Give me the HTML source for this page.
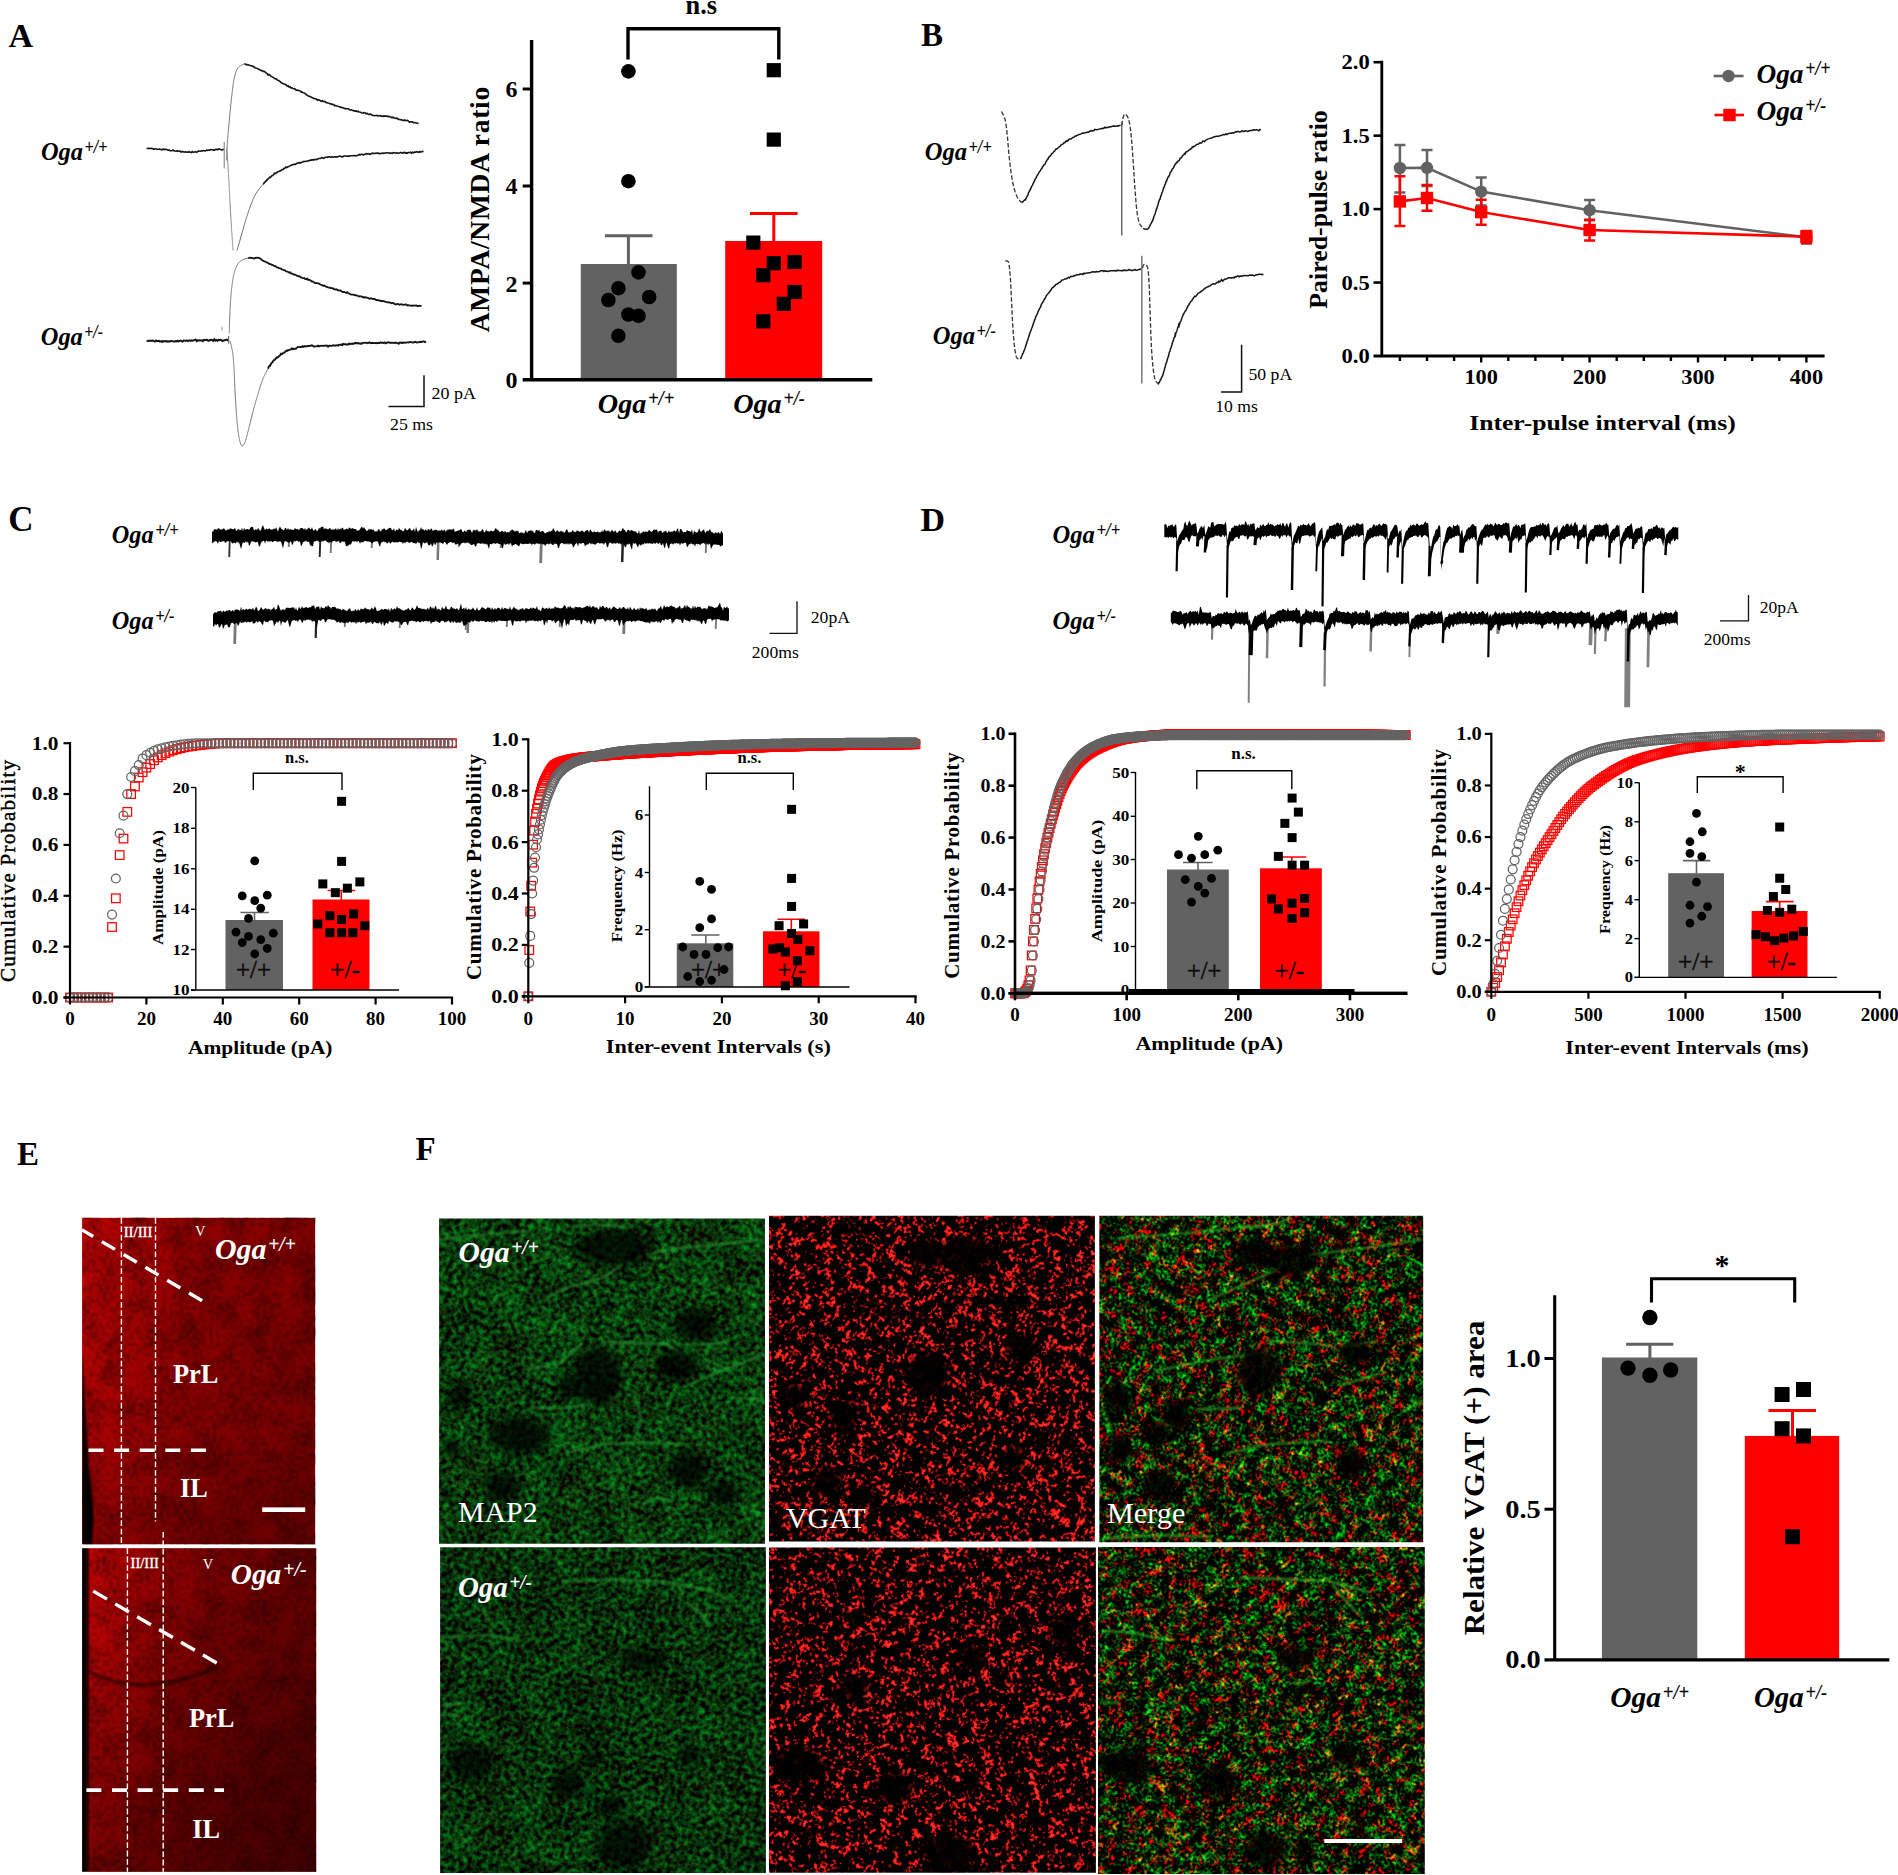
<!DOCTYPE html>
<html lang="en"><head><meta charset="utf-8"><title>Figure</title>
<style>
html,body{margin:0;padding:0;background:#fff;overflow:hidden}
svg{display:block;font-family:"Liberation Serif",serif}
</style></head><body>
<svg xmlns="http://www.w3.org/2000/svg" width="1898" height="1875" viewBox="0 0 1898 1875">
<defs>
<marker id="mc" markerWidth="12" markerHeight="12" refX="6" refY="6" markerUnits="userSpaceOnUse"><circle cx="6" cy="6" r="4.45" fill="none" stroke="#646464" stroke-width="1.25"/></marker>
<marker id="ms" markerWidth="12" markerHeight="12" refX="6" refY="6" markerUnits="userSpaceOnUse"><rect x="1.7" y="1.7" width="8.6" height="8.6" fill="none" stroke="#fe0000" stroke-width="1.25"/></marker>
<filter id="eD" x="0" y="0" width="1" height="1" color-interpolation-filters="sRGB"><feTurbulence type="fractalNoise" baseFrequency="0.3" numOctaves="2" seed="3"/><feColorMatrix type="matrix" values="1 0 0 0 0 0 1 0 0 0 0 0 1 0 0 0 0 0 0 1" result="f"/><feTurbulence type="fractalNoise" baseFrequency="0.04" numOctaves="2" seed="103"/><feColorMatrix type="matrix" values="1 0 0 0 0 0 1 0 0 0 0 0 1 0 0 0 0 0 0 1" result="c"/><feComposite in="f" in2="c" operator="arithmetic" k1="0" k2="1" k3="0.5" k4="-0.25"/><feColorMatrix type="matrix" values="0 0 0 0 0 0 0 0 0 0 0 0 0 0 0 1.15 0 0 0 -0.4"/><feGaussianBlur stdDeviation="0.9"/></filter>
<filter id="eD2" x="0" y="0" width="1" height="1" color-interpolation-filters="sRGB"><feTurbulence type="fractalNoise" baseFrequency="0.3" numOctaves="2" seed="13"/><feColorMatrix type="matrix" values="1 0 0 0 0 0 1 0 0 0 0 0 1 0 0 0 0 0 0 1" result="f"/><feTurbulence type="fractalNoise" baseFrequency="0.04" numOctaves="2" seed="113"/><feColorMatrix type="matrix" values="1 0 0 0 0 0 1 0 0 0 0 0 1 0 0 0 0 0 0 1" result="c"/><feComposite in="f" in2="c" operator="arithmetic" k1="0" k2="1" k3="0.5" k4="-0.25"/><feColorMatrix type="matrix" values="0 0 0 0 0 0 0 0 0 0 0 0 0 0 0 1.15 0 0 0 -0.4"/><feGaussianBlur stdDeviation="0.9"/></filter>
<filter id="gA" x="0" y="0" width="1" height="1" color-interpolation-filters="sRGB"><feTurbulence type="fractalNoise" baseFrequency="0.2" numOctaves="3" seed="21"/><feColorMatrix type="matrix" values="1 0 0 0 0 0 1 0 0 0 0 0 1 0 0 0 0 0 0 1" result="f"/><feTurbulence type="fractalNoise" baseFrequency="0.03" numOctaves="2" seed="121"/><feColorMatrix type="matrix" values="1 0 0 0 0 0 1 0 0 0 0 0 1 0 0 0 0 0 0 1" result="c"/><feComposite in="f" in2="c" operator="arithmetic" k1="0" k2="1" k3="0.35" k4="-0.175"/><feColorMatrix type="matrix" values="0.152 0 0 0 -0.0408 0 0.95 0 0 -0.255 0 0.19 0 0 -0.051000000000000004 0 0 0 0 1"/><feGaussianBlur stdDeviation="0.7"/></filter>
<filter id="gA2" x="0" y="0" width="1" height="1" color-interpolation-filters="sRGB"><feTurbulence type="fractalNoise" baseFrequency="0.2" numOctaves="3" seed="31"/><feColorMatrix type="matrix" values="1 0 0 0 0 0 1 0 0 0 0 0 1 0 0 0 0 0 0 1" result="f"/><feTurbulence type="fractalNoise" baseFrequency="0.03" numOctaves="2" seed="131"/><feColorMatrix type="matrix" values="1 0 0 0 0 0 1 0 0 0 0 0 1 0 0 0 0 0 0 1" result="c"/><feComposite in="f" in2="c" operator="arithmetic" k1="0" k2="1" k3="0.28" k4="-0.14"/><feColorMatrix type="matrix" values="0.152 0 0 0 -0.046400000000000004 0 0.95 0 0 -0.29000000000000004 0 0.19 0 0 -0.05800000000000001 0 0 0 0 1"/><feGaussianBlur stdDeviation="0.7"/></filter>
<filter id="rA" x="0" y="0" width="1" height="1" color-interpolation-filters="sRGB"><feTurbulence type="fractalNoise" baseFrequency="0.3" numOctaves="2" seed="41"/><feColorMatrix type="matrix" values="1 0 0 0 0 0 1 0 0 0 0 0 1 0 0 0 0 0 0 1" result="f"/><feTurbulence type="fractalNoise" baseFrequency="0.11" numOctaves="2" seed="241"/><feColorMatrix type="matrix" values="1 0 0 0 0 0 1 0 0 0 0 0 1 0 0 0 0 0 0 1" result="m2"/><feComposite in="f" in2="m2" operator="arithmetic" k1="1.6" k2="0.19999999999999996" k3="0" k4="0" result="f"/><feTurbulence type="fractalNoise" baseFrequency="0.05" numOctaves="2" seed="141"/><feColorMatrix type="matrix" values="1 0 0 0 0 0 1 0 0 0 0 0 1 0 0 0 0 0 0 1" result="c"/><feComposite in="f" in2="c" operator="arithmetic" k1="0" k2="1" k3="0.3" k4="-0.15"/><feColorMatrix type="matrix" values="8.0 0 0 0 -4.6 0.56 0 0 0 -0.322 0.48 0 0 0 -0.27599999999999997 0 0 0 0 1"/><feGaussianBlur stdDeviation="0.5"/></filter>
<filter id="rA2" x="0" y="0" width="1" height="1" color-interpolation-filters="sRGB"><feTurbulence type="fractalNoise" baseFrequency="0.3" numOctaves="2" seed="51"/><feColorMatrix type="matrix" values="1 0 0 0 0 0 1 0 0 0 0 0 1 0 0 0 0 0 0 1" result="f"/><feTurbulence type="fractalNoise" baseFrequency="0.11" numOctaves="2" seed="251"/><feColorMatrix type="matrix" values="1 0 0 0 0 0 1 0 0 0 0 0 1 0 0 0 0 0 0 1" result="m2"/><feComposite in="f" in2="m2" operator="arithmetic" k1="1.6" k2="0.19999999999999996" k3="0" k4="0" result="f"/><feTurbulence type="fractalNoise" baseFrequency="0.05" numOctaves="2" seed="151"/><feColorMatrix type="matrix" values="1 0 0 0 0 0 1 0 0 0 0 0 1 0 0 0 0 0 0 1" result="c"/><feComposite in="f" in2="c" operator="arithmetic" k1="0" k2="1" k3="0.3" k4="-0.15"/><feColorMatrix type="matrix" values="8.0 0 0 0 -4.6499999999999995 0.56 0 0 0 -0.3255 0.48 0 0 0 -0.27899999999999997 0 0 0 0 1"/><feGaussianBlur stdDeviation="0.5"/></filter>
<filter id="mA" x="0" y="0" width="1" height="1" color-interpolation-filters="sRGB"><feTurbulence type="fractalNoise" baseFrequency="0.33" numOctaves="2" seed="61"/><feColorMatrix type="matrix" values="1 0 0 0 0 0 1 0 0 0 0 0 1 0 0 0 0 0 0 1" result="f"/><feTurbulence type="fractalNoise" baseFrequency="0.1" numOctaves="2" seed="261"/><feColorMatrix type="matrix" values="1 0 0 0 0 0 1 0 0 0 0 0 1 0 0 0 0 0 0 1" result="m2"/><feComposite in="f" in2="m2" operator="arithmetic" k1="1.6" k2="0.19999999999999996" k3="0" k4="0" result="f"/><feTurbulence type="fractalNoise" baseFrequency="0.03" numOctaves="2" seed="161"/><feColorMatrix type="matrix" values="1 0 0 0 0 0 1 0 0 0 0 0 1 0 0 0 0 0 0 1" result="c"/><feComposite in="f" in2="c" operator="arithmetic" k1="0" k2="1" k3="0.3" k4="-0.15"/><feColorMatrix type="matrix" values="3.6 0 0 0 -2.05 0 1.7 0 0 -0.78 0 0.17 0 0 -0.07800000000000001 0 0 0 0 1"/><feGaussianBlur stdDeviation="0.6"/></filter>
<filter id="mA2" x="0" y="0" width="1" height="1" color-interpolation-filters="sRGB"><feTurbulence type="fractalNoise" baseFrequency="0.33" numOctaves="2" seed="71"/><feColorMatrix type="matrix" values="1 0 0 0 0 0 1 0 0 0 0 0 1 0 0 0 0 0 0 1" result="f"/><feTurbulence type="fractalNoise" baseFrequency="0.1" numOctaves="2" seed="271"/><feColorMatrix type="matrix" values="1 0 0 0 0 0 1 0 0 0 0 0 1 0 0 0 0 0 0 1" result="m2"/><feComposite in="f" in2="m2" operator="arithmetic" k1="1.6" k2="0.19999999999999996" k3="0" k4="0" result="f"/><feTurbulence type="fractalNoise" baseFrequency="0.03" numOctaves="2" seed="171"/><feColorMatrix type="matrix" values="1 0 0 0 0 0 1 0 0 0 0 0 1 0 0 0 0 0 0 1" result="c"/><feComposite in="f" in2="c" operator="arithmetic" k1="0" k2="1" k3="0.3" k4="-0.15"/><feColorMatrix type="matrix" values="3.6 0 0 0 -2.05 0 1.7 0 0 -0.78 0 0.17 0 0 -0.07800000000000001 0 0 0 0 1"/><feGaussianBlur stdDeviation="0.6"/></filter>
<filter id="bl6" x="-0.5" y="-0.5" width="2" height="2"><feGaussianBlur stdDeviation="5"/></filter>
<filter id="bl3" x="-0.5" y="-0.5" width="2" height="2"><feGaussianBlur stdDeviation="3"/></filter>
<filter id="bl05" x="-0.5" y="-0.1" width="2" height="1.2"><feGaussianBlur stdDeviation="0.8"/></filter>
<filter id="bl1" x="-0.2" y="-2" width="1.4" height="5"><feGaussianBlur stdDeviation="1.1"/></filter>
<linearGradient id="gE1" x1="0" x2="1" y1="0" y2="0"><stop offset="0" stop-color="#c20404"/><stop offset="0.12" stop-color="#b80303"/><stop offset="0.3" stop-color="#a80202"/><stop offset="0.45" stop-color="#960101"/><stop offset="1" stop-color="#860000"/></linearGradient>
<linearGradient id="gE2" x1="0" x2="1" y1="0" y2="0"><stop offset="0" stop-color="#000"/><stop offset="0.022" stop-color="#200"/><stop offset="0.035" stop-color="#cc0404"/><stop offset="0.15" stop-color="#bc0303"/><stop offset="0.3" stop-color="#a00202"/><stop offset="0.5" stop-color="#8a0101"/><stop offset="0.75" stop-color="#780000"/><stop offset="1" stop-color="#6a0000"/></linearGradient>
<linearGradient id="gEv2" x1="0" x2="0" y1="0" y2="1"><stop offset="0" stop-color="#000" stop-opacity="0"/><stop offset="0.35" stop-color="#000" stop-opacity="0.1"/><stop offset="0.7" stop-color="#000" stop-opacity="0.27"/><stop offset="1" stop-color="#000" stop-opacity="0.36"/></linearGradient>
<linearGradient id="gEv" x1="0" x2="0" y1="0" y2="1"><stop offset="0" stop-color="#000" stop-opacity="0"/><stop offset="0.6" stop-color="#000" stop-opacity="0.05"/><stop offset="1" stop-color="#000" stop-opacity="0.22"/></linearGradient>
<clipPath id="cE1"><rect x="82.1" y="1217.9" width="233" height="326.3"/></clipPath>
<clipPath id="cE2"><rect x="82.1" y="1548.2" width="234" height="323.6"/></clipPath>
<clipPath id="cG1"><rect x="439.1" y="1218.4" width="325.9" height="325.3"/></clipPath>
<clipPath id="cG2"><rect x="440.1" y="1547.2" width="325.8" height="325.8"/></clipPath>
<clipPath id="cR1"><rect x="769" y="1215.8" width="325.9" height="325.8"/></clipPath>
<clipPath id="cR2"><rect x="769" y="1547.4" width="326.9" height="325.3"/></clipPath>
<clipPath id="cM1"><rect x="1099.3" y="1215.8" width="323.9" height="326.4"/></clipPath>
<clipPath id="cM2"><rect x="1098" y="1547.1" width="326.8" height="326.9"/></clipPath>
</defs>
<rect width="1898" height="1875" fill="#fff"/>
<text x="8.5" y="47.2" font-size="34" font-weight="bold">A</text>
<text x="41" y="160" font-size="25.5" font-weight="bold" font-style="italic" textLength="42" lengthAdjust="spacingAndGlyphs">Oga</text>
<text x="84.53" y="153.12" font-size="18.87" font-weight="bold" font-style="italic" textLength="22.8" lengthAdjust="spacingAndGlyphs">+/+</text>
<text x="40.8" y="344.5" font-size="25.5" font-weight="bold" font-style="italic" textLength="42" lengthAdjust="spacingAndGlyphs">Oga</text>
<text x="84.33" y="337.62" font-size="18.87" font-weight="bold" font-style="italic" textLength="18.6" lengthAdjust="spacingAndGlyphs">+/-</text>
<path d="M146.62,148.37 147.64,148.53 148.65,148.39 149.67,148.23 150.69,148.45 151.71,148.33 152.73,148.77 153.74,149.29 154.76,148.73 155.78,148.76 156.79,149.24 157.81,149.27 158.82,149.27 159.84,149 160.85,149.4 161.87,149.76 162.88,149.16 163.89,149.58 164.91,149.2 165.92,149.55 166.93,149.48 167.94,150.18 168.95,149.95 169.97,150.62 170.98,150.71 171.99,150.71 173,150.01 174.02,150.81 175.03,151.08 176.05,151.22 177.06,150.73 178.08,151.19 179.1,151.11 180.11,151.26 181.13,152.01 182.15,151.44 183.17,151.79 184.19,152.19 185.21,151.74 186.22,151.97 187.24,152.1 188.26,152.12 189.28,151.69 190.29,152.16 191.31,152.59 192.32,151.53 193.33,152.3 194.35,151.94 195.36,151.55 196.37,152.34 197.38,151.76 198.39,150.91 199.4,151.2 200.42,151.21 201.43,150.79 202.44,150.95 203.45,150.56 204.47,150.7 205.48,150.88 206.5,150.07 207.51,150.3 208.53,149.99 209.55,150.13 210.56,149.59 211.58,149.74 212.6,149.81 213.62,150.13 214.63,150.15 215.65,149.23 216.67,149.36 217.69,149.82 218.71,148.85 219.73,149.34 220.75,149.43 221.77,149.87 222.79,149.64 223.81,149.26" fill="none" stroke="#151515" stroke-width="1.6"/>
<line x1="224.2" y1="142" x2="224.2" y2="168.5" stroke="#777" stroke-width="1"/>
<path d="M226.32,160.4 226.37,159.39 226.42,158.38 226.47,157.37 226.53,156.36 226.59,155.35 226.64,154.34 226.7,153.33 226.76,152.32 226.83,151.31 226.89,150.3 226.95,149.29 227.02,148.28 227.09,147.27 227.15,146.27 227.22,145.26 227.29,144.25 227.36,143.24 227.43,142.23 227.51,141.22 227.58,140.21 227.65,139.2 227.73,138.2 227.81,137.19 227.89,136.18 227.97,135.17 228.06,134.16 228.15,133.16 228.23,132.15 228.32,131.14 228.41,130.13 228.5,129.13 228.6,128.12 228.69,127.11 228.78,126.1 228.88,125.1 228.97,124.09 229.06,123.08 229.16,122.08 229.25,121.07 229.35,120.06 229.44,119.05 229.53,118.05 229.63,117.04 229.72,116.03 229.81,115.03 229.9,114.02 230,113.01 230.09,112 230.19,111 230.28,109.99 230.38,108.98 230.48,107.98 230.57,106.97 230.67,105.96 230.77,104.96 230.87,103.95 230.98,102.94 231.08,101.94 231.19,100.93 231.3,99.93 231.41,98.92 231.52,97.92 231.63,96.91 231.75,95.91 231.87,94.9 231.99,93.9 232.1,92.89 232.22,91.88 232.34,90.87 232.45,89.86 232.57,88.85 232.7,87.84 232.83,86.83 232.96,85.82 233.1,84.81 233.24,83.81 233.39,82.81 233.55,81.81 233.72,80.82 233.9,79.84 234.09,78.85 234.3,77.88 234.52,76.89 234.76,75.88 235.03,74.84 235.32,73.8 235.64,72.76 236,71.75 236.38,70.77 236.79,69.85 237.23,68.99 237.7,68.21 238.21,67.52 238.83,66.88 239.55,66.28 240.38,65.72 241.29,65.19 242.27,64.71 243.3,64.29 244.36,63.91" fill="none" stroke="#777" stroke-width="1"/>
<path d="M244.36,63.8 245.35,64.07 246.33,64.84 247.31,64.52 248.28,64.83 249.25,65.32 250.2,65.49 251.15,65.79 252.09,65.86 253.03,66.55 253.96,66.81 254.89,67.69 255.82,67.95 256.74,68.18 257.65,68.82 258.56,68.97 259.47,69.84 260.37,69.98 261.27,70.62 262.17,70.53 263.06,71.48 263.95,71.34 264.83,71.72 265.71,72.74 266.58,73.07 267.45,73.9 268.31,75.05 269.17,74.66 270.03,75.25 270.89,76.04 271.75,76.66 272.61,77 273.46,77.52 274.32,78.33 275.19,78.8 276.05,78.86 276.91,79.67 277.77,80.24 278.63,80.46 279.48,81.4 280.34,81.61 281.19,82.71 282.05,83.02 282.91,83.52 283.77,83.84 284.64,84.5 285.51,84.44 286.39,85.19 287.28,86.1 288.17,85.8 289.08,87.12 290,86.75 290.93,87.88 291.87,87.77 292.81,88.62 293.76,88.78 294.72,88.63 295.67,89.81 296.62,90.22 297.57,90.13 298.51,90.44 299.44,90.85 300.37,91.01 301.28,92.06 302.18,92.02 303.07,92.64 303.95,92.91 304.83,93.47 305.71,93.79 306.58,95.07 307.46,95.17 308.33,96.02 309.21,96.24 310.09,96.52 310.99,97.09 311.89,97.46 312.8,98.05 313.72,98.31 314.66,98.68 315.6,98.7 316.55,99.19 317.51,100.24 318.48,99.84 319.45,100.02 320.42,100.72 321.4,101.33 322.37,100.75 323.34,101.42 324.31,101.59 325.28,101.55 326.24,102.62 327.19,102.71 328.15,103.07 329.1,103.16 330.05,103.86 331.01,103.9 331.96,104.36 332.91,104.4 333.87,104.7 334.82,105.79 335.78,105.56 336.74,106.11 337.7,106.31 338.67,106.48 339.63,106.74 340.61,107.35 341.58,107.33 342.56,107.64 343.53,107.95 344.51,108.54 345.49,108.64 346.47,108.8 347.45,108.76 348.43,108.75 349.41,109.7 350.39,109.94 351.37,109.86 352.35,110.3 353.33,110.61 354.32,110.87 355.3,111.13 356.28,110.95 357.26,111.78 358.24,111.18 359.23,112.05 360.21,112.17 361.19,112.52 362.17,113.05 363.16,113.17 364.14,112.62 365.12,112.71 366.1,113.74 367.07,113.47 368.05,114.05 369.03,114.59 370.01,114.11 370.99,114.23 371.97,115.18 372.95,115.34 373.94,115.44 374.93,115.68 375.92,115.53 376.92,115.42 377.92,115.9 378.93,115.72 379.94,115.57 380.95,116.26 381.97,116.13 382.98,116.32 384,115.94 385.01,116.09 386.02,116.05 387.02,116.15 388.02,116.56 389.01,116.37 390,116.86 390.98,117.05 391.96,117.78 392.93,117.01 393.91,117.98 394.88,117.98 395.85,118.31 396.82,118.19 397.8,118.78 398.77,119.44 399.75,119.46 400.73,119.76 401.71,119.87 402.7,120.53 403.68,120.39 404.67,119.96 405.65,120.62 406.64,120.45 407.63,120.27 408.61,121.29 409.6,122.06 410.59,121.87 411.59,121.7 412.58,121.96 413.57,122.77 414.56,122.66 415.56,122.81 416.55,122.95 417.55,123.15 418.55,123.55" fill="none" stroke="#151515" stroke-width="1.6"/>
<path d="M226.82,147.87 226.89,148.89 226.95,149.9 227.02,150.92 227.09,151.94 227.16,152.95 227.23,153.97 227.29,154.99 227.36,156.01 227.43,157.02 227.49,158.04 227.56,159.06 227.63,160.07 227.69,161.09 227.76,162.11 227.82,163.13 227.89,164.14 227.95,165.16 228.01,166.18 228.08,167.2 228.14,168.21 228.2,169.23 228.26,170.25 228.32,171.27 228.39,172.28 228.45,173.3 228.51,174.32 228.57,175.34 228.62,176.35 228.68,177.37 228.74,178.39 228.8,179.41 228.85,180.42 228.91,181.44 228.96,182.46 229.02,183.48 229.07,184.49 229.12,185.51 229.18,186.53 229.23,187.55 229.28,188.57 229.33,189.58 229.39,190.6 229.44,191.62 229.49,192.64 229.54,193.66 229.59,194.67 229.64,195.69 229.69,196.71 229.75,197.73 229.8,198.75 229.85,199.77 229.9,200.78 229.96,201.8 230.01,202.82 230.06,203.84 230.12,204.85 230.17,205.87 230.23,206.89 230.28,207.91 230.34,208.93 230.4,209.94 230.46,210.96 230.51,211.98 230.57,213 230.63,214.01 230.7,215.03 230.76,216.05 230.82,217.07 230.88,218.08 230.94,219.1 231.01,220.12 231.07,221.13 231.13,222.15 231.2,223.17 231.26,224.19 231.33,225.2 231.39,226.22 231.46,227.24 231.53,228.26 231.59,229.27 231.66,230.29 231.73,231.31 231.8,232.32 231.86,233.34 231.93,234.36 232,235.37 232.07,236.39 232.14,237.41 232.21,238.43 232.28,239.44 232.35,240.46 232.43,241.48 232.5,242.49 232.57,243.51 232.64,244.53 232.71,245.54 232.79,246.56 232.86,247.58 232.93,248.59 233.01,249.61 233.08,250.63" fill="none" stroke="#888" stroke-width="1"/>
<path d="M236.84,250.63 237.14,249.66 237.43,248.69 237.73,247.71 238.02,246.74 238.32,245.77 238.61,244.8 238.9,243.83 239.19,242.86 239.48,241.88 239.77,240.91 240.06,239.94 240.35,238.96 240.63,237.99 240.92,237.02 241.2,236.04 241.47,235.06 241.75,234.09 242.02,233.11 242.29,232.13 242.57,231.15 242.84,230.17 243.11,229.2 243.38,228.22 243.66,227.24 243.93,226.26 244.21,225.29 244.49,224.31 244.78,223.34 245.06,222.37 245.36,221.4 245.65,220.43 245.95,219.46 246.25,218.49 246.55,217.52 246.86,216.55 247.16,215.58 247.47,214.61 247.78,213.64 248.1,212.68 248.42,211.71 248.74,210.75 249.07,209.79 249.41,208.83 249.75,207.88 250.09,206.92 250.45,205.98 250.81,205.03 251.18,204.08 251.55,203.13 251.93,202.19 252.31,201.24 252.71,200.29 253.11,199.35 253.53,198.42 253.95,197.5 254.4,196.59 254.85,195.69 255.32,194.8 255.81,193.93 256.32,193.08 256.85,192.22 257.4,191.38 257.97,190.55 258.56,189.72 259.17,188.91 259.8,188.1 260.44,187.3 261.1,186.52 261.77,185.74 262.46,184.97 263.16,184.21" fill="none" stroke="#666" stroke-width="1"/>
<path d="M263.16,184.38 263.81,183.48 264.48,182.33 265.16,182.03 265.85,180.92 266.56,180.73 267.27,179.3 268,178.95 268.75,178.31 269.5,177.26 270.27,177.54 271.05,176.84 271.84,175.67 272.66,175.46 273.5,174.78 274.35,173.33 275.21,173.65 276.08,173.04 276.96,172.56 277.84,171.71 278.73,171.45 279.61,170.98 280.49,170.9 281.38,170.15 282.26,169.56 283.15,169.53 284.04,168.41 284.93,167.98 285.83,167.08 286.74,167.64 287.65,167.02 288.56,166.58 289.49,166.11 290.42,165.57 291.35,165.25 292.3,164.77 293.25,164.46 294.21,164.23 295.18,164.36 296.15,163.79 297.13,163.33 298.11,162.9 299.09,162.63 300.07,163.05 301.05,162.49 302.03,162.13 303.01,161.79 304,161.35 304.99,161.46 305.98,161.55 306.97,160.98 307.97,160.84 308.96,160.66 309.96,160.57 310.95,159.87 311.94,160.09 312.93,159.71 313.92,160.03 314.91,159.32 315.9,159.5 316.89,159.56 317.88,158.78 318.87,158.46 319.85,158.48 320.84,158.2 321.83,157.7 322.82,157.95 323.82,158.25 324.81,157.43 325.81,157.33 326.81,156.99 327.81,157.31 328.81,156.76 329.81,156.72 330.82,157.37 331.82,156.65 332.83,157.18 333.84,157.25 334.85,156.82 335.86,156.86 336.87,157.23 337.88,156.53 338.89,156.37 339.9,156.09 340.91,156.46 341.92,156.85 342.93,156.64 343.95,156.02 344.96,156 345.97,156.05 346.98,156.23 347.99,156.02 349,156.09 350,156.04 351.01,155.79 352.02,155.79 353.02,155.77 354.03,155.59 355.03,155.66 356.04,155.96 357.04,155.46 358.05,155.18 359.05,154.54 360.06,155.04 361.06,154.21 362.06,154.25 363.07,154.8 364.07,154.64 365.07,154.26 366.08,153.67 367.08,153.96 368.09,153.76 369.09,154.05 370.1,154.44 371.1,153.74 372.11,153.36 373.11,153.17 374.12,153.45 375.13,153.36 376.13,153.03 377.14,153.38 378.15,152.97 379.16,153.62 380.17,153.58 381.17,153.57 382.18,153.08 383.19,153.36 384.2,153.15 385.21,153.05 386.22,153.05 387.23,152.75 388.24,152.69 389.25,153.35 390.27,153.04 391.28,153.15 392.29,153.37 393.3,152.53 394.31,152.8 395.32,153.07 396.33,153.11 397.34,152.86 398.35,153.26 399.36,152.99 400.37,152.54 401.38,152.59 402.38,153.08 403.39,152.94 404.4,152.19 405.41,153.13 406.42,152.86 407.43,153.04 408.44,152.47 409.45,152.44 410.45,152.14 411.46,153.18 412.47,152.31 413.48,152.78 414.49,152.05 415.5,152.23 416.5,151.62 417.51,151.94 418.52,152.28 419.53,151.54 420.54,152.17 421.54,151.87 422.55,151.39 423.56,151.48" fill="none" stroke="#151515" stroke-width="1.6"/>
<path d="M146.62,340.67 147.64,340.88 148.67,340.73 149.69,340.66 150.72,340.9 151.74,340.65 152.77,340.58 153.79,341.11 154.82,341.51 155.84,340.57 156.86,341.2 157.89,340.96 158.91,340.85 159.94,341.6 160.96,341.07 161.99,341.89 163.01,340.99 164.04,341.47 165.06,341.23 166.09,341.03 167.11,341.57 168.13,341.28 169.16,341.59 170.18,341.33 171.21,340.92 172.23,341.31 173.26,341.37 174.28,341.74 175.3,340.99 176.33,341.33 177.35,340.65 178.38,341.58 179.4,340.85 180.43,340.53 181.45,341.18 182.47,341.6 183.5,340.5 184.52,340.62 185.54,340.7 186.57,340.48 187.59,341.03 188.62,340.49 189.64,340.46 190.66,340.93 191.69,340.33 192.71,340.75 193.73,340.14 194.76,340 195.78,339.71 196.81,341.15 197.83,340.25 198.85,340.46 199.88,340.34 200.9,340.41 201.93,340.37 202.95,341.11 203.98,339.94 205,339.73 206.03,339.95 207.05,339.82 208.07,340.65 209.1,340.68 210.12,339.97 211.15,339.79 212.17,340.21 213.2,340.91 214.22,339.22 215.25,340.56 216.27,339.92 217.3,340.77 218.32,339.92 219.35,340.24 220.37,339.75 221.4,339.96 222.42,340.91 223.45,340.68 224.47,340.19 225.5,340 226.52,339.59 227.55,340.19 228.57,340.34" fill="none" stroke="#151515" stroke-width="2"/>
<line x1="228.7" y1="335.84" x2="228.7" y2="343.86" stroke="#555" stroke-width="1"/>
<line x1="222" y1="326.57" x2="222" y2="330.83" stroke="#999" stroke-width="1"/>
<path d="M229.32,333.33 229.33,332.31 229.33,331.29 229.34,330.27 229.35,329.26 229.37,328.24 229.38,327.22 229.41,326.2 229.43,325.18 229.46,324.16 229.48,323.14 229.52,322.13 229.55,321.11 229.59,320.09 229.63,319.08 229.67,318.06 229.71,317.04 229.75,316.02 229.8,315.01 229.85,313.99 229.9,312.98 229.95,311.96 230,310.95 230.05,309.93 230.11,308.91 230.17,307.9 230.22,306.88 230.28,305.87 230.34,304.86 230.4,303.84 230.45,302.83 230.51,301.81 230.57,300.8 230.64,299.78 230.7,298.77 230.77,297.75 230.85,296.73 230.93,295.72 231.01,294.7 231.1,293.68 231.19,292.66 231.29,291.65 231.39,290.63 231.5,289.61 231.62,288.6 231.73,287.58 231.86,286.57 231.98,285.56 232.12,284.55 232.25,283.54 232.4,282.54 232.55,281.53 232.7,280.53 232.86,279.54 233.02,278.54 233.2,277.55 233.39,276.54 233.59,275.53 233.82,274.51 234.07,273.49 234.33,272.47 234.61,271.47 234.92,270.47 235.24,269.5 235.59,268.54 235.96,267.61 236.34,266.71 236.75,265.84 237.21,264.99 237.76,264.12 238.39,263.26 239.09,262.43 239.84,261.66 240.62,260.98 241.42,260.4 242.24,259.95 243.1,259.53 244.01,259.15 244.98,258.8 245.98,258.51 247.03,258.29 248.12,258.15" fill="none" stroke="#777" stroke-width="1"/>
<path d="M248.12,258.12 249.2,258.05 250.25,257.68 251.3,257.96 252.32,257.93 253.34,258.31 254.33,258.47 255.32,257.86 256.28,257.67 257.24,257.88 258.18,257.73 259.09,257.91 259.98,258.56 260.85,258.85 261.72,259.98 262.59,260.39 263.48,261.01 264.38,261.33 265.28,261.62 266.18,262 267.09,262.65 268,262.99 268.91,263.66 269.82,264.02 270.73,264.04 271.65,264.89 272.57,264.89 273.49,265.53 274.41,266.04 275.33,265.92 276.25,266.98 277.17,267.41 278.1,267.72 279.02,268.04 279.95,268.46 280.87,268.68 281.8,269.29 282.73,269.6 283.66,270.19 284.58,270.19 285.51,271.02 286.44,271.38 287.37,271.68 288.3,271.98 289.24,272.66 290.17,272.37 291.1,273.39 292.04,273.7 292.98,274.09 293.91,274.49 294.85,274.55 295.79,275.04 296.73,275.67 297.67,275.97 298.61,276.27 299.55,276.12 300.5,277.1 301.44,277.65 302.38,277.96 303.32,278.08 304.27,277.91 305.21,279.01 306.15,279.04 307.1,278.68 308.04,279.91 308.98,279.71 309.93,280.13 310.87,280.68 311.81,281.61 312.76,281.48 313.7,282.03 314.64,282.83 315.59,283.13 316.53,282.98 317.48,283.29 318.42,283.34 319.37,283.86 320.32,284.54 321.27,284.88 322.21,285.13 323.16,285.74 324.11,285.54 325.07,286.09 326.02,286.66 326.97,286.94 327.93,287.41 328.88,287.53 329.84,287.63 330.8,288.14 331.76,288.04 332.71,288.16 333.68,289.13 334.64,289.25 335.6,289.66 336.56,289.36 337.53,290.05 338.49,290.28 339.46,290.49 340.43,290.36 341.39,291.23 342.36,291.88 343.33,292.01 344.3,291.99 345.27,292.45 346.24,292.95 347.21,292.16 348.19,293.22 349.16,293.68 350.13,293.99 351.11,294.55 352.08,294.63 353.06,294.63 354.04,294.87 355.02,295.26 356,295.1 356.98,295.48 357.96,296 358.94,296.54 359.92,296.14 360.9,296.39 361.89,296.69 362.87,297.26 363.86,297.06 364.84,297.73 365.83,297.21 366.82,297.66 367.8,297.87 368.79,298.38 369.77,298.67 370.76,298.12 371.75,298.51 372.73,299.09 373.72,299 374.71,298.96 375.69,299.94 376.68,299.99 377.66,300.21 378.65,300.14 379.63,300.81 380.62,300.65 381.61,301.26 382.59,300.88 383.58,301.11 384.57,301.64 385.55,301.58 386.54,302.2 387.53,302.28 388.52,302.12 389.51,302.62 390.5,302.68 391.49,303.25 392.48,302.96 393.47,303.19 394.47,303.85 395.46,304.31 396.46,304.39 397.45,303.96 398.45,304.15 399.45,304.68 400.45,304.33 401.45,304.21 402.45,304.67 403.45,304.9 404.45,304.64 405.45,304.51 406.46,304.68 407.46,305.42 408.47,305.08 409.47,305.36 410.47,305.54 411.48,305.73 412.48,305.51 413.49,305.82 414.5,305.46 415.5,305.68 416.51,305.53 417.52,306.23 418.53,305.92 419.54,305.74 420.54,305.89 421.55,305.95" fill="none" stroke="#151515" stroke-width="1.8"/>
<path d="M230.08,340.85 230.31,341.84 230.55,342.82 230.79,343.81 231.02,344.8 231.26,345.78 231.49,346.77 231.71,347.76 231.93,348.75 232.13,349.74 232.33,350.73 232.51,351.72 232.67,352.72 232.82,353.71 232.95,354.7 233.06,355.7 233.16,356.7 233.25,357.7 233.34,358.7 233.42,359.7 233.5,360.7 233.58,361.7 233.65,362.7 233.72,363.71 233.79,364.71 233.85,365.72 233.91,366.72 233.97,367.73 234.03,368.74 234.09,369.75 234.14,370.75 234.19,371.76 234.24,372.77 234.29,373.78 234.33,374.79 234.38,375.8 234.42,376.81 234.47,377.82 234.51,378.83 234.55,379.84 234.6,380.86 234.64,381.87 234.68,382.88 234.72,383.89 234.76,384.9 234.81,385.91 234.85,386.92 234.89,387.94 234.94,388.95 234.98,389.96 235.03,390.97 235.08,391.98 235.13,392.99 235.18,394 235.23,395.01 235.28,396.02 235.34,397.03 235.4,398.04 235.46,399.05 235.53,400.06 235.59,401.06 235.66,402.07 235.73,403.08 235.8,404.09 235.86,405.09 235.93,406.1 236,407.11 236.06,408.12 236.13,409.13 236.2,410.14 236.27,411.15 236.34,412.16 236.41,413.17 236.49,414.18 236.56,415.18 236.64,416.19 236.72,417.2 236.8,418.21 236.88,419.22 236.97,420.22 237.06,421.23 237.15,422.23 237.24,423.24 237.34,424.24 237.44,425.25 237.54,426.25 237.65,427.25 237.76,428.25 237.87,429.25 237.99,430.25 238.12,431.25 238.24,432.25 238.38,433.27 238.51,434.29 238.66,435.31 238.82,436.34 239,437.36 239.19,438.37 239.39,439.37 239.62,440.35 239.87,441.32 240.14,442.26 240.44,443.17 240.81,444.11 241.37,445.19 242.03,445.98 242.66,446.01 243.35,445.3 244,444.28 244.49,443.35 244.89,442.47 245.25,441.57 245.59,440.63 245.9,439.68 246.19,438.7 246.46,437.72 246.71,436.72 246.96,435.72 247.21,434.71 247.45,433.71 247.69,432.71 247.95,431.72 248.21,430.74 248.47,429.77 248.73,428.79 248.98,427.82 249.23,426.84 249.48,425.86 249.72,424.88 249.96,423.9 250.2,422.92 250.43,421.93 250.67,420.95 250.9,419.97 251.14,418.99 251.38,418.01 251.61,417.02 251.85,416.04 252.1,415.06 252.34,414.08 252.59,413.1 252.84,412.13 253.1,411.15 253.36,410.18 253.62,409.2 253.89,408.23 254.15,407.25 254.42,406.28 254.69,405.31 254.96,404.33 255.24,403.36 255.51,402.39 255.79,401.42 256.07,400.45 256.35,399.48 256.63,398.51 256.92,397.54 257.21,396.57 257.5,395.61 257.79,394.64 258.09,393.68 258.38,392.71 258.68,391.74 258.97,390.78 259.27,389.81 259.57,388.84 259.87,387.87 260.17,386.91 260.48,385.94 260.79,384.98 261.11,384.02 261.44,383.06 261.77,382.11 262.11,381.16 262.46,380.22 262.82,379.28 263.2,378.35 263.58,377.43 263.99,376.51 264.41,375.59 264.84,374.68 265.28,373.77 265.74,372.87 266.21,371.97 266.68,371.08 267.17,370.19 267.67,369.3 268.17,368.42" fill="none" stroke="#777" stroke-width="1"/>
<path d="M268.17,368.67 268.64,366.94 269.14,366.22 269.66,365.57 270.2,365.72 270.77,364.32 271.35,363.13 271.96,362.62 272.58,362.32 273.23,360.77 273.9,360 274.61,359.85 275.35,358.91 276.12,358.3 276.91,357.24 277.72,357.45 278.54,356.76 279.37,355.76 280.2,355.22 281.03,353.71 281.87,354.07 282.72,353.22 283.59,352.89 284.47,352.45 285.36,351.59 286.26,350.64 287.17,350.94 288.08,350.17 289.01,349.97 289.96,349.55 290.91,349.32 291.88,348.33 292.85,349.27 293.84,348.66 294.82,348.7 295.82,348.76 296.82,347.85 297.81,347 298.81,347.12 299.81,346.84 300.81,346.93 301.8,346.99 302.8,346.12 303.8,346.8 304.81,346.01 305.81,346.51 306.82,346.25 307.83,346.07 308.84,346.05 309.85,345.81 310.86,345.72 311.88,345.3 312.89,345.86 313.9,346.51 314.91,346.56 315.92,346.33 316.93,346.11 317.94,345.63 318.95,346.37 319.97,345.85 320.98,345.84 321.99,345.76 323,345.9 324.01,345.71 325.03,345.84 326.04,345.48 327.05,345.72 328.06,346.63 329.07,345.77 330.07,345.66 331.08,345.87 332.09,345.86 333.1,345.15 334.11,345.38 335.12,345.68 336.12,345.35 337.13,345.2 338.14,345.6 339.15,344.71 340.16,344.86 341.16,344.54 342.17,345.14 343.18,343.82 344.19,344.17 345.2,344.12 346.2,344.44 347.21,344.33 348.22,344.52 349.23,343.41 350.24,344.16 351.25,343.74 352.26,343.55 353.27,343.92 354.28,343.35 355.29,342.89 356.3,343.43 357.31,342.98 358.32,343.22 359.33,343.53 360.34,343.45 361.35,343.85 362.36,343.17 363.38,342.66 364.39,342.88 365.4,342.78 366.41,342.64 367.42,343.18 368.43,342.76 369.44,342.27 370.45,343.17 371.47,342.87 372.48,343.01 373.49,342.91 374.5,343.08 375.51,342.87 376.52,343.29 377.53,343.01 378.55,342.99 379.56,343 380.57,342.35 381.58,342.8 382.59,342.77 383.6,342.93 384.62,342.38 385.63,343.43 386.64,342.89 387.65,342.43 388.66,342.26 389.68,342.76 390.69,342.83 391.7,342.61 392.71,342.89 393.72,342.63 394.74,343.05 395.75,342.6 396.76,342.84 397.77,343.2 398.78,343.76 399.79,342.5 400.8,342.69 401.81,342.56 402.83,343.12 403.84,342.43 404.85,342.65 405.86,342.78 406.87,342.42 407.88,342.39 408.89,342.52 409.9,341.91 410.91,342.1 411.92,342.41 412.93,342.55 413.94,342.38 414.95,341.76 415.96,342.16 416.97,342.54 417.98,342.38 419,342.09 420.01,341.74 421.02,342.2 422.03,341.7 423.04,341.42 424.05,341.47 425.06,342.19 426.07,341.68" fill="none" stroke="#151515" stroke-width="1.9"/>
<path d="M388.5,406.5H424V375.3" fill="none" stroke="#111" stroke-width="1.5"/>
<text x="431.5" y="399.3" font-size="17.5" textLength="44.5" lengthAdjust="spacingAndGlyphs">20 pA</text>
<text x="390" y="430.2" font-size="17.5" textLength="43" lengthAdjust="spacingAndGlyphs">25 ms</text>
<rect x="580.8" y="264" width="96" height="116" fill="#626262"/>
<rect x="725.2" y="241" width="97" height="139" fill="#fe0000"/>
<path d="M628.4,265V235.8M605,235.8H652.5" fill="none" stroke="#626262" stroke-width="3"/>
<path d="M773.8,242V213.5M750,213.5H797.6" fill="none" stroke="#fe0000" stroke-width="3"/>
<path d="M531.6,40V381.4M522.7,379.7H872.3" fill="none" stroke="#000" stroke-width="3.4"/>
<line x1="522.7" y1="89" x2="531" y2="89" stroke="#000" stroke-width="3"/>
<text x="517.6" y="97.4" font-size="24" font-weight="bold" text-anchor="end">6</text>
<line x1="522.7" y1="186" x2="531" y2="186" stroke="#000" stroke-width="3"/>
<text x="517.6" y="194.4" font-size="24" font-weight="bold" text-anchor="end">4</text>
<line x1="522.7" y1="283.1" x2="531" y2="283.1" stroke="#000" stroke-width="3"/>
<text x="517.6" y="291.5" font-size="24" font-weight="bold" text-anchor="end">2</text>
<text x="517.6" y="388.1" font-size="24" font-weight="bold" text-anchor="end">0</text>
<circle cx="628.4" cy="71.4" r="7.3" fill="#000"/>
<circle cx="628.4" cy="181.2" r="7.3" fill="#000"/>
<circle cx="638.5" cy="272.4" r="7.3" fill="#000"/>
<circle cx="618.4" cy="288.2" r="7.3" fill="#000"/>
<circle cx="608.4" cy="300" r="7.3" fill="#000"/>
<circle cx="649.2" cy="297" r="7.3" fill="#000"/>
<circle cx="628.4" cy="314.5" r="7.3" fill="#000"/>
<circle cx="638.5" cy="315.8" r="7.3" fill="#000"/>
<circle cx="618.4" cy="335.8" r="7.3" fill="#000"/>
<rect x="766.7" y="63.1" width="14.2" height="14.2" fill="#000"/>
<rect x="766.7" y="132.5" width="14.2" height="14.2" fill="#000"/>
<rect x="746.2" y="235.5" width="14.2" height="14.2" fill="#000"/>
<rect x="766.7" y="256.1" width="14.2" height="14.2" fill="#000"/>
<rect x="787.5" y="254.9" width="14.2" height="14.2" fill="#000"/>
<rect x="756.2" y="268.1" width="14.2" height="14.2" fill="#000"/>
<rect x="787.5" y="284.9" width="14.2" height="14.2" fill="#000"/>
<rect x="776.7" y="296.7" width="14.2" height="14.2" fill="#000"/>
<rect x="756.2" y="314.2" width="14.2" height="14.2" fill="#000"/>
<path d="M628,59.6V28.8H778.8V59.6" fill="none" stroke="#000" stroke-width="3.4"/>
<text x="685.6" y="13.5" font-size="27" font-weight="bold" textLength="31.5" lengthAdjust="spacingAndGlyphs">n.s</text>
<text x="489.3" y="209.6" font-size="27.5" font-weight="bold" text-anchor="middle" textLength="245.5" lengthAdjust="spacing" transform="rotate(-90 489.3 209.6)" font-kerning="none">AMPA/NMDA ratio</text>
<text x="597.8" y="413" font-size="28" font-weight="bold" font-style="italic" textLength="48.5" lengthAdjust="spacingAndGlyphs">Oga</text>
<text x="647.98" y="405.44" font-size="20.72" font-weight="bold" font-style="italic" textLength="26.5" lengthAdjust="spacingAndGlyphs">+/+</text>
<text x="733.2" y="413" font-size="28" font-weight="bold" font-style="italic" textLength="48.5" lengthAdjust="spacingAndGlyphs">Oga</text>
<text x="783.38" y="405.44" font-size="20.72" font-weight="bold" font-style="italic" textLength="21.5" lengthAdjust="spacingAndGlyphs">+/-</text>
<text x="921" y="46" font-size="33" font-weight="bold">B</text>
<text x="924.8" y="160" font-size="26" font-weight="bold" font-style="italic" textLength="42.2" lengthAdjust="spacingAndGlyphs">Oga</text>
<text x="968.56" y="152.98" font-size="19.24" font-weight="bold" font-style="italic" textLength="23.2" lengthAdjust="spacingAndGlyphs">+/+</text>
<text x="932.8" y="343.9" font-size="26" font-weight="bold" font-style="italic" textLength="42.2" lengthAdjust="spacingAndGlyphs">Oga</text>
<text x="976.56" y="336.88" font-size="19.24" font-weight="bold" font-style="italic" textLength="19.3" lengthAdjust="spacingAndGlyphs">+/-</text>
<path d="M1001.5,111.53 1002,112.44 1002.49,113.35 1002.97,114.27 1003.43,115.19 1003.85,116.12 1004.25,117.06 1004.6,118 1004.91,118.96 1005.17,119.91 1005.39,120.88 1005.58,121.86 1005.75,122.84 1005.92,123.84 1006.07,124.84 1006.21,125.84 1006.35,126.85 1006.47,127.87 1006.59,128.88 1006.7,129.9 1006.81,130.92 1006.92,131.94 1007.02,132.96 1007.13,133.98 1007.23,134.99 1007.34,136 1007.44,137.01 1007.54,138.02 1007.63,139.03 1007.72,140.04 1007.81,141.05 1007.89,142.06 1007.97,143.07 1008.05,144.09 1008.13,145.1 1008.21,146.11 1008.29,147.12 1008.37,148.14 1008.46,149.15 1008.54,150.16 1008.63,151.17 1008.72,152.18 1008.81,153.19 1008.9,154.2 1009,155.21 1009.11,156.22 1009.21,157.23 1009.32,158.24 1009.43,159.25 1009.54,160.26 1009.65,161.27 1009.77,162.28 1009.89,163.29 1010.01,164.3 1010.13,165.31 1010.25,166.32 1010.38,167.32 1010.51,168.33 1010.64,169.34 1010.78,170.34 1010.92,171.35 1011.06,172.35 1011.21,173.36 1011.36,174.36 1011.52,175.36 1011.68,176.36 1011.84,177.36 1012.01,178.37 1012.18,179.37 1012.36,180.38 1012.55,181.38 1012.75,182.38 1012.95,183.37 1013.17,184.37 1013.39,185.36 1013.62,186.34 1013.87,187.32 1014.12,188.29 1014.39,189.27 1014.68,190.26 1014.98,191.24 1015.31,192.23 1015.65,193.2 1016.01,194.16 1016.4,195.11 1016.81,196.04 1017.24,196.94 1017.69,197.81 1018.19,198.65 1018.76,199.47 1019.4,200.26 1020.09,201.03 1020.81,201.78 1021.55,202.51" fill="none" stroke="#333" stroke-width="1.3" stroke-dasharray="4.5 2"/>
<path d="M1021.55,202.85 1022.41,201.76 1023.24,201.55 1024.02,200.43 1024.74,199.87 1025.37,199.92 1025.93,198.62 1026.45,197.41 1026.93,196.67 1027.39,195.88 1027.82,195.22 1028.24,193.77 1028.65,192.43 1029.06,191.91 1029.48,191.05 1029.9,190.14 1030.34,189.58 1030.79,188.37 1031.24,187.61 1031.68,186.12 1032.12,185.8 1032.57,185.25 1033.01,183.94 1033.45,182.87 1033.89,181.93 1034.34,181.51 1034.8,179.79 1035.26,179.13 1035.73,178.41 1036.21,177.6 1036.7,176.36 1037.2,175.71 1037.72,174.66 1038.24,173.91 1038.77,172.98 1039.31,171.81 1039.86,171.29 1040.41,170.71 1040.96,169.3 1041.51,168.67 1042.07,168.09 1042.62,166.72 1043.17,166.24 1043.71,165.01 1044.25,164.8 1044.79,164.29 1045.33,163.33 1045.87,161.8 1046.41,161.22 1046.96,160.18 1047.52,159.32 1048.09,158.92 1048.67,157.23 1049.26,157.13 1049.87,156 1050.5,155.66 1051.15,154.53 1051.82,153.52 1052.51,153.06 1053.21,152.46 1053.94,151.53 1054.67,150.95 1055.41,149.94 1056.16,148.77 1056.91,149 1057.67,148.27 1058.44,147.45 1059.21,146.77 1059.99,146.41 1060.78,145.31 1061.57,144.6 1062.38,144.13 1063.19,143.93 1064.01,142.55 1064.84,142.73 1065.68,141.61 1066.52,140.91 1067.37,141.07 1068.22,140.14 1069.08,139.26 1069.96,139.03 1070.84,138.91 1071.73,138.5 1072.63,137.52 1073.53,137.3 1074.44,136.92 1075.36,136.07 1076.28,135.93 1077.21,135.39 1078.14,134.84 1079.08,134.47 1080.01,134.27 1080.95,133.91 1081.9,133.4 1082.86,133.12 1083.82,133.27 1084.78,132.7 1085.75,132.61 1086.73,132.42 1087.71,131.96 1088.69,132.19 1089.68,131 1090.67,131.24 1091.66,130.65 1092.64,131.06 1093.63,130.77 1094.62,129.44 1095.61,129.51 1096.59,129.77 1097.58,129.59 1098.57,129.36 1099.56,128.91 1100.56,128.86 1101.55,128.72 1102.55,128.31 1103.55,128.45 1104.54,127.27 1105.54,127.96 1106.54,127.27 1107.54,127.69 1108.53,127.16 1109.53,126.79 1110.53,126.99 1111.53,126.44 1112.53,126.27 1113.53,125.91 1114.53,126.21 1115.53,126.21 1116.54,126.21 1117.54,125.71 1118.54,125.92 1119.55,125.46 1120.55,125.29" fill="none" stroke="#161616" stroke-width="1.5"/>
<line x1="1121.8" y1="122.81" x2="1121.8" y2="235.59" stroke="#444" stroke-width="1.2"/>
<path d="M1122.06,125.31 1122.08,124.25 1122.15,123.2 1122.25,122.17 1122.39,121.16 1122.56,120.17 1122.75,119.2 1122.95,118.24 1123.2,117.25 1123.61,116.08 1124.12,114.97 1124.69,114.21 1125.25,114.07 1125.93,114.52 1126.66,115.36 1127.36,116.39 1127.91,117.42 1128.26,118.31 1128.56,119.22 1128.83,120.16 1129.08,121.13 1129.3,122.12 1129.51,123.13 1129.7,124.15 1129.87,125.18 1130.03,126.22 1130.18,127.26 1130.32,128.29 1130.45,129.32 1130.58,130.33 1130.7,131.33 1130.82,132.33 1130.93,133.34 1131.04,134.35 1131.15,135.35 1131.25,136.36 1131.35,137.37 1131.44,138.38 1131.53,139.39 1131.62,140.4 1131.71,141.41 1131.79,142.43 1131.87,143.44 1131.95,144.45 1132.03,145.47 1132.1,146.48 1132.18,147.5 1132.25,148.51 1132.32,149.52 1132.39,150.54 1132.46,151.55 1132.53,152.57 1132.6,153.58 1132.67,154.6 1132.74,155.61 1132.81,156.63 1132.88,157.64 1132.96,158.65 1133.03,159.67 1133.1,160.68 1133.18,161.69 1133.25,162.7 1133.32,163.72 1133.39,164.73 1133.46,165.74 1133.53,166.76 1133.59,167.77 1133.66,168.78 1133.72,169.79 1133.79,170.81 1133.85,171.82 1133.91,172.83 1133.98,173.85 1134.04,174.86 1134.1,175.87 1134.17,176.89 1134.23,177.9 1134.29,178.91 1134.36,179.93 1134.42,180.94 1134.49,181.95 1134.56,182.97 1134.62,183.98 1134.69,184.99 1134.76,186.01 1134.83,187.02 1134.91,188.03 1134.98,189.04 1135.06,190.06 1135.13,191.07 1135.21,192.08 1135.28,193.09 1135.36,194.11 1135.43,195.12 1135.51,196.14 1135.58,197.15 1135.66,198.16 1135.74,199.18 1135.82,200.19 1135.9,201.21 1135.98,202.22 1136.07,203.23 1136.16,204.24 1136.26,205.25 1136.36,206.26 1136.47,207.27 1136.57,208.28 1136.69,209.28 1136.81,210.29 1136.94,211.29 1137.07,212.31 1137.21,213.34 1137.36,214.37 1137.52,215.4 1137.69,216.43 1137.88,217.45 1138.08,218.46 1138.31,219.46 1138.55,220.43 1138.81,221.39 1139.09,222.31 1139.41,223.21 1139.81,224.08 1140.34,224.92 1140.96,225.74 1141.64,226.53 1142.36,227.31 1143.11,228.07" fill="none" stroke="#333" stroke-width="1.3" stroke-dasharray="4.5 2"/>
<path d="M1143.11,228.27 1144.18,229.06 1145.19,228.96 1146.12,229.19 1146.93,229.27 1147.65,229.08 1148.32,228.09 1148.94,227.86 1149.52,226.32 1150.06,225.55 1150.57,224.13 1151.04,223.67 1151.49,222.79 1151.92,221.59 1152.33,221.52 1152.72,220 1153.1,219.55 1153.47,218.31 1153.83,216.79 1154.18,215.94 1154.54,215.28 1154.89,214.2 1155.23,213.25 1155.56,212.18 1155.88,210.69 1156.2,210.28 1156.51,208.62 1156.82,208.57 1157.13,207.22 1157.44,206.26 1157.74,205.47 1158.05,204.68 1158.36,203.12 1158.67,202.04 1158.99,201.32 1159.32,200.02 1159.65,199.44 1159.97,199.38 1160.3,197.5 1160.62,197.14 1160.94,195.47 1161.26,195.09 1161.59,193.91 1161.91,193.05 1162.24,192.31 1162.57,191.77 1162.9,190.26 1163.24,189.29 1163.59,187.95 1163.94,187.55 1164.29,186.31 1164.65,185.75 1165.02,184.51 1165.4,184.2 1165.79,181.97 1166.18,181.63 1166.58,181.11 1166.99,179.75 1167.4,178.67 1167.83,177.93 1168.25,176.62 1168.69,176.22 1169.14,176.12 1169.59,174.75 1170.05,173.06 1170.52,172.24 1171,171.52 1171.49,171.13 1171.99,169.62 1172.5,168.8 1173.02,168.5 1173.55,167.65 1174.09,166.38 1174.66,165.28 1175.24,164.3 1175.83,163.77 1176.44,162.42 1177.05,162.65 1177.69,161.36 1178.33,160.95 1178.98,160.65 1179.64,159.63 1180.31,158.06 1180.99,158.01 1181.68,157.37 1182.37,155.98 1183.07,155.19 1183.78,154.79 1184.5,153.57 1185.23,153.96 1185.98,151.92 1186.74,151.7 1187.51,151.32 1188.29,150.68 1189.08,150.17 1189.88,149.57 1190.69,148.78 1191.51,148.64 1192.33,146.89 1193.16,147.06 1193.99,146.24 1194.83,145.98 1195.68,145.48 1196.52,144.56 1197.39,144.14 1198.26,144.14 1199.14,143.49 1200.03,142.64 1200.93,143.11 1201.84,142.74 1202.75,140.97 1203.67,141.15 1204.6,141.5 1205.53,140.48 1206.46,139.89 1207.39,139.36 1208.33,138.89 1209.27,138.66 1210.21,138.2 1211.17,138.33 1212.13,137.61 1213.09,137.29 1214.06,136.73 1215.04,136.84 1216.01,136.27 1216.99,136.25 1217.97,136.41 1218.95,135.92 1219.93,135.73 1220.91,135.44 1221.9,135.1 1222.88,134.81 1223.87,134.53 1224.86,134.7 1225.85,133.85 1226.84,134.5 1227.83,133.85 1228.83,133.39 1229.82,133.29 1230.82,133.05 1231.81,133.16 1232.81,132.67 1233.8,133.15 1234.8,132.29 1235.79,131.59 1236.79,131.95 1237.78,131.32 1238.78,131.83 1239.78,132.04 1240.77,131.73 1241.77,130.88 1242.77,130.93 1243.77,131.69 1244.77,131.05 1245.78,130.84 1246.78,131.11 1247.78,131.5 1248.79,131.01 1249.79,130.51 1250.8,130.5 1251.81,130.51 1252.81,130 1253.82,129.78 1254.83,130.1 1255.84,129.69 1256.85,129.94 1257.86,129.95 1258.88,130.7 1259.89,129.55 1260.9,129.78" fill="none" stroke="#161616" stroke-width="1.5"/>
<path d="M1005.26,260.65 1006.46,260.77 1007.46,261.01 1007.95,261.33 1008.3,261.88 1008.59,262.66 1008.85,263.62 1009.06,264.71 1009.25,265.89 1009.4,267.11 1009.54,268.33 1009.66,269.5 1009.76,270.58 1009.86,271.58 1009.96,272.58 1010.05,273.59 1010.13,274.6 1010.21,275.6 1010.29,276.61 1010.36,277.62 1010.43,278.64 1010.5,279.65 1010.56,280.66 1010.62,281.68 1010.67,282.69 1010.73,283.71 1010.78,284.72 1010.83,285.74 1010.88,286.76 1010.93,287.77 1010.97,288.79 1011.02,289.81 1011.06,290.83 1011.11,291.84 1011.15,292.86 1011.2,293.88 1011.24,294.9 1011.29,295.91 1011.34,296.93 1011.39,297.95 1011.44,298.96 1011.49,299.98 1011.54,300.99 1011.59,302 1011.65,303.02 1011.7,304.03 1011.75,305.05 1011.79,306.06 1011.84,307.08 1011.89,308.09 1011.93,309.11 1011.98,310.12 1012.03,311.14 1012.07,312.15 1012.12,313.17 1012.16,314.18 1012.21,315.2 1012.26,316.21 1012.31,317.22 1012.36,318.24 1012.41,319.25 1012.46,320.27 1012.51,321.28 1012.57,322.29 1012.63,323.31 1012.69,324.32 1012.75,325.33 1012.82,326.35 1012.88,327.36 1012.95,328.38 1013.01,329.39 1013.08,330.41 1013.15,331.42 1013.22,332.44 1013.29,333.46 1013.37,334.47 1013.44,335.49 1013.52,336.51 1013.61,337.52 1013.69,338.53 1013.79,339.55 1013.88,340.56 1013.98,341.57 1014.08,342.58 1014.19,343.59 1014.3,344.59 1014.42,345.6 1014.55,346.6 1014.68,347.6 1014.82,348.6 1014.96,349.67 1015.12,350.82 1015.29,352.01 1015.47,353.2 1015.69,354.36 1015.93,355.45 1016.21,356.44 1016.53,357.28 1016.9,357.95 1017.32,358.41 1018.04,358.75 1019.12,359 1020.3,359.15" fill="none" stroke="#333" stroke-width="1.3" stroke-dasharray="4.5 2"/>
<path d="M1020.3,359.1 1020.75,358.38 1021.19,357.65 1021.63,356.28 1022.06,355.27 1022.48,354.11 1022.89,353.41 1023.29,352.92 1023.68,351.85 1024.05,350.6 1024.41,349.86 1024.76,349.04 1025.09,348.23 1025.42,346.95 1025.74,346.1 1026.05,344.68 1026.36,343.92 1026.67,343.79 1026.97,341.69 1027.27,341.28 1027.58,340.48 1027.88,339.35 1028.19,338.26 1028.5,337.52 1028.82,336.58 1029.14,335.61 1029.47,334.12 1029.8,333.68 1030.12,332.52 1030.45,331.66 1030.77,330.94 1031.1,330.11 1031.42,329.23 1031.75,327.86 1032.08,327.34 1032.42,326.46 1032.75,325.5 1033.09,324.63 1033.44,323.22 1033.78,322.27 1034.14,321.63 1034.49,320.03 1034.86,319.57 1035.23,318.41 1035.6,317.53 1035.98,316.19 1036.37,315.51 1036.76,314.85 1037.16,314.19 1037.56,313.3 1037.97,312.06 1038.38,311.1 1038.8,309.99 1039.23,309.45 1039.66,308.34 1040.09,307.69 1040.54,307.13 1040.99,305.7 1041.44,304.37 1041.91,303.67 1042.37,302.6 1042.85,301.78 1043.32,301.64 1043.81,300.42 1044.3,299.01 1044.8,298.78 1045.31,298.08 1045.83,296.72 1046.36,295.77 1046.9,295.02 1047.46,294.37 1048.02,293.66 1048.61,293.02 1049.2,292.24 1049.82,291.45 1050.45,290.73 1051.11,289.74 1051.79,288.32 1052.48,287.98 1053.19,287.37 1053.92,286.43 1054.66,286.12 1055.41,285.06 1056.17,284.24 1056.95,284.33 1057.74,283.52 1058.54,282.83 1059.36,282.51 1060.21,282.02 1061.07,281.29 1061.96,279.95 1062.85,280 1063.76,279.6 1064.69,278.99 1065.61,278.91 1066.55,278.8 1067.49,277.9 1068.43,277.33 1069.37,277.92 1070.31,276.85 1071.25,276.3 1072.2,276.43 1073.15,276.2 1074.12,275.57 1075.08,275.74 1076.06,275.1 1077.04,274.71 1078.02,274.79 1079,274.73 1079.99,274.08 1080.98,274.15 1081.97,273.82 1082.96,274.49 1083.95,273.24 1084.94,273.69 1085.93,273.09 1086.92,272.89 1087.91,272.98 1088.9,272.86 1089.9,272.81 1090.89,272.37 1091.89,271.93 1092.89,271.81 1093.89,271.98 1094.89,271.87 1095.89,272 1096.89,271.59 1097.89,271.69 1098.89,271.74 1099.9,271.26 1100.9,270.71 1101.9,270.75 1102.9,270.63 1103.91,271.5 1104.91,270.73 1105.92,271.32 1106.92,271.1 1107.93,271.41 1108.94,271.17 1109.94,270.81 1110.95,270.75 1111.96,270.81 1112.96,270.81 1113.97,270.57 1114.98,270.69 1115.98,271.14 1116.99,270.12 1117.99,270.68 1119,270.3 1120.01,270.6 1121.01,270.76 1122.02,270.46 1123.02,270.68 1124.03,269.94 1125.04,270.72 1126.04,270.17 1127.05,270.51 1128.05,270.34 1129.06,269.47 1130.06,269.97 1131.07,270.22 1132.07,270.57 1133.08,270.13 1134.08,270.05 1135.08,269.48 1136.09,270.26 1137.09,270.3 1138.09,269.69 1139.1,269.53 1140.1,269.02 1141.1,269.69" fill="none" stroke="#161616" stroke-width="1.5"/>
<line x1="1141.85" y1="255.64" x2="1141.85" y2="383.46" stroke="#555" stroke-width="1.2"/>
<path d="M1142.61,268.17 1142.84,266.62 1143.23,265.45 1143.73,264.71 1144.3,264.41 1145.15,264.6 1146.25,265.13 1146.91,265.74 1147.22,266.41 1147.48,267.22 1147.72,268.15 1147.92,269.16 1148.09,270.24 1148.23,271.36 1148.35,272.49 1148.46,273.61 1148.55,274.7 1148.63,275.74 1148.7,276.74 1148.77,277.74 1148.83,278.75 1148.89,279.75 1148.95,280.75 1149.01,281.76 1149.06,282.77 1149.12,283.77 1149.17,284.78 1149.21,285.79 1149.26,286.8 1149.3,287.81 1149.34,288.82 1149.38,289.83 1149.41,290.84 1149.45,291.85 1149.48,292.86 1149.52,293.87 1149.55,294.88 1149.58,295.89 1149.61,296.91 1149.64,297.92 1149.67,298.93 1149.7,299.94 1149.73,300.96 1149.76,301.97 1149.79,302.98 1149.82,303.99 1149.85,305.01 1149.88,306.02 1149.91,307.03 1149.94,308.04 1149.97,309.05 1150.01,310.06 1150.04,311.08 1150.08,312.09 1150.12,313.1 1150.16,314.11 1150.2,315.11 1150.23,316.12 1150.27,317.13 1150.31,318.14 1150.34,319.15 1150.38,320.16 1150.41,321.17 1150.45,322.18 1150.48,323.19 1150.51,324.2 1150.55,325.22 1150.58,326.23 1150.62,327.24 1150.65,328.25 1150.69,329.26 1150.72,330.27 1150.76,331.28 1150.79,332.29 1150.83,333.3 1150.87,334.3 1150.91,335.31 1150.95,336.32 1150.99,337.33 1151.03,338.34 1151.07,339.35 1151.11,340.36 1151.16,341.37 1151.21,342.38 1151.25,343.39 1151.3,344.4 1151.35,345.41 1151.41,346.42 1151.46,347.42 1151.52,348.43 1151.57,349.44 1151.63,350.45 1151.69,351.46 1151.76,352.47 1151.82,353.49 1151.89,354.5 1151.96,355.51 1152.03,356.52 1152.1,357.53 1152.18,358.53 1152.26,359.54 1152.34,360.55 1152.43,361.56 1152.52,362.56 1152.62,363.57 1152.72,364.57 1152.82,365.58 1152.92,366.58 1153.04,367.58 1153.15,368.58 1153.27,369.59 1153.39,370.62 1153.53,371.67 1153.67,372.72 1153.82,373.77 1153.99,374.82 1154.18,375.85 1154.39,376.85 1154.62,377.84 1154.87,378.78 1155.16,379.69 1155.47,380.55 1155.86,381.35 1156.49,382.1 1157.3,382.79 1158.15,383.46" fill="none" stroke="#333" stroke-width="1.3" stroke-dasharray="4.5 2"/>
<path d="M1158.15,384.4 1158.73,382.87 1159.31,382.22 1159.87,381.11 1160.4,379.71 1160.91,379.65 1161.38,377.87 1161.81,377.33 1162.2,376.59 1162.56,375.88 1162.91,374.78 1163.24,373.83 1163.55,372.47 1163.85,371.32 1164.14,370.83 1164.42,369.58 1164.7,368.39 1164.97,367.43 1165.23,366.71 1165.5,365.25 1165.76,364.44 1166.03,363.36 1166.31,363.02 1166.59,362.12 1166.88,361.71 1167.18,359.52 1167.48,358.84 1167.77,358.43 1168.07,357.07 1168.36,356.07 1168.65,355.81 1168.95,354.13 1169.24,352.88 1169.53,351.85 1169.83,351.46 1170.12,350.49 1170.42,348.94 1170.72,348.11 1171.02,347.67 1171.33,346.73 1171.63,345.34 1171.94,344.82 1172.25,343.84 1172.57,342.06 1172.89,341.62 1173.21,340.91 1173.54,339.61 1173.87,338.11 1174.2,337.81 1174.53,337.21 1174.86,336.55 1175.2,334.27 1175.53,335 1175.88,332.74 1176.22,332.52 1176.57,331.66 1176.92,330.63 1177.27,329.39 1177.63,327.98 1177.99,327.67 1178.36,326.26 1178.73,324.68 1179.1,325.62 1179.48,323.94 1179.87,323.4 1180.26,321.52 1180.65,321.42 1181.06,320.54 1181.46,319.61 1181.87,318.13 1182.29,316.79 1182.71,316.23 1183.14,314.6 1183.57,313.85 1184.01,313.57 1184.46,312.28 1184.91,311.66 1185.38,310.78 1185.85,310.6 1186.33,309.49 1186.82,308.14 1187.32,307.7 1187.82,306.15 1188.34,305.45 1188.87,305.03 1189.42,303.42 1189.98,302.91 1190.55,301.69 1191.13,301.35 1191.73,301.05 1192.35,299.4 1192.97,298.94 1193.61,297.76 1194.27,296.91 1194.94,296.14 1195.62,296.37 1196.32,296 1197.05,294.67 1197.81,293.59 1198.58,293.44 1199.38,292.44 1200.19,292.22 1201.02,291.44 1201.86,290.84 1202.71,290.38 1203.56,289.4 1204.41,288.92 1205.27,287.92 1206.12,287.85 1206.98,287 1207.85,286.94 1208.74,286.16 1209.62,286.05 1210.52,285.7 1211.43,284.58 1212.33,284.34 1213.25,283.85 1214.17,284.01 1215.09,283.92 1216.02,283.21 1216.94,282.39 1217.87,282.64 1218.8,281.22 1219.74,281.89 1220.68,280.76 1221.62,279.64 1222.57,281.17 1223.52,280.43 1224.47,279.16 1225.43,279.24 1226.4,278.79 1227.36,278.6 1228.33,277.76 1229.3,277.79 1230.28,277.97 1231.26,277.69 1232.24,277.85 1233.23,277.29 1234.22,277.92 1235.22,276.69 1236.22,276.88 1237.22,275.98 1238.22,276.08 1239.23,276.86 1240.24,275.94 1241.25,276.34 1242.26,276.03 1243.26,275.58 1244.27,275.72 1245.28,275.56 1246.28,275.48 1247.29,275.82 1248.29,275.69 1249.3,275.17 1250.3,274.97 1251.31,275.3 1252.31,275.09 1253.32,275.4 1254.33,275.89 1255.34,275.19 1256.34,274.81 1257.35,274.69 1258.36,274.39 1259.37,274.31 1260.38,274.22 1261.39,274.39 1262.4,274.33 1263.41,274.7" fill="none" stroke="#161616" stroke-width="1.5"/>
<path d="M1221.1,392H1241.6V344.8" fill="none" stroke="#111" stroke-width="1.5"/>
<text x="1248.5" y="379.5" font-size="17.5" textLength="43.7" lengthAdjust="spacingAndGlyphs">50 pA</text>
<text x="1215.3" y="412.2" font-size="17.5" textLength="42.5" lengthAdjust="spacingAndGlyphs">10 ms</text>
<path d="M1399.9,145V192.4M1394.4,145H1405.4M1394.4,192.4H1405.4M1427,150V186M1421.5,150H1432.5M1421.5,186H1432.5M1481.2,177.4V205.6M1475.7,177.4H1486.7M1475.7,205.6H1486.7M1589.6,200V220.2M1584.1,200H1595.1M1584.1,220.2H1595.1M1806.4,231.5V243.5M1800.9,231.5H1811.9M1800.9,243.5H1811.9" fill="none" stroke="#626262" stroke-width="2.5"/>
<path d="M1399.9,168 1427,167.8 1481.2,191.6 1589.6,210.2 1806.4,237.3" fill="none" stroke="#626262" stroke-width="2.6"/>
<circle cx="1399.9" cy="168" r="6.2" fill="#626262"/>
<circle cx="1427" cy="167.8" r="6.2" fill="#626262"/>
<circle cx="1481.2" cy="191.6" r="6.2" fill="#626262"/>
<circle cx="1589.6" cy="210.2" r="6.2" fill="#626262"/>
<circle cx="1806.4" cy="237.3" r="6.2" fill="#626262"/>
<path d="M1399.9,176.2V226M1394.4,176.2H1405.4M1394.4,226H1405.4M1427,185V210.8M1421.5,185H1432.5M1421.5,210.8H1432.5M1481.2,199.8V224.7M1475.7,199.8H1486.7M1475.7,224.7H1486.7M1589.6,219.7V240.5M1584.1,219.7H1595.1M1584.1,240.5H1595.1M1806.4,231V243M1800.9,231H1811.9M1800.9,243H1811.9" fill="none" stroke="#fe0000" stroke-width="2.5"/>
<path d="M1399.9,201.4 1427,198 1481.2,212.1 1589.6,230 1806.4,236.7" fill="none" stroke="#fe0000" stroke-width="2.6"/>
<rect x="1393.7" y="195.2" width="12.4" height="12.4" fill="#fe0000"/>
<rect x="1420.8" y="191.8" width="12.4" height="12.4" fill="#fe0000"/>
<rect x="1475" y="205.9" width="12.4" height="12.4" fill="#fe0000"/>
<rect x="1583.4" y="223.8" width="12.4" height="12.4" fill="#fe0000"/>
<rect x="1800.2" y="230.5" width="12.4" height="12.4" fill="#fe0000"/>
<path d="M1381.8,60.8V357.3M1373.5,356H1824.6" fill="none" stroke="#000" stroke-width="2.8"/>
<line x1="1373.5" y1="282.55" x2="1382" y2="282.55" stroke="#000" stroke-width="2.6"/>
<line x1="1373.5" y1="209.1" x2="1382" y2="209.1" stroke="#000" stroke-width="2.6"/>
<line x1="1373.5" y1="135.65" x2="1382" y2="135.65" stroke="#000" stroke-width="2.6"/>
<line x1="1373.5" y1="62.2" x2="1382" y2="62.2" stroke="#000" stroke-width="2.6"/>
<text x="1369.8" y="363.2" font-size="20.5" font-weight="bold" text-anchor="end" textLength="28.2" lengthAdjust="spacingAndGlyphs">0.0</text>
<text x="1369.8" y="289.75" font-size="20.5" font-weight="bold" text-anchor="end" textLength="28.2" lengthAdjust="spacingAndGlyphs">0.5</text>
<text x="1369.8" y="216.3" font-size="20.5" font-weight="bold" text-anchor="end" textLength="28.2" lengthAdjust="spacingAndGlyphs">1.0</text>
<text x="1369.8" y="142.85" font-size="20.5" font-weight="bold" text-anchor="end" textLength="28.2" lengthAdjust="spacingAndGlyphs">1.5</text>
<text x="1369.8" y="69.4" font-size="20.5" font-weight="bold" text-anchor="end" textLength="28.2" lengthAdjust="spacingAndGlyphs">2.0</text>
<path d="M1399.9,356V361M1427,356V361M1454.1,356V361M1481.2,356V362.5M1508.3,356V361M1535.4,356V361M1562.5,356V361M1589.6,356V362.5M1616.7,356V361M1643.8,356V361M1670.9,356V361M1698,356V362.5M1725.1,356V361M1752.2,356V361M1779.3,356V361M1806.4,356V362.5" fill="none" stroke="#000" stroke-width="2.4"/>
<text x="1481.2" y="383.5" font-size="20.5" font-weight="bold" text-anchor="middle" textLength="33.5" lengthAdjust="spacingAndGlyphs">100</text>
<text x="1589.6" y="383.5" font-size="20.5" font-weight="bold" text-anchor="middle" textLength="33.5" lengthAdjust="spacingAndGlyphs">200</text>
<text x="1698" y="383.5" font-size="20.5" font-weight="bold" text-anchor="middle" textLength="33.5" lengthAdjust="spacingAndGlyphs">300</text>
<text x="1806.4" y="383.5" font-size="20.5" font-weight="bold" text-anchor="middle" textLength="33.5" lengthAdjust="spacingAndGlyphs">400</text>
<text x="1469.2" y="430" font-size="21.5" font-weight="bold" textLength="266.5" lengthAdjust="spacingAndGlyphs">Inter-pulse interval (ms)</text>
<text x="1327" y="209.5" font-size="25" font-weight="bold" text-anchor="middle" textLength="198.5" lengthAdjust="spacingAndGlyphs" transform="rotate(-90 1327 209.5)">Paired-pulse ratio</text>
<line x1="1713.7" y1="76" x2="1743.6" y2="76" stroke="#626262" stroke-width="2.6"/>
<circle cx="1728.5" cy="76" r="6.2" fill="#626262"/>
<line x1="1714.5" y1="115" x2="1744" y2="115" stroke="#fe0000" stroke-width="2.6"/>
<rect x="1723.3" y="108.8" width="12.4" height="12.4" fill="#fe0000"/>
<text x="1756.5" y="82.7" font-size="27.5" font-weight="bold" font-style="italic" textLength="47" lengthAdjust="spacingAndGlyphs">Oga</text>
<text x="1805.15" y="75.28" font-size="20.35" font-weight="bold" font-style="italic" textLength="25.3" lengthAdjust="spacingAndGlyphs">+/+</text>
<text x="1756.5" y="119.7" font-size="27.5" font-weight="bold" font-style="italic" textLength="47" lengthAdjust="spacingAndGlyphs">Oga</text>
<text x="1805.15" y="112.28" font-size="20.35" font-weight="bold" font-style="italic" textLength="21" lengthAdjust="spacingAndGlyphs">+/-</text>
<text x="8.3" y="531.2" font-size="35" font-weight="bold">C</text>
<text x="111.8" y="542.7" font-size="25.5" font-weight="bold" font-style="italic" textLength="41.8" lengthAdjust="spacingAndGlyphs">Oga</text>
<text x="155.13" y="535.82" font-size="18.87" font-weight="bold" font-style="italic" textLength="23.7" lengthAdjust="spacingAndGlyphs">+/+</text>
<text x="111.8" y="628.8" font-size="25.5" font-weight="bold" font-style="italic" textLength="41.8" lengthAdjust="spacingAndGlyphs">Oga</text>
<text x="155.13" y="621.91" font-size="18.87" font-weight="bold" font-style="italic" textLength="19.5" lengthAdjust="spacingAndGlyphs">+/-</text>
<path d="M229.9,534.93L229.2,557" fill="none" stroke="#333" stroke-width="1.86"/>
<path d="M320.4,534.54L319.7,557" fill="none" stroke="#222" stroke-width="1.86"/>
<path d="M331.4,534.51L330.7,553M501.4,536.97L500.7,548M706.4,537.3L705.7,553M372.4,535.13L371.7,548M289.4,534.67L288.7,547M459.4,536.4L458.7,547" fill="none" stroke="#777" stroke-width="1.86"/>
<path d="M438.4,536.11L437.7,560" fill="none" stroke="#777" stroke-width="2.48"/>
<path d="M541.4,537.49L540.7,563" fill="none" stroke="#777" stroke-width="2.79"/>
<path d="M622.9,536.67L622.2,562" fill="none" stroke="#222" stroke-width="2.48"/>
<path d="M212,530.55 213,532.15 214,529.34 215,529.46 216,529.01 217,529.97 218,527.92 219,528.46 220,529.17 221,529.81 222,529.16 223,528.65 224,528.25 225,529.76 226,530.78 227,529.54 228,529.39 229,529.67 230,528.14 231,528.83 232,528.87 233,529.49 234,529.12 235,527.81 236,530.39 237,531.01 238,528.87 239,529.69 240,529.63 241,530.3 242,527.83 243,531.27 244,527.69 245,529.45 246,529.52 247,528.94 248,528.99 249,530.08 250,528.14 251,526.97 252,526.84 253,527.19 254,530.5 255,529.7 256,529.04 257,530.34 258,528 259,528.97 260,530.94 261,530.12 262,526.59 263,525.37 264,527.89 265,530.19 266,528.5 267,528.78 268,529.68 269,528.03 270,529.24 271,529.87 272,529.51 273,529.43 274,528.33 275,529.55 276,527.24 277,529.14 278,531.8 279,528.15 280,526.57 281,528.49 282,529.37 283,530.1 284,530.13 285,528.08 286,528.06 287,530.33 288,527.73 289,530.12 290,528.67 291,529.76 292,529.69 293,529.76 294,529.81 295,527.81 296,529.22 297,528.91 298,529.22 299,530.24 300,528.58 301,528.09 302,528.07 303,528.52 304,529.69 305,527.96 306,530.13 307,529.17 308,528.59 309,527.37 310,529.1 311,529.59 312,526.88 313,530.13 314,530.63 315,529.19 316,529.35 317,531.46 318,530.16 319,527.81 320,528.77 321,527.1 322,527.11 323,526.18 324,529.61 325,528.07 326,528.95 327,528.61 328,529.72 329,528.43 330,527.88 331,529.35 332,530.33 333,528.44 334,530.32 335,529.11 336,528.25 337,530.53 338,527.97 339,530 340,528.35 341,529.41 342,527.57 343,528.02 344,530.13 345,529.18 346,529.03 347,528.52 348,529.51 349,527.5 350,527.82 351,528.89 352,528.16 353,528.32 354,529.03 355,528.97 356,528.9 357,530.99 358,530.28 359,530.54 360,529.17 361,527.52 362,526.49 363,528.86 364,526.97 365,528.63 366,530.13 367,531.09 368,530.38 369,528.39 370,529.89 371,528.5 372,530.29 373,529.27 374,530.35 375,532.26 376,530.45 377,532.02 378,529.67 379,529.12 380,530.97 381,531.41 382,528.92 383,529.63 384,527.98 385,529.35 386,530.57 387,529.51 388,528.99 389,528.09 390,527.76 391,528.25 392,530.34 393,529.98 394,528.31 395,531.66 396,529.68 397,529.6 398,530.58 399,527.41 400,529.82 401,529.8 402,530.4 403,531.44 404,530.38 405,527.86 406,529.52 407,530.13 408,530.08 409,528.53 410,528.12 411,530.57 412,530.44 413,530.1 414,528.31 415,532.1 416,526.85 417,529.65 418,532.37 419,529.91 420,530.36 421,526.91 422,529.72 423,528.72 424,530.44 425,530.32 426,529.03 427,531.18 428,528.66 429,529.48 430,530.22 431,528.34 432,529.32 433,531.31 434,529.98 435,529.72 436,529.76 437,529.94 438,531.25 439,530.13 440,530.83 441,530.3 442,529.48 443,531.38 444,529.3 445,530.46 446,532.1 447,529.28 448,530.43 449,528.77 450,529.96 451,528.89 452,530.15 453,528.44 454,529.19 455,532.33 456,530.92 457,531.34 458,530.58 459,530.38 460,529.74 461,528.69 462,530.76 463,532.49 464,531.24 465,530.14 466,532.56 467,530.28 468,530.09 469,529.45 470,529.74 471,530.54 472,533.02 473,530.61 474,529.72 475,530.2 476,530.63 477,529.01 478,531.04 479,531.69 480,531.28 481,531.61 482,529.54 483,529.1 484,532.4 485,532.2 486,529.32 487,531.25 488,531.07 489,531.65 490,531.3 491,530.53 492,531.31 493,531.28 494,531.07 495,529.1 496,527.86 497,530.29 498,529.4 499,531.5 500,531.99 501,531.51 502,530.83 503,531.32 504,532.54 505,530.47 506,532.47 507,532.32 508,531.76 509,533.07 510,530.55 511,531.04 512,528.99 513,530.54 514,530.23 515,531.9 516,530.39 517,531.49 518,530.2 519,532.64 520,533.5 521,531.74 522,533.31 523,532.13 524,533.92 525,531.66 526,529.83 527,533.21 528,531.45 529,530.46 530,530.89 531,529.84 532,531.46 533,530.48 534,533.3 535,532.41 536,529.87 537,530.05 538,531.1 539,529.62 540,531.63 541,531.69 542,530.88 543,531.12 544,532.26 545,533.26 546,533.34 547,531.72 548,532.61 549,530.85 550,532.1 551,530.58 552,531.42 553,527.97 554,529.28 555,531.59 556,532.2 557,530 558,530.98 559,531.71 560,531.8 561,530.62 562,531.64 563,531.23 564,533.05 565,532.11 566,530.03 567,529.06 568,531.58 569,532.76 570,531.64 571,532.41 572,530.9 573,529.92 574,532.23 575,531.51 576,532.14 577,529.86 578,531.57 579,530.67 580,532.24 581,530.7 582,530.66 583,530.68 584,532.7 585,531.33 586,530.45 587,530.16 588,530.12 589,532.87 590,529.25 591,530.3 592,531.93 593,532.52 594,531.05 595,532.06 596,532.03 597,532.26 598,531.22 599,532.98 600,531.39 601,532.84 602,529.94 603,532.18 604,529.75 605,529.48 606,531.67 607,530.2 608,531.59 609,529.92 610,532.85 611,531.09 612,529.83 613,531.26 614,532.03 615,530.2 616,531.61 617,533.28 618,531.98 619,531 620,530.38 621,531.63 622,529.32 623,527.63 624,530.24 625,529.77 626,532.87 627,531.1 628,529.85 629,529.64 630,531.46 631,529.99 632,530.32 633,530.94 634,531.21 635,531.41 636,531.59 637,533.01 638,533.54 639,530.05 640,534.84 641,532.15 642,533.31 643,530.98 644,531.97 645,531.65 646,531.31 647,531.89 648,531.62 649,529.83 650,530.82 651,531.77 652,531.73 653,530.62 654,529.54 655,529.69 656,529.81 657,529.62 658,532.78 659,530.63 660,531.18 661,530.26 662,532.53 663,533.04 664,530.88 665,531.7 666,530.32 667,533.1 668,532.19 669,530.26 670,532.57 671,531.6 672,531.67 673,531.62 674,530.51 675,530.66 676,531.95 677,529.31 678,528.33 679,533.53 680,529.24 681,528.87 682,530.57 683,532.1 684,532.43 685,531.64 686,532.34 687,529.74 688,530.99 689,530.9 690,531.43 691,531.98 692,529.21 693,534.9 694,530.52 695,531.86 696,532.4 697,532.44 698,531.78 699,528.32 700,530.34 701,532.38 702,530.54 703,530.41 704,528.99 705,532.93 706,532.16 707,530.62 708,531.47 709,530.19 710,529.08 711,531.42 712,532.15 713,532.61 714,533.71 715,532.63 716,532.34 717,533.46 718,532.45 719,531.88 720,534.6 721,530.98 722,531.51 723,534.02 723,545.8 722,544.99 721,546.65 720,545.86 719,544.8 718,545.08 717,544.78 716,544.43 715,544.42 714,544.39 713,545.1 712,547.02 711,549.29 710,543.38 709,544.07 708,545.19 707,543.09 706,544.6 705,544.27 704,543.04 703,543.23 702,543.32 701,544.14 700,545.33 699,543.7 698,544.22 697,544.13 696,543.47 695,546.84 694,544.08 693,544.63 692,543.86 691,543.27 690,544.53 689,544.09 688,546.4 687,546.96 686,543.07 685,542.85 684,542.98 683,543.74 682,543.42 681,542.89 680,545.69 679,542.81 678,544.17 677,542.8 676,543.48 675,543.27 674,543.46 673,544.85 672,543.29 671,543.78 670,544.02 669,549.12 668,547.45 667,544.12 666,542.62 665,548.23 664,547.09 663,543.03 662,545.1 661,545.35 660,542.85 659,543.14 658,544.14 657,542.46 656,543.09 655,544.2 654,542.61 653,544.07 652,543.42 651,543.68 650,543.25 649,543.1 648,544.07 647,542.62 646,544.3 645,543.12 644,543.54 643,544.94 642,543.86 641,545.77 640,544.98 639,544.06 638,547.41 637,545.73 636,543.53 635,543.37 634,543.98 633,542.85 632,549.45 631,548.05 630,544.01 629,543.48 628,545.08 627,543.53 626,547.33 625,547.11 624,544.88 623,543.26 622,543.6 621,544.72 620,543.34 619,543.38 618,543.73 617,542.53 616,543.84 615,543.59 614,543.09 613,543.81 612,543.73 611,542.8 610,542.59 609,543.18 608,547.23 607,547.07 606,543.04 605,542.62 604,545.05 603,543.07 602,543.65 601,542.73 600,544 599,543.1 598,542.83 597,543.25 596,543.96 595,544.98 594,543.78 593,544.45 592,543.02 591,544.64 590,542.76 589,543.54 588,544.41 587,544.41 586,544.88 585,546.41 584,543.35 583,542.98 582,543.01 581,543.98 580,543.22 579,543.19 578,546.54 577,543.04 576,543.38 575,544.47 574,546.65 573,547.57 572,543.85 571,544.6 570,543 569,545.05 568,543.04 567,544.87 566,543.57 565,543.8 564,544.47 563,543.31 562,543.06 561,543.35 560,544.13 559,547.87 558,547.88 557,543.77 556,544.27 555,543.36 554,544.36 553,545.17 552,544.59 551,543.8 550,543.28 549,544.81 548,543.53 547,543.98 546,544.39 545,546.37 544,543.69 543,544.78 542,543.66 541,543.86 540,543.55 539,544.32 538,543.45 537,543.47 536,543.23 535,544.77 534,543.96 533,543.44 532,545.05 531,543.92 530,543.33 529,543.71 528,544.04 527,543.89 526,543.64 525,543.73 524,544.15 523,544.09 522,544.2 521,543.05 520,544.32 519,546.81 518,545.22 517,545.22 516,543.86 515,544.36 514,545.02 513,544.9 512,546.78 511,543.48 510,542.9 509,545.16 508,543.36 507,544.17 506,544.2 505,545.01 504,542.98 503,547.88 502,548.37 501,543.91 500,543.97 499,544.28 498,543.6 497,542.7 496,544.06 495,543.43 494,543.4 493,543.02 492,544.46 491,543.92 490,543.97 489,548.98 488,546.18 487,543.45 486,544.79 485,543.35 484,544.38 483,543.02 482,543.74 481,543.38 480,544.09 479,542.83 478,543.4 477,543.52 476,546.73 475,546.25 474,543.75 473,544.84 472,544.66 471,545.13 470,543.43 469,543.47 468,542.52 467,542.53 466,543.12 465,543.6 464,542.28 463,542.94 462,542.91 461,543.82 460,546.09 459,544.94 458,543.47 457,544.08 456,544.85 455,544.07 454,542.27 453,542.9 452,542.71 451,542.08 450,542.1 449,542.97 448,543.33 447,544.89 446,543.46 445,542.11 444,542 443,544.41 442,542.82 441,542.98 440,542.33 439,542.55 438,542.38 437,542.33 436,543.54 435,545.39 434,542.04 433,545.49 432,546.45 431,543.33 430,545.25 429,545.49 428,544.39 427,541.92 426,542.66 425,543.17 424,543.21 423,541.67 422,546.81 421,549.24 420,542.45 419,543.39 418,541.59 417,542.67 416,543.83 415,543.22 414,542.98 413,543.14 412,541.72 411,541.93 410,542.63 409,542.63 408,542.3 407,541.44 406,542.33 405,543.32 404,541.93 403,543.92 402,542.57 401,541.93 400,542.03 399,541.69 398,542.39 397,541.92 396,542.83 395,541.65 394,542.92 393,541.73 392,541.79 391,543 390,543.69 389,541.35 388,543.09 387,543.84 386,541.98 385,542.5 384,541.26 383,541.69 382,542.18 381,542.66 380,546.93 379,545.37 378,541.34 377,541.71 376,540.95 375,542.02 374,541.56 373,542.62 372,543.55 371,542.57 370,542.1 369,541.29 368,541.65 367,541.25 366,541.24 365,540.87 364,541.47 363,542.27 362,542.54 361,541.86 360,543.78 359,541.48 358,540.71 357,542.46 356,540.99 355,541.25 354,541.94 353,540.8 352,541.89 351,544.41 350,544.48 349,544.41 348,546.05 347,545.67 346,546.61 345,542.13 344,541.33 343,542.16 342,541.04 341,542.68 340,543.31 339,541.21 338,541.16 337,541.17 336,542.24 335,540.55 334,541.16 333,540.76 332,542.47 331,542.41 330,541.71 329,543.49 328,541.88 327,542.35 326,540.51 325,540.79 324,540.49 323,541.82 322,540.54 321,542.47 320,541.04 319,542.54 318,540.47 317,541.09 316,540.65 315,542.09 314,540.93 313,546.12 312,546.21 311,545.53 310,545.17 309,541.52 308,541.63 307,542.06 306,540.42 305,541.35 304,541.86 303,542.37 302,544.69 301,546.5 300,541.34 299,542.11 298,541.15 297,540.53 296,541.12 295,541.85 294,540.46 293,543.97 292,545.07 291,541.02 290,542.44 289,542.37 288,542.72 287,541.58 286,541.83 285,540.62 284,543.21 283,548.58 282,545.01 281,541.53 280,541.54 279,541.5 278,541.16 277,542.35 276,541.02 275,541.08 274,541.12 273,542.03 272,542.1 271,540.59 270,542.31 269,540.7 268,541.92 267,540.95 266,540.52 265,543.74 264,540.54 263,541.34 262,541.56 261,542.78 260,546.11 259,546.64 258,542.3 257,541.6 256,542.84 255,542.04 254,541.84 253,541.57 252,540.91 251,541.99 250,544.93 249,545.79 248,541.18 247,542.88 246,541.22 245,542.57 244,543.13 243,541.72 242,545.3 241,549.24 240,545.17 239,542.55 238,542.67 237,541.28 236,543.17 235,543.13 234,542.31 233,543.5 232,543.18 231,541.58 230,540.84 229,541.07 228,541.35 227,541.27 226,542.42 225,542.75 224,540.8 223,541.47 222,541.13 221,542.04 220,542.06 219,541.12 218,544 217,541.84 216,541.35 215,541.03 214,541.99 213,542.52 212,543.38Z" fill="#000"/>
<path d="M235.4,616.45L234.7,644M624.4,614L623.7,634" fill="none" stroke="#777" stroke-width="2.79"/>
<path d="M316.4,613.23L315.7,638" fill="none" stroke="#222" stroke-width="2.17"/>
<path d="M468.4,614.5L467.7,633" fill="none" stroke="#777" stroke-width="2.48"/>
<path d="M400.4,614.83L399.7,628M466.4,614.5L465.7,630M716.4,612.91L715.7,629M507.4,614.5L506.7,627M345.4,615.75L344.7,627M560.4,613.75L559.7,627" fill="none" stroke="#777" stroke-width="1.86"/>
<path d="M213,614.58 214,613.1 215,611.94 216,612.84 217,612.16 218,611.11 219,611.5 220,611.05 221,610.62 222,612.79 223,610.73 224,610.73 225,612.26 226,610.78 227,610.4 228,610.72 229,610.14 230,609.87 231,611.64 232,610.58 233,609.97 234,611.89 235,609.12 236,610.36 237,608.99 238,609.96 239,610.03 240,611.33 241,606.52 242,610.94 243,608.43 244,609.7 245,610.24 246,608.48 247,609.2 248,609.81 249,609.1 250,608.4 251,609.39 252,609.28 253,607.48 254,610.6 255,609.32 256,606.38 257,608.11 258,610.88 259,610.71 260,609.23 261,607.05 262,608.62 263,610.02 264,609.26 265,608.43 266,607.96 267,609.65 268,608.48 269,609.04 270,609.2 271,610.43 272,608.8 273,608.86 274,606.58 275,609.77 276,609.62 277,608.74 278,604.3 279,606.06 280,608.75 281,610.97 282,609.21 283,609.51 284,609.52 285,610.19 286,607.59 287,607.88 288,607.4 289,608.22 290,607.79 291,608.16 292,606.89 293,608.09 294,607.02 295,610.26 296,607.32 297,610.68 298,609.64 299,606.49 300,608.84 301,608.44 302,606.06 303,608.4 304,607.62 305,608.08 306,606.74 307,607.6 308,608.1 309,607.43 310,606.94 311,607.42 312,605.16 313,606.6 314,604.73 315,609.19 316,607.58 317,606.54 318,606.94 319,606.09 320,609.96 321,606.2 322,607.93 323,607.75 324,608.82 325,607.35 326,605.79 327,607.74 328,604.72 329,607.12 330,606.84 331,609.09 332,607 333,606.89 334,606.83 335,606.98 336,607.72 337,609.36 338,607.74 339,609.44 340,608.4 341,609.9 342,610.24 343,608.68 344,609.39 345,610.12 346,610.84 347,611.02 348,609.83 349,608.83 350,608.13 351,610.76 352,611.42 353,610.27 354,611.58 355,609.33 356,609.38 357,611.53 358,608.67 359,610.43 360,610.17 361,607.96 362,609.69 363,608.73 364,609.21 365,607.36 366,608.49 367,609.07 368,609.19 369,609.37 370,609.91 371,608.83 372,607.36 373,609.7 374,608.14 375,606.37 376,608.61 377,611.41 378,610.58 379,610.64 380,610.16 381,609.56 382,608.82 383,610 384,609.13 385,608.85 386,609.3 387,609.21 388,610.27 389,608.2 390,612.01 391,608.12 392,608.74 393,610.24 394,608.26 395,608.63 396,609.18 397,605.85 398,608.55 399,608.03 400,608.81 401,609.62 402,609.76 403,610.7 404,610.61 405,610.14 406,608.94 407,610.12 408,607.85 409,608.83 410,610.51 411,609.78 412,607.34 413,608.21 414,609.86 415,609.52 416,608.08 417,604.91 418,607.39 419,608.5 420,607.68 421,608.73 422,608.78 423,609.15 424,608.62 425,609.39 426,609.63 427,608.94 428,607.42 429,610.2 430,606.57 431,606.8 432,608.96 433,606.99 434,609.41 435,606.45 436,605.83 437,610.2 438,608.43 439,609.09 440,609.76 441,610.56 442,606.76 443,607.95 444,609.52 445,608.03 446,605.16 447,608.93 448,609.02 449,609.65 450,609.02 451,606.43 452,607.16 453,608.73 454,608.21 455,609.05 456,609.16 457,607.65 458,609.91 459,609.69 460,607.18 461,603.26 462,608.9 463,608.63 464,607.66 465,609.41 466,607.1 467,610.13 468,609.19 469,608.21 470,610.34 471,609.28 472,609.14 473,607.32 474,609.35 475,610.32 476,609.99 477,607.33 478,610.3 479,610.54 480,609.7 481,608.33 482,607.09 483,607.75 484,608.11 485,609.05 486,609.36 487,607.92 488,606.93 489,608.28 490,607.26 491,610.21 492,607.37 493,609.26 494,609.64 495,607.63 496,609.83 497,608.56 498,607.83 499,607.66 500,608.83 501,609.89 502,606.6 503,609.38 504,608.53 505,607.86 506,608.58 507,608.68 508,608.63 509,609.6 510,606.3 511,609.49 512,609.69 513,608.04 514,606.56 515,608.68 516,608.25 517,609.53 518,609.51 519,610.84 520,608.57 521,609.58 522,608.21 523,608.25 524,610.35 525,608.48 526,608.5 527,608.21 528,608.95 529,609.23 530,608.42 531,607.26 532,608.9 533,607.59 534,608.09 535,608.71 536,608.73 537,605.86 538,610.3 539,609.28 540,610.53 541,611.15 542,607.29 543,607.69 544,608.57 545,609.31 546,607.68 547,607.88 548,609.4 549,607.2 550,608.4 551,609.35 552,607.83 553,608.96 554,607.95 555,606.29 556,607.43 557,607.78 558,607.61 559,607.99 560,608.38 561,608.23 562,608.09 563,607.38 564,605.32 565,605.13 566,607.14 567,609.29 568,605.64 569,607.98 570,605.88 571,607.01 572,608.53 573,607.31 574,609.15 575,606.52 576,607.22 577,606.82 578,607.51 579,607.13 580,607.03 581,607.52 582,608.62 583,607.54 584,607.41 585,607 586,606.51 587,605.67 588,606.08 589,607.25 590,605.08 591,607.89 592,606.68 593,606.09 594,606.5 595,607.81 596,607.47 597,607.34 598,608.98 599,609.62 600,605.61 601,608.06 602,606.29 603,605.67 604,606.67 605,608.43 606,607.02 607,606.89 608,609.03 609,608.1 610,607.5 611,609.65 612,608.24 613,606.95 614,606.6 615,607.39 616,608.09 617,608.99 618,608.93 619,608.17 620,606.79 621,609.16 622,608.28 623,607.01 624,606.89 625,608.53 626,608.71 627,609.27 628,607.05 629,610.57 630,606.47 631,608.48 632,610.05 633,609.75 634,607.58 635,609.36 636,610.08 637,609.58 638,607.71 639,610.69 640,607.07 641,608.96 642,607.76 643,608.51 644,608.66 645,609.62 646,607.7 647,609.38 648,610.62 649,609.31 650,609.87 651,609.78 652,608.52 653,608.98 654,609.48 655,608.29 656,610.06 657,611.25 658,608.72 659,608.44 660,607.53 661,605.78 662,609.43 663,608.18 664,605 665,606.72 666,607.71 667,605.64 668,607.3 669,606.97 670,605.9 671,605.46 672,605.85 673,606.94 674,606.52 675,607.57 676,608.77 677,607.48 678,607.76 679,606.45 680,605.41 681,609.27 682,607.68 683,608.19 684,606.47 685,605 686,608.37 687,604.51 688,606.89 689,606.84 690,607.9 691,608.61 692,608.58 693,605.29 694,608.84 695,605.57 696,608.34 697,607.17 698,606.46 699,607.27 700,606.44 701,607.89 702,608.96 703,608.72 704,607.68 705,608.75 706,607.95 707,609.66 708,606.68 709,605.34 710,606.75 711,606.24 712,606.77 713,606.94 714,607.87 715,607.99 716,607.18 717,607.6 718,606.31 719,604.31 720,602.43 721,606.99 722,607.4 723,610.87 724,606.46 725,608.06 726,607.68 727,606.37 728,608.5 729,608.35 729,620.02 728,621.2 727,621.53 726,620.59 725,620.78 724,620.47 723,620.78 722,619.65 721,621.08 720,619.52 719,619.55 718,618.89 717,619.23 716,619.23 715,619.18 714,619.7 713,619.64 712,621.38 711,618.74 710,618.74 709,618.88 708,618.82 707,620.22 706,623.93 705,623.85 704,620.24 703,620.72 702,623.99 701,623.56 700,620.83 699,621.69 698,620.03 697,621.78 696,619.17 695,620.84 694,619.65 693,619.87 692,620.06 691,619.33 690,622.07 689,621.27 688,620.66 687,620.59 686,620.19 685,619.73 684,618.66 683,623.07 682,622.68 681,620.01 680,619.51 679,619.74 678,619.37 677,618.9 676,619.26 675,619.55 674,621.85 673,621.95 672,624.28 671,618.98 670,618.64 669,618.98 668,619.72 667,619.96 666,619.03 665,619.21 664,621.36 663,619.7 662,620.01 661,623.01 660,622.86 659,620.95 658,623.05 657,621.21 656,621.33 655,621.64 654,622.47 653,621.23 652,622.42 651,620.98 650,623.46 649,623.24 648,621.87 647,622.7 646,622.54 645,622.24 644,622.06 643,621.41 642,621.07 641,621.13 640,620.87 639,620.44 638,620.44 637,620.62 636,621.39 635,621.42 634,620.93 633,620.63 632,622.05 631,621.45 630,620.55 629,621.5 628,621.03 627,621.2 626,621.62 625,622.28 624,624.54 623,625.31 622,619.97 621,620.62 620,625.44 619,625.48 618,621.1 617,619.91 616,620.16 615,622.17 614,621.77 613,619.61 612,619.73 611,619.66 610,621.47 609,619.6 608,620.29 607,619.38 606,621.5 605,621.26 604,619.63 603,618.9 602,618.85 601,619.78 600,618.87 599,619.69 598,619 597,619.19 596,620.89 595,624.66 594,623.26 593,619.61 592,620.92 591,623.98 590,623.51 589,620.75 588,621.96 587,623.35 586,620.56 585,621.17 584,620.05 583,619.71 582,623.74 581,624.68 580,619.78 579,620.56 578,619.93 577,619.91 576,621.22 575,619.3 574,619.48 573,620.22 572,619.7 571,619.99 570,620.27 569,625.72 568,623.22 567,624.19 566,626.44 565,619.52 564,619.59 563,623.87 562,629.08 561,623.66 560,622.12 559,620.15 558,620.98 557,621.27 556,622.74 555,623.35 554,620.01 553,620.84 552,621.42 551,620.05 550,619.96 549,620.06 548,619.94 547,623.64 546,620.11 545,623.93 544,625.85 543,619.86 542,619.89 541,621.03 540,621.13 539,619.96 538,622.25 537,620.62 536,620.96 535,621.29 534,620.67 533,620.15 532,620.75 531,620.45 530,621.03 529,620.27 528,621.84 527,620.38 526,623.55 525,620.52 524,620.47 523,620.81 522,620.53 521,620.97 520,621.7 519,621.12 518,621.04 517,621.55 516,621.16 515,621.31 514,620.35 513,625.96 512,624.73 511,620.54 510,620.36 509,620.59 508,620.8 507,621.04 506,621.28 505,620.88 504,621.04 503,620.72 502,621.09 501,621.08 500,620.29 499,620.79 498,620.47 497,622.28 496,621.09 495,621 494,622.95 493,620.5 492,623.17 491,621.21 490,621.89 489,621.9 488,620.9 487,621.69 486,621.94 485,622.14 484,620.56 483,621.18 482,621.2 481,620.81 480,620.72 479,621.99 478,621.22 477,621.61 476,620.89 475,620.3 474,620.69 473,622.22 472,620.97 471,620.66 470,622.98 469,621.91 468,621.47 467,624.58 466,624.54 465,625.26 464,626.25 463,624.29 462,620.28 461,622.26 460,622.76 459,622.66 458,622.03 457,622.65 456,623.04 455,621.52 454,621.32 453,623.44 452,620.5 451,622.65 450,622.64 449,620.8 448,620.85 447,621.92 446,621.26 445,622.91 444,621.47 443,620.66 442,620.63 441,621.36 440,622.72 439,622.97 438,621.17 437,622.35 436,620.26 435,621.74 434,621.79 433,622.28 432,622.09 431,624.19 430,621.23 429,620.67 428,622.17 427,620.54 426,621.25 425,620.92 424,621.21 423,622.18 422,620.28 421,622.15 420,622.34 419,621.84 418,620.88 417,621.53 416,622.44 415,620.82 414,621.52 413,621.09 412,620.39 411,621.11 410,621.02 409,621.4 408,625.53 407,624.24 406,621.6 405,621.98 404,622.11 403,622.73 402,624.88 401,624.86 400,622.77 399,621.39 398,622.32 397,620.81 396,621.95 395,620.9 394,621.75 393,622.45 392,622.76 391,621.69 390,621.71 389,620.86 388,624.53 387,622.82 386,622.74 385,624.65 384,626.37 383,621.19 382,624 381,625.1 380,621.58 379,623.15 378,623.37 377,623.17 376,622.92 375,621.94 374,622 373,623.85 372,623.94 371,621.31 370,622.64 369,622.31 368,623.04 367,622.23 366,624.47 365,621.8 364,621.62 363,622.06 362,621.98 361,623.21 360,621.98 359,621.57 358,623.21 357,621.36 356,624.51 355,621.59 354,622.89 353,621.62 352,622.66 351,622.61 350,621.54 349,621.69 348,623.44 347,621.98 346,622.69 345,623.19 344,622.82 343,622.97 342,622.34 341,622.18 340,623.24 339,621.38 338,621.7 337,622.99 336,620.9 335,620.51 334,619.5 333,619.95 332,619.51 331,619.83 330,618.94 329,619.47 328,619.02 327,620.02 326,622.18 325,621.96 324,618.94 323,619.37 322,619.22 321,621 320,620.42 319,619.66 318,620.85 317,626.85 316,622.38 315,621.93 314,620.59 313,621.18 312,622.06 311,619.46 310,620.17 309,619.71 308,619.61 307,619.66 306,620.05 305,621.27 304,619.24 303,622.03 302,622.93 301,620.22 300,619.55 299,619.82 298,622.24 297,620.26 296,621.09 295,620.47 294,619.85 293,620.82 292,620.39 291,623.61 290,627.19 289,625.53 288,620.24 287,620.46 286,621.88 285,623.3 284,621.84 283,622.29 282,621.12 281,626.2 280,620.34 279,621.32 278,622.96 277,621.28 276,622.82 275,624.23 274,626.44 273,620.66 272,620.51 271,620.26 270,620.38 269,620.84 268,622.5 267,621.52 266,622.57 265,621.6 264,620.34 263,625.12 262,624.6 261,622.16 260,621.75 259,620.73 258,623.03 257,621.22 256,621.54 255,623.15 254,623.19 253,623.78 252,620.84 251,622.36 250,621.9 249,622.5 248,621.17 247,622.85 246,622 245,621.43 244,622.84 243,621.95 242,623 241,622.98 240,621.5 239,624.46 238,626.03 237,623.28 236,623.08 235,623.83 234,624.3 233,622.6 232,623.28 231,622.9 230,626.64 229,627.53 228,627.06 227,623.94 226,625.22 225,624.56 224,627.02 223,629.21 222,623.78 221,625.09 220,627.16 219,627.66 218,623.74 217,624.37 216,625.66 215,623.61 214,627.08 213,625.75Z" fill="#000"/>
<path d="M769.5,633.3H797V601.3" fill="none" stroke="#111" stroke-width="1.3"/>
<text x="810.8" y="622.5" font-size="17.5" textLength="39.2" lengthAdjust="spacingAndGlyphs">20pA</text>
<text x="751.8" y="657.5" font-size="17.5" textLength="47" lengthAdjust="spacingAndGlyphs">200ms</text>
<polyline points="70,997.5 73.82,997.5 77.64,997.5 81.46,997.5 85.28,997.5 89.1,997.5 92.92,997.5 96.74,997.5 100.56,997.5 104.38,997.5 108.2,997.5 112.02,927.06 115.84,898.32 119.66,855.09 123.48,838.56 127.3,811.86 131.12,794.06 134.94,786.43 138.76,777.53 142.58,772.19 146.4,767.61 150.22,764.05 154.04,760.24 157.86,757.44 161.68,755.15 165.5,753.24 169.32,751.59 173.14,750.21 176.96,749.05 180.78,748.08 184.6,747.27 188.42,746.6 192.24,746.01 196.06,745.49 199.88,745.01 203.7,744.58 207.52,744.22 211.34,743.88 215.16,743.55 218.98,743.3 222.8,743.2 226.62,743.2 230.44,743.2 234.26,743.2 238.08,743.2 241.9,743.2 245.72,743.2 249.54,743.2 253.36,743.2 257.18,743.2 261,743.2 264.82,743.2 268.64,743.2 272.46,743.2 276.28,743.2 280.1,743.2 283.92,743.2 287.74,743.2 291.56,743.2 295.38,743.2 299.2,743.2 303.02,743.2 306.84,743.2 310.66,743.2 314.48,743.2 318.3,743.2 322.12,743.2 325.94,743.2 329.76,743.2 333.58,743.2 337.4,743.2 341.22,743.2 345.04,743.2 348.86,743.2 352.68,743.2 356.5,743.2 360.32,743.2 364.14,743.2 367.96,743.2 371.78,743.2 375.6,743.2 379.42,743.2 383.24,743.2 387.06,743.2 390.88,743.2 394.7,743.2 398.52,743.2 402.34,743.2 406.16,743.2 409.98,743.2 413.8,743.2 417.62,743.2 421.44,743.2 425.26,743.2 429.08,743.2 432.9,743.2 436.72,743.2 440.54,743.2 444.36,743.2 448.18,743.2 452,743.2" fill="none" stroke="none" marker-start="url(#ms)" marker-mid="url(#ms)" marker-end="url(#ms)"/>
<polyline points="70,997.5 73.82,997.5 77.64,997.5 81.46,997.5 85.28,997.5 89.1,997.5 92.92,997.5 96.74,997.5 100.56,997.5 104.38,997.5 108.2,997.5 112.02,914.6 115.84,878.49 119.66,833.22 123.48,815.68 127.3,794.06 131.12,777.02 134.94,771.17 138.76,765.07 142.58,758.46 146.4,755.15 150.22,752.72 154.04,750.83 157.86,749.42 161.68,748.29 165.5,747.32 169.32,746.51 173.14,745.83 176.96,745.23 180.78,744.66 184.6,744.22 188.42,743.91 192.24,743.64 196.06,743.41 199.88,743.26 203.7,743.2 207.52,743.2 211.34,743.2 215.16,743.2 218.98,743.2 222.8,743.2 226.62,743.2 230.44,743.2 234.26,743.2 238.08,743.2 241.9,743.2 245.72,743.2 249.54,743.2 253.36,743.2 257.18,743.2 261,743.2 264.82,743.2 268.64,743.2 272.46,743.2 276.28,743.2 280.1,743.2 283.92,743.2 287.74,743.2 291.56,743.2 295.38,743.2 299.2,743.2 303.02,743.2 306.84,743.2 310.66,743.2 314.48,743.2 318.3,743.2 322.12,743.2 325.94,743.2 329.76,743.2 333.58,743.2 337.4,743.2 341.22,743.2 345.04,743.2 348.86,743.2 352.68,743.2 356.5,743.2 360.32,743.2 364.14,743.2 367.96,743.2 371.78,743.2 375.6,743.2 379.42,743.2 383.24,743.2 387.06,743.2 390.88,743.2 394.7,743.2 398.52,743.2 402.34,743.2 406.16,743.2 409.98,743.2 413.8,743.2 417.62,743.2 421.44,743.2 425.26,743.2 429.08,743.2 432.9,743.2 436.72,743.2 440.54,743.2 444.36,743.2 448.18,743.2 452,743.2" fill="none" stroke="none" marker-start="url(#mc)" marker-mid="url(#mc)" marker-end="url(#mc)"/>
<path d="M70,742.1V998.6M63.5,997.5H453.1" fill="none" stroke="#000" stroke-width="2.2"/>
<line x1="63.5" y1="997.5" x2="70" y2="997.5" stroke="#000" stroke-width="2.2"/>
<text x="58.5" y="1003.9" font-size="19" font-weight="bold" text-anchor="end" textLength="26.7" lengthAdjust="spacingAndGlyphs">0.0</text>
<line x1="63.5" y1="946.64" x2="70" y2="946.64" stroke="#000" stroke-width="2.2"/>
<text x="58.5" y="953.04" font-size="19" font-weight="bold" text-anchor="end" textLength="26.7" lengthAdjust="spacingAndGlyphs">0.2</text>
<line x1="63.5" y1="895.78" x2="70" y2="895.78" stroke="#000" stroke-width="2.2"/>
<text x="58.5" y="902.18" font-size="19" font-weight="bold" text-anchor="end" textLength="26.7" lengthAdjust="spacingAndGlyphs">0.4</text>
<line x1="63.5" y1="844.92" x2="70" y2="844.92" stroke="#000" stroke-width="2.2"/>
<text x="58.5" y="851.32" font-size="19" font-weight="bold" text-anchor="end" textLength="26.7" lengthAdjust="spacingAndGlyphs">0.6</text>
<line x1="63.5" y1="794.06" x2="70" y2="794.06" stroke="#000" stroke-width="2.2"/>
<text x="58.5" y="800.46" font-size="19" font-weight="bold" text-anchor="end" textLength="26.7" lengthAdjust="spacingAndGlyphs">0.8</text>
<line x1="63.5" y1="743.2" x2="70" y2="743.2" stroke="#000" stroke-width="2.2"/>
<text x="58.5" y="749.6" font-size="19" font-weight="bold" text-anchor="end" textLength="26.7" lengthAdjust="spacingAndGlyphs">1.0</text>
<line x1="70" y1="997.5" x2="70" y2="1004.5" stroke="#000" stroke-width="2.2"/>
<text x="70" y="1025" font-size="19" font-weight="bold" text-anchor="middle">0</text>
<line x1="146.4" y1="997.5" x2="146.4" y2="1004.5" stroke="#000" stroke-width="2.2"/>
<text x="146.4" y="1025" font-size="19" font-weight="bold" text-anchor="middle">20</text>
<line x1="222.8" y1="997.5" x2="222.8" y2="1004.5" stroke="#000" stroke-width="2.2"/>
<text x="222.8" y="1025" font-size="19" font-weight="bold" text-anchor="middle">40</text>
<line x1="299.2" y1="997.5" x2="299.2" y2="1004.5" stroke="#000" stroke-width="2.2"/>
<text x="299.2" y="1025" font-size="19" font-weight="bold" text-anchor="middle">60</text>
<line x1="375.6" y1="997.5" x2="375.6" y2="1004.5" stroke="#000" stroke-width="2.2"/>
<text x="375.6" y="1025" font-size="19" font-weight="bold" text-anchor="middle">80</text>
<line x1="452" y1="997.5" x2="452" y2="1004.5" stroke="#000" stroke-width="2.2"/>
<text x="452" y="1025" font-size="19" font-weight="bold" text-anchor="middle">100</text>
<text x="14.5" y="871" font-size="21" text-anchor="middle" textLength="222" lengthAdjust="spacing" transform="rotate(-90 14.5 871)" stroke="#000" stroke-width="0.45">Cumulative Probability</text>
<text x="188" y="1053.8" font-size="18.5" font-weight="bold" textLength="144.5" lengthAdjust="spacingAndGlyphs">Amplitude (pA)</text>
<rect x="225.5" y="920" width="57.5" height="70" fill="#626262"/>
<rect x="312.5" y="899.5" width="57" height="90.5" fill="#fe0000"/>
<path d="M254.5,920.5V912.5M240.5,912.5H268.8" fill="none" stroke="#626262" stroke-width="1.6"/>
<path d="M341.3,900V890.5M327.5,890.5H355" fill="none" stroke="#fe0000" stroke-width="1.6"/>
<path d="M195.8,787.5V990.7M191,990H399" fill="none" stroke="#000" stroke-width="1.4"/>
<line x1="191" y1="787.5" x2="195.8" y2="787.5" stroke="#000" stroke-width="1.4"/>
<text x="189.5" y="792.62" font-size="15.5" font-weight="bold" text-anchor="end" textLength="17.05" lengthAdjust="spacingAndGlyphs">20</text>
<line x1="191" y1="828.3" x2="195.8" y2="828.3" stroke="#000" stroke-width="1.4"/>
<text x="189.5" y="833.41" font-size="15.5" font-weight="bold" text-anchor="end" textLength="17.05" lengthAdjust="spacingAndGlyphs">18</text>
<line x1="191" y1="868.8" x2="195.8" y2="868.8" stroke="#000" stroke-width="1.4"/>
<text x="189.5" y="873.91" font-size="15.5" font-weight="bold" text-anchor="end" textLength="17.05" lengthAdjust="spacingAndGlyphs">16</text>
<line x1="191" y1="909.3" x2="195.8" y2="909.3" stroke="#000" stroke-width="1.4"/>
<text x="189.5" y="914.41" font-size="15.5" font-weight="bold" text-anchor="end" textLength="17.05" lengthAdjust="spacingAndGlyphs">14</text>
<line x1="191" y1="949.5" x2="195.8" y2="949.5" stroke="#000" stroke-width="1.4"/>
<text x="189.5" y="954.62" font-size="15.5" font-weight="bold" text-anchor="end" textLength="17.05" lengthAdjust="spacingAndGlyphs">12</text>
<line x1="191" y1="990" x2="195.8" y2="990" stroke="#000" stroke-width="1.4"/>
<text x="189.5" y="995.12" font-size="15.5" font-weight="bold" text-anchor="end" textLength="17.05" lengthAdjust="spacingAndGlyphs">10</text>
<text x="163" y="887.5" font-size="15.5" font-weight="bold" text-anchor="middle" textLength="115" lengthAdjust="spacingAndGlyphs" transform="rotate(-90 163 887.5)">Amplitude (pA)</text>
<circle cx="254.75" cy="860.89" r="4.4" fill="#000"/>
<circle cx="242.24" cy="895.93" r="4.4" fill="#000"/>
<circle cx="267.27" cy="895.18" r="4.4" fill="#000"/>
<circle cx="254.75" cy="900.68" r="4.4" fill="#000"/>
<circle cx="260.76" cy="908.19" r="4.4" fill="#000"/>
<circle cx="248.5" cy="918.45" r="4.4" fill="#000"/>
<circle cx="235.99" cy="932.21" r="4.4" fill="#000"/>
<circle cx="273.27" cy="933.21" r="4.4" fill="#000"/>
<circle cx="248.5" cy="936.47" r="4.4" fill="#000"/>
<circle cx="260.76" cy="939.72" r="4.4" fill="#000"/>
<circle cx="242.24" cy="942.72" r="4.4" fill="#000"/>
<circle cx="267.27" cy="948.48" r="4.4" fill="#000"/>
<circle cx="254.75" cy="953.98" r="4.4" fill="#000"/>
<rect x="337.09" y="796.83" width="9" height="9" fill="#000"/>
<rect x="337.09" y="856.89" width="9" height="9" fill="#000"/>
<rect x="355.36" y="877.41" width="9" height="9" fill="#000"/>
<rect x="318.32" y="879.41" width="9" height="9" fill="#000"/>
<rect x="342.85" y="883.67" width="9" height="9" fill="#000"/>
<rect x="330.84" y="888.17" width="9" height="9" fill="#000"/>
<rect x="349.1" y="909.44" width="9" height="9" fill="#000"/>
<rect x="325.33" y="911.2" width="9" height="9" fill="#000"/>
<rect x="337.09" y="914.95" width="9" height="9" fill="#000"/>
<rect x="313.32" y="919.45" width="9" height="9" fill="#000"/>
<rect x="360.36" y="921.21" width="9" height="9" fill="#000"/>
<rect x="325.33" y="928.21" width="9" height="9" fill="#000"/>
<rect x="337.09" y="928.21" width="9" height="9" fill="#000"/>
<rect x="348.35" y="928.21" width="9" height="9" fill="#000"/>
<text x="236" y="977.5" font-size="26" fill="#0a0a0a" textLength="35" lengthAdjust="spacingAndGlyphs" stroke="#0a0a0a" stroke-width="0.5">+/+</text>
<text x="330" y="977.5" font-size="26" fill="#0a0a0a" textLength="30" lengthAdjust="spacingAndGlyphs" stroke="#0a0a0a" stroke-width="0.5">+/-</text>
<path d="M253.3,790V773.3H342V790" fill="none" stroke="#000" stroke-width="1.4"/>
<text x="285" y="762.5" font-size="16" font-weight="bold" textLength="23.8" lengthAdjust="spacingAndGlyphs">n.s.</text>
<polyline points="528.3,996.3 529.27,950.04 530.24,911.49 531.2,885.79 532.17,862.66 533.14,844.67 534.11,830.53 535.08,821.54 536.04,813.83 537.01,808.69 537.98,803.55 538.95,799.28 539.92,795.3 540.88,791.66 541.85,788.4 542.82,785.56 543.79,783.1 544.76,780.9 545.72,778.91 546.69,777.06 547.66,775.28 548.63,773.51 549.6,771.79 550.56,770.18 551.53,768.75 552.5,767.57 553.47,766.59 554.44,765.71 555.4,764.93 556.37,764.26 557.34,763.71 558.31,763.25 559.28,762.82 560.24,762.44 561.21,762.08 562.18,761.75 563.15,761.45 564.12,761.16 565.08,760.89 566.05,760.63 567.02,760.37 567.99,760.12 568.96,759.88 569.92,759.65 570.89,759.42 571.86,759.21 572.83,759 573.8,758.81 574.76,758.63 575.73,758.47 576.7,758.32 577.67,758.18 578.64,758.04 579.6,757.91 580.57,757.78 581.54,757.66 582.51,757.54 583.48,757.42 584.44,757.31 585.41,757.2 586.38,757.1 587.35,757 588.32,756.9 589.28,756.8 590.25,756.7 591.22,756.61 592.19,756.52 593.16,756.43 594.12,756.34 595.09,756.26 596.06,756.17 597.03,756.09 598,756 598.96,755.92 599.93,755.83 600.9,755.75 601.87,755.66 602.84,755.58 603.8,755.5 604.77,755.42 605.74,755.34 606.71,755.26 607.68,755.19 608.64,755.11 609.61,755.04 610.58,754.96 611.55,754.89 612.52,754.82 613.48,754.75 614.45,754.68 615.42,754.61 616.39,754.54 617.36,754.47 618.32,754.41 619.29,754.34 620.26,754.27 621.23,754.21 622.2,754.14 623.16,754.08 624.13,754.01 625.1,753.95 626.07,753.89 627.04,753.82 628,753.76 628.97,753.7 629.94,753.63 630.91,753.57 631.88,753.51 632.84,753.45 633.81,753.39 634.78,753.33 635.75,753.27 636.72,753.21 637.68,753.15 638.65,753.09 639.62,753.03 640.59,752.97 641.56,752.91 642.52,752.85 643.49,752.79 644.46,752.74 645.43,752.68 646.4,752.62 647.36,752.57 648.33,752.51 649.3,752.45 650.27,752.4 651.24,752.34 652.2,752.29 653.17,752.23 654.14,752.18 655.11,752.12 656.08,752.07 657.04,752.01 658.01,751.96 658.98,751.9 659.95,751.85 660.92,751.8 661.88,751.74 662.85,751.69 663.82,751.64 664.79,751.59 665.76,751.53 666.72,751.48 667.69,751.43 668.66,751.38 669.63,751.33 670.6,751.28 671.56,751.22 672.53,751.17 673.5,751.12 674.47,751.07 675.44,751.02 676.4,750.97 677.37,750.92 678.34,750.87 679.31,750.82 680.28,750.77 681.24,750.72 682.21,750.67 683.18,750.62 684.15,750.57 685.12,750.52 686.08,750.47 687.05,750.42 688.02,750.38 688.99,750.33 689.96,750.28 690.92,750.23 691.89,750.18 692.86,750.14 693.83,750.09 694.8,750.04 695.76,749.99 696.73,749.95 697.7,749.9 698.67,749.85 699.64,749.81 700.6,749.76 701.57,749.72 702.54,749.67 703.51,749.62 704.48,749.58 705.44,749.53 706.41,749.49 707.38,749.45 708.35,749.4 709.32,749.36 710.28,749.31 711.25,749.27 712.22,749.23 713.19,749.18 714.16,749.14 715.12,749.1 716.09,749.06 717.06,749.01 718.03,748.97 719,748.93 719.96,748.89 720.93,748.85 721.9,748.81 722.87,748.77 723.84,748.73 724.8,748.69 725.77,748.65 726.74,748.61 727.71,748.57 728.68,748.53 729.64,748.49 730.61,748.45 731.58,748.41 732.55,748.37 733.52,748.33 734.48,748.29 735.45,748.26 736.42,748.22 737.39,748.18 738.36,748.14 739.32,748.1 740.29,748.07 741.26,748.03 742.23,747.99 743.2,747.95 744.16,747.92 745.13,747.88 746.1,747.84 747.07,747.81 748.04,747.77 749,747.74 749.97,747.7 750.94,747.66 751.91,747.63 752.88,747.59 753.84,747.56 754.81,747.53 755.78,747.49 756.75,747.46 757.72,747.42 758.68,747.39 759.65,747.36 760.62,747.32 761.59,747.29 762.56,747.26 763.52,747.23 764.49,747.2 765.46,747.16 766.43,747.13 767.4,747.1 768.36,747.07 769.33,747.04 770.3,747.01 771.27,746.98 772.24,746.95 773.2,746.92 774.17,746.89 775.14,746.86 776.11,746.83 777.08,746.81 778.04,746.78 779.01,746.75 779.98,746.72 780.95,746.69 781.92,746.67 782.88,746.64 783.85,746.61 784.82,746.58 785.79,746.56 786.76,746.53 787.72,746.5 788.69,746.48 789.66,746.45 790.63,746.43 791.6,746.4 792.56,746.37 793.53,746.35 794.5,746.32 795.47,746.3 796.44,746.27 797.4,746.25 798.37,746.22 799.34,746.2 800.31,746.17 801.28,746.15 802.24,746.12 803.21,746.1 804.18,746.08 805.15,746.05 806.12,746.03 807.08,746 808.05,745.98 809.02,745.96 809.99,745.93 810.96,745.91 811.92,745.89 812.89,745.86 813.86,745.84 814.83,745.82 815.8,745.79 816.76,745.77 817.73,745.75 818.7,745.72 819.67,745.7 820.64,745.68 821.6,745.66 822.57,745.63 823.54,745.61 824.51,745.59 825.48,745.56 826.44,745.54 827.41,745.52 828.38,745.49 829.35,745.47 830.32,745.45 831.28,745.42 832.25,745.4 833.22,745.38 834.19,745.36 835.16,745.33 836.12,745.31 837.09,745.29 838.06,745.26 839.03,745.24 840,745.22 840.96,745.2 841.93,745.18 842.9,745.15 843.87,745.13 844.84,745.11 845.8,745.09 846.77,745.07 847.74,745.05 848.71,745.03 849.68,745.01 850.64,744.99 851.61,744.97 852.58,744.95 853.55,744.93 854.52,744.91 855.48,744.89 856.45,744.87 857.42,744.86 858.39,744.84 859.36,744.82 860.32,744.8 861.29,744.79 862.26,744.77 863.23,744.76 864.2,744.74 865.16,744.73 866.13,744.71 867.1,744.7 868.07,744.68 869.04,744.67 870,744.66 870.97,744.64 871.94,744.63 872.91,744.62 873.88,744.6 874.84,744.59 875.81,744.58 876.78,744.56 877.75,744.55 878.72,744.54 879.68,744.53 880.65,744.51 881.62,744.5 882.59,744.49 883.56,744.48 884.52,744.47 885.49,744.45 886.46,744.44 887.43,744.43 888.4,744.42 889.36,744.41 890.33,744.4 891.3,744.39 892.27,744.38 893.24,744.37 894.2,744.36 895.17,744.35 896.14,744.34 897.11,744.33 898.08,744.32 899.04,744.31 900.01,744.3 900.98,744.29 901.95,744.28 902.92,744.27 903.88,744.26 904.85,744.26 905.82,744.25 906.79,744.24 907.76,744.23 908.72,744.23 909.69,744.22 910.66,744.21 911.63,744.21 912.6,744.2 913.56,744.19 914.53,744.19 915.5,744.18" fill="none" stroke="none" marker-start="url(#ms)" marker-mid="url(#ms)" marker-end="url(#ms)"/>
<polyline points="528.3,996.3 529.27,962.89 530.24,935.9 531.2,914.06 532.17,893.5 533.14,880.65 534.11,867.8 535.08,857.52 536.04,847.24 537.01,839.53 537.98,834.39 538.95,829.42 539.92,824.48 540.88,819.7 541.85,815.25 542.82,811.26 543.79,807.69 544.76,804.38 545.72,801.31 546.69,798.47 547.66,795.84 548.63,793.33 549.6,790.87 550.56,788.48 551.53,786.17 552.5,783.97 553.47,781.9 554.44,779.97 555.4,778.21 556.37,776.64 557.34,775.28 558.31,774.07 559.28,772.95 560.24,771.91 561.21,770.94 562.18,770.04 563.15,769.19 564.12,768.4 565.08,767.66 566.05,766.95 567.02,766.28 567.99,765.64 568.96,765.03 569.92,764.44 570.89,763.88 571.86,763.35 572.83,762.84 573.8,762.37 574.76,761.93 575.73,761.52 576.7,761.14 577.67,760.79 578.64,760.45 579.6,760.11 580.57,759.79 581.54,759.48 582.51,759.18 583.48,758.88 584.44,758.6 585.41,758.32 586.38,758.05 587.35,757.79 588.32,757.53 589.28,757.29 590.25,757.05 591.22,756.81 592.19,756.58 593.16,756.36 594.12,756.14 595.09,755.93 596.06,755.72 597.03,755.51 598,755.31 598.96,755.11 599.93,754.91 600.9,754.72 601.87,754.53 602.84,754.34 603.8,754.15 604.77,753.96 605.74,753.78 606.71,753.6 607.68,753.42 608.64,753.25 609.61,753.07 610.58,752.9 611.55,752.74 612.52,752.57 613.48,752.42 614.45,752.26 615.42,752.11 616.39,751.96 617.36,751.82 618.32,751.68 619.29,751.55 620.26,751.42 621.23,751.3 622.2,751.18 623.16,751.07 624.13,750.97 625.1,750.87 626.07,750.77 627.04,750.67 628,750.58 628.97,750.49 629.94,750.4 630.91,750.31 631.88,750.23 632.84,750.14 633.81,750.06 634.78,749.98 635.75,749.9 636.72,749.82 637.68,749.75 638.65,749.67 639.62,749.6 640.59,749.53 641.56,749.46 642.52,749.39 643.49,749.32 644.46,749.25 645.43,749.18 646.4,749.12 647.36,749.05 648.33,748.99 649.3,748.93 650.27,748.86 651.24,748.8 652.2,748.74 653.17,748.68 654.14,748.63 655.11,748.57 656.08,748.51 657.04,748.45 658.01,748.4 658.98,748.34 659.95,748.28 660.92,748.23 661.88,748.17 662.85,748.12 663.82,748.07 664.79,748.01 665.76,747.96 666.72,747.9 667.69,747.85 668.66,747.8 669.63,747.74 670.6,747.69 671.56,747.63 672.53,747.58 673.5,747.52 674.47,747.47 675.44,747.41 676.4,747.36 677.37,747.31 678.34,747.25 679.31,747.2 680.28,747.15 681.24,747.09 682.21,747.04 683.18,746.99 684.15,746.93 685.12,746.88 686.08,746.83 687.05,746.78 688.02,746.73 688.99,746.68 689.96,746.62 690.92,746.57 691.89,746.52 692.86,746.47 693.83,746.43 694.8,746.38 695.76,746.33 696.73,746.28 697.7,746.23 698.67,746.19 699.64,746.14 700.6,746.09 701.57,746.05 702.54,746 703.51,745.96 704.48,745.91 705.44,745.87 706.41,745.82 707.38,745.78 708.35,745.74 709.32,745.7 710.28,745.66 711.25,745.62 712.22,745.58 713.19,745.54 714.16,745.5 715.12,745.46 716.09,745.42 717.06,745.38 718.03,745.35 719,745.31 719.96,745.28 720.93,745.24 721.9,745.21 722.87,745.18 723.84,745.15 724.8,745.11 725.77,745.08 726.74,745.05 727.71,745.02 728.68,744.99 729.64,744.96 730.61,744.93 731.58,744.9 732.55,744.87 733.52,744.84 734.48,744.81 735.45,744.78 736.42,744.75 737.39,744.72 738.36,744.7 739.32,744.67 740.29,744.64 741.26,744.61 742.23,744.59 743.2,744.56 744.16,744.53 745.13,744.51 746.1,744.48 747.07,744.46 748.04,744.43 749,744.41 749.97,744.38 750.94,744.36 751.91,744.33 752.88,744.31 753.84,744.29 754.81,744.26 755.78,744.24 756.75,744.22 757.72,744.2 758.68,744.17 759.65,744.15 760.62,744.13 761.59,744.11 762.56,744.09 763.52,744.07 764.49,744.05 765.46,744.03 766.43,744 767.4,743.98 768.36,743.96 769.33,743.95 770.3,743.93 771.27,743.91 772.24,743.89 773.2,743.87 774.17,743.85 775.14,743.83 776.11,743.81 777.08,743.79 778.04,743.77 779.01,743.75 779.98,743.74 780.95,743.72 781.92,743.7 782.88,743.68 783.85,743.66 784.82,743.64 785.79,743.63 786.76,743.61 787.72,743.59 788.69,743.57 789.66,743.56 790.63,743.54 791.6,743.52 792.56,743.5 793.53,743.49 794.5,743.47 795.47,743.45 796.44,743.44 797.4,743.42 798.37,743.41 799.34,743.39 800.31,743.38 801.28,743.36 802.24,743.35 803.21,743.33 804.18,743.32 805.15,743.31 806.12,743.29 807.08,743.28 808.05,743.27 809.02,743.26 809.99,743.24 810.96,743.23 811.92,743.22 812.89,743.21 813.86,743.2 814.83,743.19 815.8,743.18 816.76,743.17 817.73,743.16 818.7,743.15 819.67,743.15 820.64,743.14 821.6,743.13 822.57,743.12 823.54,743.11 824.51,743.11 825.48,743.1 826.44,743.09 827.41,743.08 828.38,743.07 829.35,743.07 830.32,743.06 831.28,743.05 832.25,743.04 833.22,743.04 834.19,743.03 835.16,743.02 836.12,743.01 837.09,743 838.06,743 839.03,742.99 840,742.98 840.96,742.97 841.93,742.97 842.9,742.96 843.87,742.95 844.84,742.95 845.8,742.94 846.77,742.93 847.74,742.92 848.71,742.92 849.68,742.91 850.64,742.9 851.61,742.9 852.58,742.89 853.55,742.88 854.52,742.88 855.48,742.87 856.45,742.86 857.42,742.86 858.39,742.85 859.36,742.84 860.32,742.84 861.29,742.83 862.26,742.83 863.23,742.82 864.2,742.81 865.16,742.81 866.13,742.8 867.1,742.8 868.07,742.79 869.04,742.78 870,742.78 870.97,742.77 871.94,742.77 872.91,742.76 873.88,742.76 874.84,742.75 875.81,742.75 876.78,742.74 877.75,742.74 878.72,742.73 879.68,742.73 880.65,742.73 881.62,742.72 882.59,742.72 883.56,742.71 884.52,742.71 885.49,742.7 886.46,742.7 887.43,742.7 888.4,742.69 889.36,742.69 890.33,742.69 891.3,742.68 892.27,742.68 893.24,742.68 894.2,742.67 895.17,742.67 896.14,742.67 897.11,742.67 898.08,742.66 899.04,742.66 900.01,742.66 900.98,742.66 901.95,742.65 902.92,742.65 903.88,742.65 904.85,742.65 905.82,742.65 906.79,742.65 907.76,742.65 908.72,742.64 909.69,742.64 910.66,742.64 911.63,742.64 912.6,742.64 913.56,742.64 914.53,742.64 915.5,742.64" fill="none" stroke="none" marker-start="url(#mc)" marker-mid="url(#mc)" marker-end="url(#mc)"/>
<path d="M528.3,738.2V997.4M521.8,996.3H916.7" fill="none" stroke="#000" stroke-width="2.2"/>
<line x1="521.8" y1="996.3" x2="528.3" y2="996.3" stroke="#000" stroke-width="2.2"/>
<text x="518.8" y="1002.7" font-size="19" font-weight="bold" text-anchor="end" textLength="27.5" lengthAdjust="spacingAndGlyphs">0.0</text>
<line x1="521.8" y1="944.9" x2="528.3" y2="944.9" stroke="#000" stroke-width="2.2"/>
<text x="518.8" y="951.3" font-size="19" font-weight="bold" text-anchor="end" textLength="27.5" lengthAdjust="spacingAndGlyphs">0.2</text>
<line x1="521.8" y1="893.5" x2="528.3" y2="893.5" stroke="#000" stroke-width="2.2"/>
<text x="518.8" y="899.9" font-size="19" font-weight="bold" text-anchor="end" textLength="27.5" lengthAdjust="spacingAndGlyphs">0.4</text>
<line x1="521.8" y1="842.1" x2="528.3" y2="842.1" stroke="#000" stroke-width="2.2"/>
<text x="518.8" y="848.5" font-size="19" font-weight="bold" text-anchor="end" textLength="27.5" lengthAdjust="spacingAndGlyphs">0.6</text>
<line x1="521.8" y1="790.7" x2="528.3" y2="790.7" stroke="#000" stroke-width="2.2"/>
<text x="518.8" y="797.1" font-size="19" font-weight="bold" text-anchor="end" textLength="27.5" lengthAdjust="spacingAndGlyphs">0.8</text>
<line x1="521.8" y1="739.3" x2="528.3" y2="739.3" stroke="#000" stroke-width="2.2"/>
<text x="518.8" y="745.7" font-size="19" font-weight="bold" text-anchor="end" textLength="27.5" lengthAdjust="spacingAndGlyphs">1.0</text>
<line x1="528.3" y1="996.3" x2="528.3" y2="1003.3" stroke="#000" stroke-width="2.2"/>
<text x="528.3" y="1024.5" font-size="19" font-weight="bold" text-anchor="middle">0</text>
<line x1="625.1" y1="996.3" x2="625.1" y2="1003.3" stroke="#000" stroke-width="2.2"/>
<text x="625.1" y="1024.5" font-size="19" font-weight="bold" text-anchor="middle">10</text>
<line x1="721.9" y1="996.3" x2="721.9" y2="1003.3" stroke="#000" stroke-width="2.2"/>
<text x="721.9" y="1024.5" font-size="19" font-weight="bold" text-anchor="middle">20</text>
<line x1="818.7" y1="996.3" x2="818.7" y2="1003.3" stroke="#000" stroke-width="2.2"/>
<text x="818.7" y="1024.5" font-size="19" font-weight="bold" text-anchor="middle">30</text>
<line x1="915.5" y1="996.3" x2="915.5" y2="1003.3" stroke="#000" stroke-width="2.2"/>
<text x="915.5" y="1024.5" font-size="19" font-weight="bold" text-anchor="middle">40</text>
<text x="481" y="867" font-size="21" font-weight="bold" text-anchor="middle" textLength="226" lengthAdjust="spacing" transform="rotate(-90 481 867)">Cumulative Probability</text>
<text x="605.8" y="1052.5" font-size="18.5" font-weight="bold" textLength="225" lengthAdjust="spacingAndGlyphs">Inter-event Intervals (s)</text>
<rect x="676.8" y="943.3" width="56.5" height="43.7" fill="#626262"/>
<rect x="763" y="931.3" width="56.5" height="55.7" fill="#fe0000"/>
<path d="M705.8,943.8V935M691.3,935H719.5" fill="none" stroke="#626262" stroke-width="1.6"/>
<path d="M791.3,931.8V919.3M777.5,919.3H805" fill="none" stroke="#fe0000" stroke-width="1.6"/>
<path d="M649.5,786.3V987.7M644.7,987H849.5" fill="none" stroke="#000" stroke-width="1.4"/>
<line x1="644.7" y1="815" x2="649.5" y2="815" stroke="#000" stroke-width="1.4"/>
<text x="643.2" y="820.12" font-size="15.5" font-weight="bold" text-anchor="end" textLength="8.53" lengthAdjust="spacingAndGlyphs">6</text>
<line x1="644.7" y1="872.5" x2="649.5" y2="872.5" stroke="#000" stroke-width="1.4"/>
<text x="643.2" y="877.62" font-size="15.5" font-weight="bold" text-anchor="end" textLength="8.53" lengthAdjust="spacingAndGlyphs">4</text>
<line x1="644.7" y1="929.7" x2="649.5" y2="929.7" stroke="#000" stroke-width="1.4"/>
<text x="643.2" y="934.82" font-size="15.5" font-weight="bold" text-anchor="end" textLength="8.53" lengthAdjust="spacingAndGlyphs">2</text>
<line x1="644.7" y1="987" x2="649.5" y2="987" stroke="#000" stroke-width="1.4"/>
<text x="643.2" y="992.12" font-size="15.5" font-weight="bold" text-anchor="end" textLength="8.53" lengthAdjust="spacingAndGlyphs">0</text>
<text x="621.5" y="886" font-size="15.5" font-weight="bold" text-anchor="middle" textLength="112.5" lengthAdjust="spacingAndGlyphs" transform="rotate(-90 621.5 886)">Frequency (Hz)</text>
<circle cx="699.74" cy="881.41" r="4.4" fill="#000"/>
<circle cx="711.51" cy="889.42" r="4.4" fill="#000"/>
<circle cx="711.51" cy="918.95" r="4.4" fill="#000"/>
<circle cx="699.74" cy="927.71" r="4.4" fill="#000"/>
<circle cx="682.73" cy="946.98" r="4.4" fill="#000"/>
<circle cx="717.76" cy="947.73" r="4.4" fill="#000"/>
<circle cx="728.52" cy="946.98" r="4.4" fill="#000"/>
<circle cx="693.99" cy="954.48" r="4.4" fill="#000"/>
<circle cx="706" cy="954.48" r="4.4" fill="#000"/>
<circle cx="724.02" cy="969.5" r="4.4" fill="#000"/>
<circle cx="687.73" cy="976.51" r="4.4" fill="#000"/>
<circle cx="711.51" cy="980.26" r="4.4" fill="#000"/>
<circle cx="699.74" cy="981.51" r="4.4" fill="#000"/>
<rect x="787.09" y="804.84" width="9" height="9" fill="#000"/>
<rect x="787.09" y="873.91" width="9" height="9" fill="#000"/>
<rect x="787.09" y="901.94" width="9" height="9" fill="#000"/>
<rect x="774.57" y="921.21" width="9" height="9" fill="#000"/>
<rect x="799.1" y="919.45" width="9" height="9" fill="#000"/>
<rect x="787.09" y="928.96" width="9" height="9" fill="#000"/>
<rect x="793.34" y="934.97" width="9" height="9" fill="#000"/>
<rect x="768.32" y="944.48" width="9" height="9" fill="#000"/>
<rect x="775.07" y="943.23" width="9" height="9" fill="#000"/>
<rect x="780.83" y="947.48" width="9" height="9" fill="#000"/>
<rect x="805.35" y="946.23" width="9" height="9" fill="#000"/>
<rect x="792.84" y="956.24" width="9" height="9" fill="#000"/>
<rect x="792.84" y="977.01" width="9" height="9" fill="#000"/>
<rect x="780.83" y="981.27" width="9" height="9" fill="#000"/>
<text x="691" y="977.5" font-size="26" fill="#0a0a0a" textLength="35" lengthAdjust="spacingAndGlyphs" stroke="#0a0a0a" stroke-width="0.5">+/+</text>
<text x="777.5" y="977.5" font-size="26" fill="#0a0a0a" textLength="28.5" lengthAdjust="spacingAndGlyphs" stroke="#0a0a0a" stroke-width="0.5">+/-</text>
<path d="M706.3,790V773.3H793.3V790" fill="none" stroke="#000" stroke-width="1.4"/>
<text x="737.5" y="762.5" font-size="16" font-weight="bold" textLength="23.8" lengthAdjust="spacingAndGlyphs">n.s.</text>
<text x="920.6" y="531.2" font-size="34" font-weight="bold">D</text>
<text x="1052.6" y="542.7" font-size="25.5" font-weight="bold" font-style="italic" textLength="42.3" lengthAdjust="spacingAndGlyphs">Oga</text>
<text x="1096.43" y="535.82" font-size="18.87" font-weight="bold" font-style="italic" textLength="24" lengthAdjust="spacingAndGlyphs">+/+</text>
<text x="1052.6" y="628.8" font-size="25.5" font-weight="bold" font-style="italic" textLength="42.3" lengthAdjust="spacingAndGlyphs">Oga</text>
<text x="1096.43" y="621.91" font-size="18.87" font-weight="bold" font-style="italic" textLength="19.5" lengthAdjust="spacingAndGlyphs">+/-</text>
<path d="M1177.33,541.33L1176.63,571.33M1227.63,545.27L1226.93,597.61M1323.22,540.34L1322.52,606.37M1402.8,550.54L1402.1,583.84M1430.33,553.78L1429.63,576.34M1429.66,545.88L1428.96,576.34M1477.95,547.2L1477.25,583.84M1526.5,542.78L1525.8,592.6M1551.03,540.69L1550.33,555.07M1587.31,538.37L1586.61,563.82M1643.62,547.21L1642.92,593.1" fill="none" stroke="#000" stroke-width="2.17"/>
<path d="M1292.69,546.67L1291.99,590.1M1364.51,542.91L1363.81,580.09M1442.09,560.98L1441.39,563.82M1205.61,539.17L1204.91,552.56M1463.36,540.64L1462.66,552.56M1398.3,536.99L1397.6,557.57M1442.17,560.31L1441.47,563.82M1609.84,541.75L1609.14,557.57M1666.14,542.18L1665.44,555.07M1460.94,539.71L1460.24,552.56M1578.56,536.4L1577.86,548.81M1633.61,537.91L1632.91,548.81M1558.54,537.91L1557.84,550.06" fill="none" stroke="#000" stroke-width="2.48"/>
<path d="M1316.97,546.99L1316.27,571.33M1388.29,538.58L1387.59,572.58M1621.1,545.01L1620.4,563.82" fill="none" stroke="#000" stroke-width="1.86"/>
<path d="M1343.24,535.1L1342.54,556.32M1198.1,536.9L1197.4,546.31M1255.66,535.86L1254.96,545.06M1510.99,539.58L1510.29,552.56" fill="none" stroke="#000" stroke-width="3.1"/>
<path d="M1164.3,524.38 1165.3,524.17 1166.3,524.18 1167.3,528.14 1168.3,525.61 1169.3,525.88 1170.3,525.26 1171.3,525.25 1172.3,524.07 1173.3,526.43 1174.3,526.61 1175.3,524.3 1176.3,525.32 1177.3,540.99 1178.3,537.72 1179.3,534.95 1180.3,533.6 1181.3,531.94 1182.3,530.12 1183.3,529.33 1184.3,523.44 1185.3,521.18 1186.3,524.89 1187.3,525.9 1188.3,522.95 1189.3,520.44 1190.3,522.68 1191.3,525.34 1192.3,524.84 1193.3,524.08 1194.3,523.92 1195.3,522.44 1196.3,524.73 1197.3,533.6 1198.3,532.23 1199.3,528.94 1200.3,527.51 1201.3,525.66 1202.3,527.56 1203.3,527.61 1204.3,524.69 1205.3,535.13 1206.3,532.29 1207.3,529.58 1208.3,525.99 1209.3,527.22 1210.3,527.45 1211.3,522.24 1212.3,522.43 1213.3,521.71 1214.3,526.47 1215.3,525.41 1216.3,524.76 1217.3,524.3 1218.3,523.81 1219.3,524.36 1220.3,524.05 1221.3,524.09 1222.3,524.29 1223.3,524.45 1224.3,524.82 1225.3,521.51 1226.3,524.56 1227.3,540.56 1228.3,535.77 1229.3,531.25 1230.3,532.13 1231.3,528.58 1232.3,527.49 1233.3,527.82 1234.3,525.35 1235.3,526 1236.3,525.46 1237.3,526.1 1238.3,526.08 1239.3,523.84 1240.3,525.66 1241.3,524.44 1242.3,524.61 1243.3,524.18 1244.3,525.22 1245.3,520.9 1246.3,522.49 1247.3,525.59 1248.3,523.97 1249.3,526.5 1250.3,523.45 1251.3,524.49 1252.3,523.72 1253.3,523.57 1254.3,523.02 1255.3,530.31 1256.3,529.19 1257.3,527.12 1258.3,528.04 1259.3,528.04 1260.3,524.15 1261.3,526.36 1262.3,525.35 1263.3,523.64 1264.3,525.91 1265.3,525.95 1266.3,524.89 1267.3,524.66 1268.3,522.03 1269.3,525.22 1270.3,523.52 1271.3,524.51 1272.3,524.41 1273.3,525.35 1274.3,526.51 1275.3,525.35 1276.3,525.67 1277.3,524 1278.3,524.76 1279.3,525.1 1280.3,522.67 1281.3,526.5 1282.3,523.47 1283.3,522.85 1284.3,526.05 1285.3,526.58 1286.3,523.48 1287.3,523.58 1288.3,527.67 1289.3,524.37 1290.3,522.07 1291.3,523.58 1292.3,543.75 1293.3,537.98 1294.3,534.85 1295.3,532.94 1296.3,530.51 1297.3,528.03 1298.3,525.61 1299.3,527.08 1300.3,524.78 1301.3,525.51 1302.3,525.37 1303.3,523.78 1304.3,524.88 1305.3,524.74 1306.3,525.37 1307.3,525.5 1308.3,522.98 1309.3,524.59 1310.3,526.24 1311.3,525.16 1312.3,523.47 1313.3,523.55 1314.3,522.01 1315.3,523.4 1316.3,544.75 1317.3,538.25 1318.3,533.89 1319.3,531.56 1320.3,530.1 1321.3,528.62 1322.3,527.23 1323.3,541.07 1324.3,538.22 1325.3,535.92 1326.3,531.12 1327.3,529.29 1328.3,529.79 1329.3,525.82 1330.3,525.99 1331.3,525.63 1332.3,525.78 1333.3,524.96 1334.3,524.04 1335.3,525.16 1336.3,523.37 1337.3,522.66 1338.3,522.26 1339.3,525.26 1340.3,522.48 1341.3,524.84 1342.3,525.07 1343.3,535.4 1344.3,531.77 1345.3,529.44 1346.3,528.7 1347.3,526.87 1348.3,525.29 1349.3,527.48 1350.3,524.65 1351.3,527.27 1352.3,525.6 1353.3,524.34 1354.3,525.17 1355.3,525.94 1356.3,522.98 1357.3,523.42 1358.3,523.24 1359.3,524.54 1360.3,524.77 1361.3,524.34 1362.3,523.49 1363.3,523.7 1364.3,542.02 1365.3,537.85 1366.3,533.69 1367.3,529.8 1368.3,530.19 1369.3,528.51 1370.3,527.49 1371.3,528.38 1372.3,526.83 1373.3,524.44 1374.3,524.13 1375.3,526.48 1376.3,525.01 1377.3,525.63 1378.3,524.43 1379.3,523.43 1380.3,524.78 1381.3,526.16 1382.3,524.79 1383.3,523.15 1384.3,524.03 1385.3,523.82 1386.3,524.55 1387.3,525.48 1388.3,541.94 1389.3,536.19 1390.3,532.59 1391.3,530.99 1392.3,529.29 1393.3,527.58 1394.3,525.53 1395.3,524.82 1396.3,524.63 1397.3,526.14 1398.3,534.28 1399.3,530.68 1400.3,531.52 1401.3,528.8 1402.3,547.87 1403.3,541.11 1404.3,536.63 1405.3,532.68 1406.3,530.79 1407.3,530.45 1408.3,527.48 1409.3,528.1 1410.3,524.23 1411.3,526.21 1412.3,525.05 1413.3,524.21 1414.3,525.03 1415.3,525.97 1416.3,523.79 1417.3,523.55 1418.3,524.67 1419.3,525.82 1420.3,524.93 1421.3,524.21 1422.3,524.73 1423.3,524.87 1424.3,523 1425.3,521.27 1426.3,523.23 1427.3,522.71 1428.3,523.71 1429.3,540.14 1430.3,551.85 1431.3,546.21 1432.3,540.52 1433.3,536.39 1434.3,535.24 1435.3,530.66 1436.3,529.05 1437.3,529.59 1438.3,526.02 1439.3,524.73 1440.3,527.42 1441.3,559.6 1442.3,548.76 1443.3,542.29 1444.3,540.15 1445.3,534.96 1446.3,531.07 1447.3,527.86 1448.3,527.17 1449.3,526.1 1450.3,526.53 1451.3,527.11 1452.3,529.13 1453.3,524.24 1454.3,526.14 1455.3,526.06 1456.3,526.04 1457.3,523.86 1458.3,525.97 1459.3,525.31 1460.3,535.11 1461.3,530.92 1462.3,529.55 1463.3,539.11 1464.3,535.66 1465.3,534.65 1466.3,529.83 1467.3,529.46 1468.3,527.22 1469.3,527.74 1470.3,526.42 1471.3,525.16 1472.3,524.01 1473.3,524.36 1474.3,525.28 1475.3,526.48 1476.3,525.61 1477.3,542 1478.3,538.08 1479.3,535.12 1480.3,532.28 1481.3,530.49 1482.3,529.76 1483.3,528 1484.3,526.15 1485.3,524.14 1486.3,525.4 1487.3,523.56 1488.3,524.95 1489.3,525.26 1490.3,523.28 1491.3,524.47 1492.3,524.15 1493.3,526.54 1494.3,524.89 1495.3,522.27 1496.3,524.8 1497.3,524.74 1498.3,524.04 1499.3,523.83 1500.3,524.89 1501.3,524.95 1502.3,524.69 1503.3,523.1 1504.3,523.91 1505.3,522.47 1506.3,522.53 1507.3,523.56 1508.3,523.01 1509.3,523.71 1510.3,537.74 1511.3,532.85 1512.3,529.3 1513.3,526.37 1514.3,526.67 1515.3,525.15 1516.3,523.66 1517.3,526.38 1518.3,524.69 1519.3,525.43 1520.3,528.14 1521.3,524.88 1522.3,524.59 1523.3,524.76 1524.3,524.02 1525.3,523.35 1526.3,540.38 1527.3,537.77 1528.3,533.14 1529.3,529.61 1530.3,528.01 1531.3,526.94 1532.3,527.1 1533.3,526.89 1534.3,526.33 1535.3,526.7 1536.3,524.86 1537.3,525.78 1538.3,525.05 1539.3,525.34 1540.3,522.44 1541.3,525.77 1542.3,522.65 1543.3,523.08 1544.3,525.15 1545.3,523.85 1546.3,526.21 1547.3,524.43 1548.3,523.12 1549.3,524.41 1550.3,535.97 1551.3,535.09 1552.3,532.9 1553.3,530.21 1554.3,527.67 1555.3,527.25 1556.3,527.58 1557.3,525 1558.3,533.1 1559.3,532.49 1560.3,530.55 1561.3,528.12 1562.3,527.05 1563.3,524.43 1564.3,527.3 1565.3,525.43 1566.3,523.66 1567.3,523.75 1568.3,523.82 1569.3,526.54 1570.3,525.32 1571.3,523.01 1572.3,526.46 1573.3,525.85 1574.3,523.18 1575.3,521.4 1576.3,525.36 1577.3,523.63 1578.3,532.16 1579.3,529.73 1580.3,530.19 1581.3,529.3 1582.3,527.71 1583.3,524.59 1584.3,524.56 1585.3,526.02 1586.3,523.34 1587.3,539.56 1588.3,534.37 1589.3,532.41 1590.3,530.32 1591.3,529.69 1592.3,528.77 1593.3,529.19 1594.3,525.75 1595.3,524.68 1596.3,525.47 1597.3,524.34 1598.3,525.81 1599.3,523.83 1600.3,524.76 1601.3,525.56 1602.3,525.58 1603.3,524.64 1604.3,524.61 1605.3,524.45 1606.3,522.47 1607.3,524.72 1608.3,524.51 1609.3,536.63 1610.3,533.11 1611.3,531.49 1612.3,530.09 1613.3,528.63 1614.3,528.83 1615.3,527.66 1616.3,525.36 1617.3,524.74 1618.3,526.19 1619.3,524.25 1620.3,541.69 1621.3,537.75 1622.3,535.15 1623.3,532.17 1624.3,531.37 1625.3,527.91 1626.3,528.13 1627.3,525.9 1628.3,526.25 1629.3,525.85 1630.3,524.72 1631.3,522.87 1632.3,526.74 1633.3,533.8 1634.3,531.66 1635.3,529.29 1636.3,528.61 1637.3,528.7 1638.3,527.6 1639.3,528.52 1640.3,527.16 1641.3,525.93 1642.3,527.28 1643.3,542.64 1644.3,539.17 1645.3,533.62 1646.3,532.74 1647.3,531.95 1648.3,529.28 1649.3,529.1 1650.3,529.1 1651.3,527.9 1652.3,529.37 1653.3,526.83 1654.3,526.81 1655.3,526.81 1656.3,524.81 1657.3,525.36 1658.3,527.88 1659.3,527.2 1660.3,529.24 1661.3,527.61 1662.3,527.44 1663.3,528.66 1664.3,527.61 1665.3,540.1 1666.3,534.07 1667.3,533.38 1668.3,531.9 1669.3,530.46 1670.3,530.02 1671.3,529.23 1672.3,527.63 1673.3,526.52 1674.3,527.87 1675.3,526.66 1676.3,527.5 1677.3,527.88 1678.3,526.56 1678.3,539.53 1677.3,539.47 1676.3,538.58 1675.3,540.83 1674.3,541.26 1673.3,538.13 1672.3,540.64 1671.3,540.69 1670.3,545.01 1669.3,543.43 1668.3,542.13 1667.3,544.9 1666.3,548.99 1665.3,550.27 1664.3,537.93 1663.3,546.2 1662.3,542.68 1661.3,539.5 1660.3,538.33 1659.3,538.1 1658.3,538.42 1657.3,539.12 1656.3,537.55 1655.3,537.68 1654.3,538.71 1653.3,539.23 1652.3,540.75 1651.3,539.2 1650.3,542.06 1649.3,541.59 1648.3,540.49 1647.3,542.29 1646.3,544.11 1645.3,546.33 1644.3,552.68 1643.3,555.55 1642.3,538.15 1641.3,537.96 1640.3,537.82 1639.3,539.41 1638.3,538.43 1637.3,542.63 1636.3,542.76 1635.3,544.43 1634.3,544.71 1633.3,546.02 1632.3,538.65 1631.3,539.35 1630.3,537.93 1629.3,539.72 1628.3,536.9 1627.3,537.74 1626.3,538.59 1625.3,540.76 1624.3,541.19 1623.3,543.39 1622.3,547.43 1621.3,548.94 1620.3,553.38 1619.3,535.82 1618.3,536.5 1617.3,537.04 1616.3,537.2 1615.3,538.67 1614.3,541.52 1613.3,539.51 1612.3,542.87 1611.3,543.33 1610.3,546.74 1609.3,549.84 1608.3,537.27 1607.3,535.47 1606.3,538.36 1605.3,540.06 1604.3,534.93 1603.3,535.52 1602.3,537.08 1601.3,536.76 1600.3,536.51 1599.3,537 1598.3,536.15 1597.3,536.88 1596.3,536.24 1595.3,537.03 1594.3,540.8 1593.3,541.57 1592.3,540.88 1591.3,539.81 1590.3,540.94 1589.3,543.74 1588.3,546.66 1587.3,551.49 1586.3,537.98 1585.3,536.01 1584.3,538.4 1583.3,537.26 1582.3,537.36 1581.3,539.09 1580.3,540.59 1579.3,540.9 1578.3,543.86 1577.3,537.84 1576.3,535.26 1575.3,535.41 1574.3,539.44 1573.3,536.86 1572.3,535.15 1571.3,535.11 1570.3,535.73 1569.3,535.75 1568.3,536.09 1567.3,536.94 1566.3,536.38 1565.3,538.4 1564.3,539.34 1563.3,539 1562.3,538.78 1561.3,540.2 1560.3,540.56 1559.3,544.36 1558.3,546.2 1557.3,537.97 1556.3,537.28 1555.3,538.7 1554.3,539.28 1553.3,540.47 1552.3,541.7 1551.3,544.31 1550.3,547.5 1549.3,536.68 1548.3,536.47 1547.3,536.15 1546.3,538.32 1545.3,540.96 1544.3,538.64 1543.3,536.56 1542.3,535.33 1541.3,535.31 1540.3,536.71 1539.3,535.91 1538.3,535.71 1537.3,538.44 1536.3,536.1 1535.3,536.6 1534.3,538.56 1533.3,539.57 1532.3,541.16 1531.3,541.14 1530.3,542.76 1529.3,542.09 1528.3,544.37 1527.3,547.8 1526.3,551.9 1525.3,535.67 1524.3,535.32 1523.3,535.99 1522.3,536.2 1521.3,539.82 1520.3,539.32 1519.3,541.06 1518.3,543.04 1517.3,536.3 1516.3,539.43 1515.3,537.46 1514.3,539.62 1513.3,540.4 1512.3,541.23 1511.3,544.94 1510.3,546 1509.3,539.64 1508.3,541.71 1507.3,537.09 1506.3,535.38 1505.3,535.36 1504.3,535.27 1503.3,535.58 1502.3,538.98 1501.3,538.06 1500.3,537.45 1499.3,536.36 1498.3,539.2 1497.3,540.85 1496.3,539.4 1495.3,538.56 1494.3,535.03 1493.3,535.31 1492.3,535.67 1491.3,535.64 1490.3,535.51 1489.3,537.37 1488.3,537.6 1487.3,535.92 1486.3,537.07 1485.3,538.11 1484.3,537.48 1483.3,538.19 1482.3,545.12 1481.3,545.8 1480.3,543.19 1479.3,545.96 1478.3,550.57 1477.3,554.93 1476.3,538.4 1475.3,540.88 1474.3,537.02 1473.3,537.04 1472.3,539.31 1471.3,537.17 1470.3,539.13 1469.3,540.62 1468.3,538.31 1467.3,541.36 1466.3,541.28 1465.3,542.75 1464.3,546.37 1463.3,548.66 1462.3,543.44 1461.3,544.13 1460.3,548.15 1459.3,535.5 1458.3,535.91 1457.3,535.36 1456.3,536.23 1455.3,535.81 1454.3,537.69 1453.3,536.7 1452.3,538.02 1451.3,538.77 1450.3,538.5 1449.3,538.9 1448.3,541.04 1447.3,542.68 1446.3,543.26 1445.3,546.18 1444.3,549.6 1443.3,557.05 1442.3,561.19 1441.3,570.14 1440.3,537.12 1439.3,537.03 1438.3,539.37 1437.3,541.15 1436.3,541.74 1435.3,543.2 1434.3,544.16 1433.3,548.84 1432.3,552.62 1431.3,557.73 1430.3,563.24 1429.3,553.94 1428.3,538.24 1427.3,536.51 1426.3,536.27 1425.3,535.11 1424.3,535.29 1423.3,535.88 1422.3,537.26 1421.3,537.77 1420.3,534.92 1419.3,535.23 1418.3,537.14 1417.3,537.06 1416.3,535.71 1415.3,535.44 1414.3,536.05 1413.3,536.09 1412.3,536.89 1411.3,537.08 1410.3,537.91 1409.3,537.85 1408.3,539.65 1407.3,540.07 1406.3,542.02 1405.3,545.23 1404.3,547.16 1403.3,551.84 1402.3,558.5 1401.3,540.63 1400.3,542.69 1399.3,545.53 1398.3,546.63 1397.3,536.18 1396.3,536.82 1395.3,536.86 1394.3,538.96 1393.3,539.14 1392.3,543.54 1391.3,545.81 1390.3,544.34 1389.3,546.6 1388.3,550.64 1387.3,535.03 1386.3,538.83 1385.3,539.8 1384.3,537.3 1383.3,536.4 1382.3,535.66 1381.3,535.66 1380.3,535.21 1379.3,535.44 1378.3,537.11 1377.3,535.57 1376.3,537.12 1375.3,536.33 1374.3,536.16 1373.3,537.43 1372.3,537.78 1371.3,537.22 1370.3,539.09 1369.3,539.05 1368.3,540.75 1367.3,541.89 1366.3,544.86 1365.3,547.27 1364.3,551.48 1363.3,535.66 1362.3,534.85 1361.3,535.56 1360.3,535.38 1359.3,536.93 1358.3,537.27 1357.3,534.94 1356.3,535.52 1355.3,536.48 1354.3,535.24 1353.3,536.29 1352.3,537.13 1351.3,536.15 1350.3,538.94 1349.3,538.6 1348.3,539.25 1347.3,539.89 1346.3,540.44 1345.3,541.27 1344.3,544.17 1343.3,546.69 1342.3,535.11 1341.3,534.94 1340.3,535.86 1339.3,535.62 1338.3,536.43 1337.3,536.8 1336.3,535.84 1335.3,539.56 1334.3,539.24 1333.3,539.01 1332.3,538.05 1331.3,538.88 1330.3,537.4 1329.3,539.62 1328.3,541.14 1327.3,542.77 1326.3,542.33 1325.3,545.93 1324.3,548.43 1323.3,553.98 1322.3,538.35 1321.3,540.08 1320.3,542.18 1319.3,545.45 1318.3,546.86 1317.3,549.48 1316.3,553.98 1315.3,535.03 1314.3,537.61 1313.3,535.32 1312.3,535.13 1311.3,535.7 1310.3,536.31 1309.3,536.85 1308.3,535.16 1307.3,535.32 1306.3,535.37 1305.3,535.48 1304.3,535.41 1303.3,535.93 1302.3,535.83 1301.3,537.63 1300.3,543.03 1299.3,543.92 1298.3,538.61 1297.3,543.58 1296.3,543.11 1295.3,542.3 1294.3,545.27 1293.3,548.4 1292.3,556.22 1291.3,539.99 1290.3,535.85 1289.3,536.75 1288.3,534.85 1287.3,535.79 1286.3,537.55 1285.3,534.77 1284.3,535.43 1283.3,535.04 1282.3,537.04 1281.3,534.94 1280.3,538.31 1279.3,539.09 1278.3,536.14 1277.3,535.96 1276.3,535.06 1275.3,537.05 1274.3,536.28 1273.3,535.5 1272.3,536.14 1271.3,535.52 1270.3,534.97 1269.3,535.65 1268.3,536.19 1267.3,535.74 1266.3,537.78 1265.3,535.35 1264.3,536.22 1263.3,536.92 1262.3,535.69 1261.3,538.04 1260.3,540.53 1259.3,537.14 1258.3,537.75 1257.3,539.02 1256.3,540.65 1255.3,544.53 1254.3,535.91 1253.3,536.63 1252.3,535.95 1251.3,536.46 1250.3,536.28 1249.3,536.42 1248.3,538.93 1247.3,539.77 1246.3,535.24 1245.3,536.53 1244.3,536.26 1243.3,535.15 1242.3,535.05 1241.3,535.98 1240.3,535.22 1239.3,539.25 1238.3,538.7 1237.3,536.84 1236.3,537.1 1235.3,537.54 1234.3,538.74 1233.3,540.64 1232.3,541.28 1231.3,540.7 1230.3,542.15 1229.3,545.67 1228.3,547.77 1227.3,552.22 1226.3,535.34 1225.3,535.52 1224.3,537.58 1223.3,534.81 1222.3,535.19 1221.3,537.36 1220.3,536.83 1219.3,536.08 1218.3,535.35 1217.3,536.21 1216.3,535.51 1215.3,535.53 1214.3,536.78 1213.3,537.09 1212.3,537.59 1211.3,537.74 1210.3,537.5 1209.3,539.35 1208.3,539.91 1207.3,547.19 1206.3,550.18 1205.3,549.84 1204.3,535.95 1203.3,536.24 1202.3,540.32 1201.3,537.59 1200.3,539.83 1199.3,540.04 1198.3,542.55 1197.3,543.64 1196.3,535.31 1195.3,536.83 1194.3,536.01 1193.3,536.16 1192.3,535.22 1191.3,535.68 1190.3,539.01 1189.3,542.21 1188.3,541.13 1187.3,537.82 1186.3,536.99 1185.3,538.09 1184.3,540.34 1183.3,539.91 1182.3,539.67 1181.3,543.19 1180.3,544.35 1179.3,546.04 1178.3,550.4 1177.3,553.61 1176.3,538 1175.3,537.34 1174.3,537.21 1173.3,538.53 1172.3,536.81 1171.3,537.59 1170.3,536.95 1169.3,536.63 1168.3,538.27 1167.3,536.71 1166.3,537.78 1165.3,536.77 1164.3,537.75Z" fill="#000"/>
<path d="M1212.61,621.99L1211.91,639.65M1595.57,626.04L1594.87,653.91" fill="none" stroke="#808080" stroke-width="2.17"/>
<path d="M1249.4,626.57L1248.7,702.71" fill="none" stroke="#808080" stroke-width="1.98"/>
<path d="M1251.4,630.38L1250.7,655.17" fill="none" stroke="#000" stroke-width="4.03"/>
<path d="M1267.67,625.78L1266.97,658.17M1371.27,624.26L1370.57,651.41M1606.08,622.15L1605.38,641.4" fill="none" stroke="#808080" stroke-width="2.48"/>
<path d="M1301.45,621.52L1300.75,647.16" fill="none" stroke="#000" stroke-width="3.1"/>
<path d="M1325.22,632.2L1324.52,686.45" fill="none" stroke="#808080" stroke-width="2.23"/>
<path d="M1325.22,632.2L1324.52,650.16" fill="none" stroke="#000" stroke-width="2.79"/>
<path d="M1410.06,628.69L1409.36,657.17" fill="none" stroke="#808080" stroke-width="1.86"/>
<path d="M1410.06,628.69L1409.36,646.41M1443.42,623.57L1442.72,642.65M1488.97,623.23L1488.27,657.17" fill="none" stroke="#000" stroke-width="2.17"/>
<path d="M1443.84,625L1443.14,643.15" fill="none" stroke="#000" stroke-width="1.86"/>
<path d="M1498.48,621.58L1497.78,633.89" fill="none" stroke="#808080" stroke-width="3.1"/>
<path d="M1591.07,622L1590.37,645.16" fill="none" stroke="#808080" stroke-width="3.72"/>
<path d="M1627.85,628.16L1627.15,707.22" fill="none" stroke="#808080" stroke-width="5.89"/>
<path d="M1628.61,632.81L1627.91,661.42M1649.88,626.09L1649.18,632.64" fill="none" stroke="#000" stroke-width="2.48"/>
<path d="M1648.63,626.7L1647.93,667.18" fill="none" stroke="#808080" stroke-width="2.79"/>
<path d="M1170.8,612.43 1171.8,612.65 1172.8,610.79 1173.8,610.78 1174.8,610.92 1175.8,611.24 1176.8,611.7 1177.8,612.22 1178.8,611.85 1179.8,611.23 1180.8,611.12 1181.8,612.47 1182.8,615.1 1183.8,613.03 1184.8,613.13 1185.8,612.8 1186.8,612.24 1187.8,614.62 1188.8,612.07 1189.8,611.34 1190.8,611.05 1191.8,612.62 1192.8,611.32 1193.8,611.45 1194.8,611.46 1195.8,610.97 1196.8,612.6 1197.8,610.57 1198.8,614.93 1199.8,607.45 1200.8,606.79 1201.8,610.32 1202.8,612.88 1203.8,612.04 1204.8,612.74 1205.8,612.62 1206.8,612.57 1207.8,613.08 1208.8,612.71 1209.8,612.33 1210.8,612.29 1211.8,618.14 1212.8,615.92 1213.8,615.94 1214.8,616.42 1215.8,614.62 1216.8,615.14 1217.8,613.04 1218.8,613.58 1219.8,613.66 1220.8,613.21 1221.8,613.38 1222.8,614.31 1223.8,612.35 1224.8,611.9 1225.8,612.96 1226.8,610.96 1227.8,612.53 1228.8,613.83 1229.8,612.49 1230.8,613.09 1231.8,612.9 1232.8,613.8 1233.8,613.03 1234.8,612.69 1235.8,608.8 1236.8,611.88 1237.8,613.23 1238.8,612.29 1239.8,611.62 1240.8,613.43 1241.8,611.46 1242.8,612.05 1243.8,613.18 1244.8,611.85 1245.8,612.61 1246.8,612.39 1247.8,611.09 1248.8,621.1 1249.8,619.22 1250.8,624.96 1251.8,623.93 1252.8,620.42 1253.8,617.95 1254.8,615.74 1255.8,615.83 1256.8,616.78 1257.8,614.35 1258.8,615 1259.8,614.27 1260.8,612.89 1261.8,612.18 1262.8,613.63 1263.8,609.95 1264.8,612.31 1265.8,608.92 1266.8,619.95 1267.8,618.87 1268.8,617.55 1269.8,616.4 1270.8,613.37 1271.8,614.98 1272.8,613.93 1273.8,614.26 1274.8,613.9 1275.8,612.72 1276.8,611.96 1277.8,610.49 1278.8,611.12 1279.8,610.09 1280.8,610.42 1281.8,610.42 1282.8,608.67 1283.8,608.89 1284.8,610.35 1285.8,610.06 1286.8,611.44 1287.8,607.38 1288.8,610.28 1289.8,611.23 1290.8,610.13 1291.8,610.89 1292.8,610.05 1293.8,609.96 1294.8,611.01 1295.8,608.6 1296.8,607.56 1297.8,610.54 1298.8,610.15 1299.8,610.14 1300.8,616.92 1301.8,615.83 1302.8,613.5 1303.8,613.65 1304.8,612.79 1305.8,608.85 1306.8,609.53 1307.8,611.46 1308.8,610.28 1309.8,612.41 1310.8,611 1311.8,612.25 1312.8,612.93 1313.8,609.67 1314.8,609.72 1315.8,611.63 1316.8,610.74 1317.8,611.42 1318.8,612.68 1319.8,610.39 1320.8,611.97 1321.8,610.9 1322.8,610.75 1323.8,612.08 1324.8,627.3 1325.8,624.8 1326.8,621.15 1327.8,619.62 1328.8,617.35 1329.8,613.36 1330.8,613.52 1331.8,612.62 1332.8,613.28 1333.8,610.57 1334.8,611.52 1335.8,608.83 1336.8,607.07 1337.8,610.63 1338.8,611.61 1339.8,610.64 1340.8,612.32 1341.8,612.03 1342.8,612.31 1343.8,611.73 1344.8,612.24 1345.8,613.01 1346.8,612.54 1347.8,611.15 1348.8,612.3 1349.8,612.92 1350.8,613.71 1351.8,613.39 1352.8,611.39 1353.8,613.23 1354.8,610.7 1355.8,611.75 1356.8,611.57 1357.8,614.13 1358.8,613.21 1359.8,612.78 1360.8,611.78 1361.8,613.82 1362.8,612.19 1363.8,612.97 1364.8,613.67 1365.8,609.64 1366.8,610.56 1367.8,610.29 1368.8,613.09 1369.8,610.6 1370.8,619.57 1371.8,617.97 1372.8,617.03 1373.8,618.15 1374.8,612.18 1375.8,614.88 1376.8,613.52 1377.8,614.45 1378.8,613.71 1379.8,613.29 1380.8,612.46 1381.8,612.11 1382.8,613.19 1383.8,611.07 1384.8,611.71 1385.8,609.86 1386.8,613.1 1387.8,611.27 1388.8,613.05 1389.8,612.28 1390.8,613.37 1391.8,613.86 1392.8,611.91 1393.8,612.61 1394.8,612.76 1395.8,614.09 1396.8,611.06 1397.8,613.14 1398.8,612.47 1399.8,611.17 1400.8,612.12 1401.8,611.75 1402.8,613.7 1403.8,611.45 1404.8,613.61 1405.8,611.98 1406.8,613.24 1407.8,610.61 1408.8,611.65 1409.8,625.45 1410.8,621.44 1411.8,618.53 1412.8,618.55 1413.8,618.05 1414.8,616.16 1415.8,615.11 1416.8,615.16 1417.8,613.75 1418.8,614.85 1419.8,614.75 1420.8,611.91 1421.8,614.28 1422.8,613.74 1423.8,613.2 1424.8,613.55 1425.8,614.3 1426.8,614.8 1427.8,614.42 1428.8,612.35 1429.8,614.06 1430.8,610.74 1431.8,611.23 1432.8,611.01 1433.8,613.62 1434.8,611.55 1435.8,614.12 1436.8,613.93 1437.8,612.76 1438.8,610.96 1439.8,612.88 1440.8,611.59 1441.8,610.8 1442.8,616.85 1443.8,623.6 1444.8,617.51 1445.8,617.29 1446.8,616.72 1447.8,616.65 1448.8,613.82 1449.8,613.3 1450.8,614.93 1451.8,613.92 1452.8,614.72 1453.8,611.88 1454.8,612.88 1455.8,613.9 1456.8,612.92 1457.8,611.47 1458.8,612.78 1459.8,610.52 1460.8,611.72 1461.8,613.38 1462.8,613.49 1463.8,612.94 1464.8,613.24 1465.8,610.82 1466.8,611.75 1467.8,613.6 1468.8,614.97 1469.8,612.94 1470.8,611.44 1471.8,611.39 1472.8,613.76 1473.8,613.63 1474.8,611.11 1475.8,612.59 1476.8,613.96 1477.8,613.98 1478.8,611.87 1479.8,612.24 1480.8,612.95 1481.8,611.24 1482.8,610.65 1483.8,611.69 1484.8,613.76 1485.8,613.63 1486.8,612.96 1487.8,611.15 1488.8,617.5 1489.8,614.44 1490.8,614.37 1491.8,616.95 1492.8,614.09 1493.8,614.54 1494.8,612.03 1495.8,611.32 1496.8,613.35 1497.8,613.96 1498.8,613.21 1499.8,612.37 1500.8,615.19 1501.8,611.89 1502.8,613.54 1503.8,611.6 1504.8,612.61 1505.8,614.34 1506.8,613.01 1507.8,612.78 1508.8,613.55 1509.8,613.06 1510.8,613.9 1511.8,610.62 1512.8,613.64 1513.8,612.21 1514.8,610.97 1515.8,612.76 1516.8,612.69 1517.8,612.03 1518.8,613.01 1519.8,610.63 1520.8,610.27 1521.8,611.5 1522.8,613.36 1523.8,612.66 1524.8,611.93 1525.8,611.08 1526.8,611.65 1527.8,612.79 1528.8,610.81 1529.8,610.8 1530.8,611.99 1531.8,612.42 1532.8,612.11 1533.8,613.74 1534.8,612.61 1535.8,611.33 1536.8,609.98 1537.8,613.69 1538.8,610.55 1539.8,611.1 1540.8,612.92 1541.8,613.9 1542.8,613.57 1543.8,613.4 1544.8,612.44 1545.8,611.83 1546.8,612.32 1547.8,611 1548.8,612.23 1549.8,613.03 1550.8,612.59 1551.8,611.87 1552.8,610.7 1553.8,610.87 1554.8,611.29 1555.8,611.8 1556.8,612.89 1557.8,613.01 1558.8,611.43 1559.8,611.91 1560.8,611.4 1561.8,612.24 1562.8,613.05 1563.8,613.34 1564.8,611.54 1565.8,611.39 1566.8,613.43 1567.8,612.92 1568.8,612.59 1569.8,611.81 1570.8,611.16 1571.8,612.3 1572.8,612.81 1573.8,613.01 1574.8,613.38 1575.8,612.59 1576.8,613.84 1577.8,612.1 1578.8,612.84 1579.8,612.54 1580.8,610.51 1581.8,611.04 1582.8,611.89 1583.8,612.63 1584.8,612.77 1585.8,613.61 1586.8,612.11 1587.8,611.76 1588.8,612.56 1589.8,610.93 1590.8,617.22 1591.8,615.18 1592.8,615.38 1593.8,613.71 1594.8,621.2 1595.8,619.77 1596.8,617.09 1597.8,618.91 1598.8,615.38 1599.8,614.24 1600.8,613.02 1601.8,613.46 1602.8,611.38 1603.8,613.25 1604.8,612.42 1605.8,615.93 1606.8,614.26 1607.8,614.35 1608.8,614.03 1609.8,613.62 1610.8,611.06 1611.8,612.07 1612.8,611.81 1613.8,613.39 1614.8,610.96 1615.8,611.45 1616.8,609.57 1617.8,610.28 1618.8,609.43 1619.8,609.28 1620.8,610.7 1621.8,609.88 1622.8,611.77 1623.8,610.41 1624.8,611.15 1625.8,609.62 1626.8,610.09 1627.8,629.8 1628.8,624.57 1629.8,623.88 1630.8,619.35 1631.8,617.69 1632.8,619.51 1633.8,614.51 1634.8,614.96 1635.8,615.41 1636.8,614.97 1637.8,612.66 1638.8,615.93 1639.8,612.83 1640.8,611.03 1641.8,613.98 1642.8,612.34 1643.8,612.84 1644.8,613.54 1645.8,611.65 1646.8,611.81 1647.8,622.27 1648.8,621.1 1649.8,619.7 1650.8,620.81 1651.8,618.12 1652.8,612.91 1653.8,613.28 1654.8,615.56 1655.8,615.73 1656.8,614.9 1657.8,614.86 1658.8,613.21 1659.8,613.96 1660.8,610.09 1661.8,613.99 1662.8,612.74 1663.8,614.46 1664.8,612 1665.8,612.09 1666.8,612.62 1667.8,613.44 1668.8,612.68 1669.8,613.29 1670.8,612.09 1671.8,612.94 1672.8,614.67 1673.8,612.85 1674.8,612.13 1675.8,609.83 1676.8,612.09 1677.8,612.5 1677.8,626.02 1676.8,624.22 1675.8,622.14 1674.8,623.6 1673.8,622.67 1672.8,622.85 1671.8,623.55 1670.8,622.55 1669.8,624.38 1668.8,623.71 1667.8,623.11 1666.8,623.09 1665.8,626.74 1664.8,623.83 1663.8,623.98 1662.8,624.57 1661.8,624 1660.8,624.92 1659.8,624.97 1658.8,624.81 1657.8,624.18 1656.8,630.62 1655.8,628.99 1654.8,626.35 1653.8,626.55 1652.8,630.73 1651.8,629.13 1650.8,634.82 1649.8,635.52 1648.8,631.07 1647.8,633.04 1646.8,626.8 1645.8,630.52 1644.8,623.43 1643.8,624.94 1642.8,623.44 1641.8,623.62 1640.8,624.72 1639.8,628.13 1638.8,629.45 1637.8,624.9 1636.8,625.57 1635.8,627.44 1634.8,627.65 1633.8,629 1632.8,629.49 1631.8,629.37 1630.8,631.12 1629.8,634.02 1628.8,635.88 1627.8,642.05 1626.8,622.28 1625.8,622.04 1624.8,624.34 1623.8,621.03 1622.8,621.22 1621.8,626.15 1620.8,620.87 1619.8,620.78 1618.8,622.37 1617.8,623 1616.8,620.94 1615.8,621.01 1614.8,622.04 1613.8,622.57 1612.8,624.71 1611.8,625.58 1610.8,624.32 1609.8,626.08 1608.8,629.76 1607.8,632.02 1606.8,626.92 1605.8,630.39 1604.8,626.81 1603.8,629.02 1602.8,623.84 1601.8,624.34 1600.8,628.35 1599.8,631.16 1598.8,628.52 1597.8,628.32 1596.8,628.87 1595.8,630.6 1594.8,634.47 1593.8,627.72 1592.8,626.18 1591.8,627.91 1590.8,630.08 1589.8,624.29 1588.8,622.71 1587.8,622.85 1586.8,623.22 1585.8,623.55 1584.8,623.52 1583.8,624.32 1582.8,626.39 1581.8,627.64 1580.8,624.03 1579.8,624.51 1578.8,623.18 1577.8,623.49 1576.8,623.78 1575.8,625.8 1574.8,628.84 1573.8,628.3 1572.8,625.07 1571.8,623.65 1570.8,623.2 1569.8,622.69 1568.8,623.42 1567.8,623.81 1566.8,626.18 1565.8,628.22 1564.8,623.84 1563.8,623.36 1562.8,623.98 1561.8,623.1 1560.8,623.62 1559.8,623.2 1558.8,627.84 1557.8,630.29 1556.8,624 1555.8,624.09 1554.8,625.94 1553.8,624.68 1552.8,622.86 1551.8,622.26 1550.8,624.59 1549.8,623.26 1548.8,624.13 1547.8,622.71 1546.8,623.87 1545.8,624.44 1544.8,624.63 1543.8,625.03 1542.8,628.36 1541.8,629 1540.8,625.6 1539.8,624.23 1538.8,624.04 1537.8,625.48 1536.8,623.58 1535.8,624.91 1534.8,622.98 1533.8,623.78 1532.8,623.23 1531.8,624.02 1530.8,624 1529.8,624.34 1528.8,622.47 1527.8,623.76 1526.8,624.09 1525.8,623.88 1524.8,623.13 1523.8,624.13 1522.8,625.14 1521.8,623.93 1520.8,624.21 1519.8,623.47 1518.8,623.56 1517.8,626.86 1516.8,629.94 1515.8,627.45 1514.8,623.24 1513.8,623.39 1512.8,627.14 1511.8,627.27 1510.8,624.37 1509.8,624.35 1508.8,624.77 1507.8,624.21 1506.8,624.5 1505.8,625.16 1504.8,624.82 1503.8,626.33 1502.8,625.73 1501.8,624.92 1500.8,626 1499.8,630.63 1498.8,629.81 1497.8,629.64 1496.8,624.27 1495.8,624.69 1494.8,625.08 1493.8,627.15 1492.8,628.2 1491.8,630.09 1490.8,631.02 1489.8,629.08 1488.8,633.77 1487.8,624.73 1486.8,624.18 1485.8,624.21 1484.8,624.37 1483.8,623.03 1482.8,625.43 1481.8,623.61 1480.8,625.82 1479.8,623.71 1478.8,623.22 1477.8,624.02 1476.8,624.06 1475.8,624.47 1474.8,623.34 1473.8,626.07 1472.8,624 1471.8,624.17 1470.8,626.49 1469.8,623.22 1468.8,623.06 1467.8,623.3 1466.8,623.13 1465.8,624.31 1464.8,623.48 1463.8,623.03 1462.8,624.84 1461.8,623.29 1460.8,623.7 1459.8,623.59 1458.8,624.65 1457.8,623.69 1456.8,625.41 1455.8,623.76 1454.8,623.99 1453.8,626.42 1452.8,627.25 1451.8,624.16 1450.8,625.73 1449.8,629.05 1448.8,628.72 1447.8,626.78 1446.8,627.07 1445.8,630.05 1444.8,630.14 1443.8,631.64 1442.8,629.26 1441.8,623.01 1440.8,623.45 1439.8,623.37 1438.8,623.05 1437.8,624.11 1436.8,623.47 1435.8,623.34 1434.8,624.18 1433.8,623.6 1432.8,624.95 1431.8,624.39 1430.8,624.12 1429.8,625.56 1428.8,624.79 1427.8,625.21 1426.8,624.72 1425.8,623.82 1424.8,624.17 1423.8,625.64 1422.8,626.05 1421.8,627.98 1420.8,627.96 1419.8,626.16 1418.8,629.39 1417.8,629.42 1416.8,627.04 1415.8,628.86 1414.8,629.83 1413.8,628.22 1412.8,629.23 1411.8,632.17 1410.8,634.6 1409.8,636.46 1408.8,624.76 1407.8,623.12 1406.8,623.53 1405.8,624.42 1404.8,623.21 1403.8,623.59 1402.8,624.78 1401.8,623.61 1400.8,625.7 1399.8,623.64 1398.8,623.32 1397.8,624.78 1396.8,625.88 1395.8,625.94 1394.8,626.42 1393.8,624.28 1392.8,623.64 1391.8,623.65 1390.8,626.14 1389.8,625.01 1388.8,625.3 1387.8,624.71 1386.8,623.19 1385.8,624.42 1384.8,624.01 1383.8,623.24 1382.8,625.68 1381.8,625.72 1380.8,623.65 1379.8,625.52 1378.8,624.71 1377.8,626.5 1376.8,625.58 1375.8,625.82 1374.8,626.14 1373.8,627.72 1372.8,627.54 1371.8,631.38 1370.8,632.11 1369.8,623.51 1368.8,624.99 1367.8,624.57 1366.8,625.55 1365.8,623.55 1364.8,625.19 1363.8,625.4 1362.8,624.24 1361.8,624.19 1360.8,623.67 1359.8,624.87 1358.8,625.34 1357.8,623.34 1356.8,623.6 1355.8,624.39 1354.8,624.99 1353.8,625.48 1352.8,627.94 1351.8,629.32 1350.8,625.53 1349.8,623.83 1348.8,624 1347.8,623.71 1346.8,624.73 1345.8,623.47 1344.8,624.41 1343.8,623.03 1342.8,624.6 1341.8,622.63 1340.8,621.93 1339.8,622.67 1338.8,622.61 1337.8,623.01 1336.8,621.78 1335.8,622.28 1334.8,627.68 1333.8,625.31 1332.8,623.15 1331.8,624 1330.8,627.31 1329.8,629.63 1328.8,628.77 1327.8,629.63 1326.8,632.27 1325.8,635.17 1324.8,639.95 1323.8,622.7 1322.8,624.18 1321.8,623.37 1320.8,622.42 1319.8,622.76 1318.8,621.96 1317.8,622.57 1316.8,621.75 1315.8,621.79 1314.8,621.71 1313.8,622.78 1312.8,622.3 1311.8,621.93 1310.8,625.62 1309.8,623.8 1308.8,623.34 1307.8,622.95 1306.8,622.15 1305.8,623.25 1304.8,624.58 1303.8,624.17 1302.8,626.21 1301.8,626.43 1300.8,627.76 1299.8,623.36 1298.8,622.73 1297.8,623.75 1296.8,623.45 1295.8,622.29 1294.8,620.9 1293.8,620.98 1292.8,622.53 1291.8,621.03 1290.8,620.59 1289.8,621.77 1288.8,620.67 1287.8,621.56 1286.8,621.41 1285.8,620.72 1284.8,622.43 1283.8,621.74 1282.8,621.19 1281.8,621.11 1280.8,623.49 1279.8,623.12 1278.8,621.27 1277.8,621.51 1276.8,626.27 1275.8,623.17 1274.8,623.96 1273.8,627.86 1272.8,626.57 1271.8,628.16 1270.8,627.41 1269.8,628.41 1268.8,628.39 1267.8,630.08 1266.8,633.5 1265.8,629.78 1264.8,627.73 1263.8,623.69 1262.8,624.16 1261.8,623.98 1260.8,625.41 1259.8,624.97 1258.8,626.39 1257.8,626.94 1256.8,630.48 1255.8,630.48 1254.8,630.27 1253.8,631.07 1252.8,631.03 1251.8,634.97 1250.8,636.6 1249.8,630.6 1248.8,633.84 1247.8,625.61 1246.8,624.35 1245.8,623.59 1244.8,625.12 1243.8,626.08 1242.8,623.4 1241.8,623.45 1240.8,624.84 1239.8,624.33 1238.8,623.39 1237.8,623.5 1236.8,623.66 1235.8,622.97 1234.8,623.67 1233.8,625.64 1232.8,625.72 1231.8,629.22 1230.8,629.26 1229.8,626.44 1228.8,624.06 1227.8,624.01 1226.8,624.57 1225.8,625.06 1224.8,623.72 1223.8,624.09 1222.8,623.46 1221.8,624.59 1220.8,628.44 1219.8,625.48 1218.8,626.22 1217.8,624.73 1216.8,626.14 1215.8,625.67 1214.8,627.36 1213.8,627.64 1212.8,627.84 1211.8,629.59 1210.8,624.02 1209.8,624.24 1208.8,623.2 1207.8,625.09 1206.8,626.14 1205.8,623.2 1204.8,623.28 1203.8,623.34 1202.8,624.94 1201.8,623.28 1200.8,625.03 1199.8,623.35 1198.8,622.98 1197.8,625.64 1196.8,624.09 1195.8,623.06 1194.8,624.74 1193.8,625.5 1192.8,623.82 1191.8,623.25 1190.8,624.91 1189.8,627.64 1188.8,623 1187.8,623.3 1186.8,624.12 1185.8,627.75 1184.8,629.47 1183.8,626.59 1182.8,623.33 1181.8,624.62 1180.8,623.73 1179.8,625.1 1178.8,625.18 1177.8,624.36 1176.8,623.89 1175.8,623.19 1174.8,623.6 1173.8,622.99 1172.8,625.11 1171.8,623.35 1170.8,622Z" fill="#000"/>
<path d="M1720,620.8H1748.5V595" fill="none" stroke="#111" stroke-width="1.3"/>
<text x="1759.8" y="613.3" font-size="17.5" textLength="39" lengthAdjust="spacingAndGlyphs">20pA</text>
<text x="1703.8" y="645" font-size="17.5" textLength="46.7" lengthAdjust="spacingAndGlyphs">200ms</text>
<polyline points="1015,993.3 1016.12,993.3 1017.23,993.3 1018.35,993.3 1019.47,993.3 1020.58,993.3 1021.7,993.3 1022.82,993.3 1023.93,992.93 1025.05,991.99 1026.16,990.7 1027.28,988.61 1028.4,985.14 1029.51,980.32 1030.63,970.39 1031.75,955.45 1032.86,941.4 1033.98,929.92 1035.1,918.86 1036.21,908.35 1037.33,898.52 1038.45,889.5 1039.56,881.32 1040.68,873.81 1041.8,866.86 1042.91,860.33 1044.03,854.13 1045.15,848.27 1046.26,842.76 1047.38,837.6 1048.49,832.74 1049.61,828.11 1050.73,823.69 1051.84,819.48 1052.96,815.47 1054.08,811.65 1055.19,807.92 1056.31,804.24 1057.43,800.64 1058.54,797.19 1059.66,793.92 1060.78,790.88 1061.89,788.13 1063.01,785.7 1064.13,783.49 1065.24,781.37 1066.36,779.32 1067.48,777.35 1068.59,775.45 1069.71,773.64 1070.83,771.9 1071.94,770.24 1073.06,768.66 1074.17,767.16 1075.29,765.73 1076.41,764.38 1077.52,763.11 1078.64,761.91 1079.76,760.79 1080.87,759.75 1081.99,758.76 1083.11,757.81 1084.22,756.9 1085.34,756.02 1086.46,755.18 1087.57,754.36 1088.69,753.58 1089.81,752.83 1090.92,752.11 1092.04,751.42 1093.15,750.75 1094.27,750.11 1095.39,749.5 1096.5,748.91 1097.62,748.35 1098.74,747.8 1099.85,747.28 1100.97,746.77 1102.09,746.29 1103.2,745.8 1104.32,745.33 1105.44,744.87 1106.55,744.41 1107.67,743.97 1108.79,743.54 1109.9,743.12 1111.02,742.71 1112.14,742.32 1113.25,741.94 1114.37,741.57 1115.48,741.22 1116.6,740.88 1117.72,740.56 1118.83,740.25 1119.95,739.96 1121.07,739.69 1122.18,739.44 1123.3,739.21 1124.42,738.99 1125.53,738.79 1126.65,738.59 1127.77,738.4 1128.88,738.22 1130,738.04 1131.12,737.87 1132.23,737.71 1133.35,737.55 1134.47,737.4 1135.58,737.25 1136.7,737.11 1137.82,736.97 1138.93,736.84 1140.05,736.71 1141.16,736.59 1142.28,736.47 1143.4,736.36 1144.51,736.26 1145.63,736.16 1146.75,736.06 1147.86,735.96 1148.98,735.88 1150.1,735.79 1151.21,735.7 1152.33,735.61 1153.45,735.53 1154.56,735.44 1155.68,735.35 1156.8,735.27 1157.91,735.18 1159.03,735.1 1160.14,735.02 1161.26,734.94 1162.38,734.86 1163.49,734.79 1164.61,734.71 1165.73,734.64 1166.84,734.58 1167.96,734.51 1169.08,734.45 1170.19,734.39 1171.31,734.34 1172.43,734.29 1173.54,734.24 1174.66,734.2 1175.78,734.17 1176.89,734.13 1178.01,734.11 1179.13,734.09 1180.24,734.07 1181.36,734.06 1182.47,734.06 1183.59,734.06 1184.71,734.06 1185.82,734.06 1186.94,734.06 1188.06,734.06 1189.17,734.06 1190.29,734.06 1191.41,734.06 1192.52,734.06 1193.64,734.06 1194.76,734.06 1195.87,734.06 1196.99,734.06 1198.11,734.06 1199.22,734.06 1200.34,734.06 1201.46,734.06 1202.57,734.06 1203.69,734.06 1204.81,734.06 1205.92,734.06 1207.04,734.06 1208.15,734.06 1209.27,734.06 1210.39,734.06 1211.5,734.06 1212.62,734.06 1213.74,734.06 1214.85,734.06 1215.97,734.06 1217.09,734.06 1218.2,734.06 1219.32,734.06 1220.44,734.06 1221.55,734.06 1222.67,734.06 1223.79,734.06 1224.9,734.06 1226.02,734.06 1227.13,734.06 1228.25,734.06 1229.37,734.06 1230.48,734.06 1231.6,734.06 1232.72,734.06 1233.83,734.06 1234.95,734.06 1236.07,734.06 1237.18,734.06 1238.3,734.06 1239.42,734.06 1240.53,734.06 1241.65,734.06 1242.77,734.06 1243.88,734.06 1245,734.06 1246.12,734.06 1247.23,734.06 1248.35,734.06 1249.46,734.06 1250.58,734.06 1251.7,734.06 1252.81,734.06 1253.93,734.06 1255.05,734.06 1256.16,734.06 1257.28,734.06 1258.4,734.06 1259.51,734.06 1260.63,734.06 1261.75,734.06 1262.86,734.06 1263.98,734.06 1265.1,734.06 1266.21,734.06 1267.33,734.06 1268.45,734.06 1269.56,734.06 1270.68,734.06 1271.8,734.06 1272.91,734.06 1274.03,734.06 1275.14,734.06 1276.26,734.06 1277.38,734.06 1278.49,734.06 1279.61,734.06 1280.73,734.06 1281.84,734.06 1282.96,734.06 1284.08,734.06 1285.19,734.06 1286.31,734.06 1287.43,734.06 1288.54,734.06 1289.66,734.06 1290.78,734.06 1291.89,734.06 1293.01,734.06 1294.12,734.06 1295.24,734.06 1296.36,734.06 1297.47,734.06 1298.59,734.06 1299.71,734.06 1300.82,734.06 1301.94,734.07 1303.06,734.07 1304.17,734.07 1305.29,734.07 1306.41,734.08 1307.52,734.08 1308.64,734.08 1309.76,734.09 1310.87,734.09 1311.99,734.1 1313.11,734.1 1314.22,734.11 1315.34,734.11 1316.45,734.12 1317.57,734.12 1318.69,734.13 1319.8,734.14 1320.92,734.14 1322.04,734.15 1323.15,734.16 1324.27,734.16 1325.39,734.17 1326.5,734.18 1327.62,734.19 1328.74,734.19 1329.85,734.2 1330.97,734.21 1332.09,734.22 1333.2,734.23 1334.32,734.24 1335.44,734.25 1336.55,734.26 1337.67,734.27 1338.79,734.28 1339.9,734.29 1341.02,734.3 1342.13,734.31 1343.25,734.32 1344.37,734.33 1345.48,734.34 1346.6,734.35 1347.72,734.36 1348.83,734.37 1349.95,734.38 1351.07,734.4 1352.18,734.41 1353.3,734.42 1354.42,734.43 1355.53,734.44 1356.65,734.46 1357.77,734.47 1358.88,734.48 1360,734.49 1361.12,734.51 1362.23,734.52 1363.35,734.53 1364.46,734.55 1365.58,734.56 1366.7,734.57 1367.81,734.59 1368.93,734.6 1370.05,734.62 1371.16,734.63 1372.28,734.64 1373.4,734.66 1374.51,734.67 1375.63,734.69 1376.75,734.7 1377.86,734.72 1378.98,734.73 1380.1,734.75 1381.21,734.76 1382.33,734.78 1383.44,734.79 1384.56,734.81 1385.68,734.82 1386.79,734.84 1387.91,734.85 1389.03,734.87 1390.14,734.88 1391.26,734.9 1392.38,734.91 1393.49,734.93 1394.61,734.94 1395.73,734.96 1396.84,734.97 1397.96,734.99 1399.08,735 1400.19,735.02 1401.31,735.04 1402.43,735.05 1403.54,735.07 1404.66,735.08 1405.78,735.1" fill="none" stroke="none" marker-start="url(#ms)" marker-mid="url(#ms)" marker-end="url(#ms)"/>
<polyline points="1015,993.3 1016.12,993.3 1017.23,993.3 1018.35,993.3 1019.47,993.3 1020.58,993.3 1021.7,993.3 1022.82,993.3 1023.93,993.3 1025.05,992.93 1026.16,991.99 1027.28,990.7 1028.4,988.61 1029.51,985.14 1030.63,980.32 1031.75,970.39 1032.86,955.45 1033.98,941.4 1035.1,930.05 1036.21,919.24 1037.33,908.92 1038.45,899.03 1039.56,889.5 1040.68,880.27 1041.8,871.51 1042.91,863.55 1044.03,856.38 1045.15,849.74 1046.26,843.51 1047.38,837.6 1048.49,831.89 1049.61,826.39 1050.73,821.15 1051.84,816.22 1052.96,811.65 1054.08,807.32 1055.19,803.1 1056.31,799.05 1057.43,795.22 1058.54,791.68 1059.66,788.49 1060.78,785.7 1061.89,783.19 1063.01,780.78 1064.13,778.48 1065.24,776.28 1066.36,774.19 1067.48,772.2 1068.59,770.31 1069.71,768.51 1070.83,766.82 1071.94,765.22 1073.06,763.71 1074.17,762.3 1075.29,760.98 1076.41,759.75 1077.52,758.59 1078.64,757.47 1079.76,756.39 1080.87,755.35 1081.99,754.36 1083.11,753.41 1084.22,752.5 1085.34,751.64 1086.46,750.82 1087.57,750.04 1088.69,749.3 1089.81,748.61 1090.92,747.95 1092.04,747.34 1093.15,746.77 1094.27,746.23 1095.39,745.7 1096.5,745.18 1097.62,744.68 1098.74,744.19 1099.85,743.71 1100.97,743.25 1102.09,742.8 1103.2,742.37 1104.32,741.96 1105.44,741.57 1106.55,741.19 1107.67,740.84 1108.79,740.5 1109.9,740.19 1111.02,739.9 1112.14,739.64 1113.25,739.4 1114.37,739.18 1115.48,738.99 1116.6,738.82 1117.72,738.65 1118.83,738.49 1119.95,738.33 1121.07,738.18 1122.18,738.04 1123.3,737.9 1124.42,737.76 1125.53,737.64 1126.65,737.52 1127.77,737.4 1128.88,737.29 1130,737.18 1131.12,737.08 1132.23,736.99 1133.35,736.9 1134.47,736.81 1135.58,736.73 1136.7,736.65 1137.82,736.58 1138.93,736.52 1140.05,736.45 1141.16,736.39 1142.28,736.34 1143.4,736.28 1144.51,736.23 1145.63,736.18 1146.75,736.12 1147.86,736.07 1148.98,736.02 1150.1,735.97 1151.21,735.91 1152.33,735.86 1153.45,735.82 1154.56,735.77 1155.68,735.72 1156.8,735.68 1157.91,735.63 1159.03,735.59 1160.14,735.55 1161.26,735.51 1162.38,735.47 1163.49,735.43 1164.61,735.4 1165.73,735.36 1166.84,735.33 1167.96,735.3 1169.08,735.27 1170.19,735.25 1171.31,735.22 1172.43,735.2 1173.54,735.18 1174.66,735.16 1175.78,735.14 1176.89,735.13 1178.01,735.12 1179.13,735.11 1180.24,735.1 1181.36,735.1 1182.47,735.1 1183.59,735.1 1184.71,735.1 1185.82,735.1 1186.94,735.1 1188.06,735.1 1189.17,735.1 1190.29,735.1 1191.41,735.1 1192.52,735.1 1193.64,735.1 1194.76,735.1 1195.87,735.1 1196.99,735.1 1198.11,735.1 1199.22,735.1 1200.34,735.1 1201.46,735.1 1202.57,735.1 1203.69,735.1 1204.81,735.1 1205.92,735.1 1207.04,735.1 1208.15,735.1 1209.27,735.1 1210.39,735.1 1211.5,735.1 1212.62,735.1 1213.74,735.1 1214.85,735.1 1215.97,735.1 1217.09,735.1 1218.2,735.1 1219.32,735.1 1220.44,735.1 1221.55,735.1 1222.67,735.1 1223.79,735.1 1224.9,735.1 1226.02,735.1 1227.13,735.1 1228.25,735.1 1229.37,735.1 1230.48,735.1 1231.6,735.1 1232.72,735.1 1233.83,735.1 1234.95,735.1 1236.07,735.1 1237.18,735.1 1238.3,735.1 1239.42,735.1 1240.53,735.1 1241.65,735.1 1242.77,735.1 1243.88,735.1 1245,735.1 1246.12,735.1 1247.23,735.1 1248.35,735.1 1249.46,735.1 1250.58,735.1 1251.7,735.1 1252.81,735.1 1253.93,735.1 1255.05,735.1 1256.16,735.1 1257.28,735.1 1258.4,735.1 1259.51,735.1 1260.63,735.1 1261.75,735.1 1262.86,735.1 1263.98,735.1 1265.1,735.1 1266.21,735.1 1267.33,735.1 1268.45,735.1 1269.56,735.1 1270.68,735.1 1271.8,735.1 1272.91,735.1 1274.03,735.1 1275.14,735.1 1276.26,735.1 1277.38,735.1 1278.49,735.1 1279.61,735.1 1280.73,735.1 1281.84,735.1 1282.96,735.1 1284.08,735.1 1285.19,735.1 1286.31,735.1 1287.43,735.1 1288.54,735.1 1289.66,735.1 1290.78,735.1 1291.89,735.1 1293.01,735.1 1294.12,735.1 1295.24,735.1 1296.36,735.1 1297.47,735.1 1298.59,735.1 1299.71,735.1 1300.82,735.1 1301.94,735.1 1303.06,735.1 1304.17,735.1 1305.29,735.1 1306.41,735.1 1307.52,735.1 1308.64,735.1 1309.76,735.1 1310.87,735.1 1311.99,735.1 1313.11,735.1 1314.22,735.1 1315.34,735.1 1316.45,735.1 1317.57,735.1 1318.69,735.1 1319.8,735.1 1320.92,735.1 1322.04,735.1 1323.15,735.1 1324.27,735.1 1325.39,735.1 1326.5,735.1 1327.62,735.1 1328.74,735.1 1329.85,735.1 1330.97,735.1 1332.09,735.1 1333.2,735.1 1334.32,735.1 1335.44,735.1 1336.55,735.1 1337.67,735.1 1338.79,735.1 1339.9,735.1 1341.02,735.1 1342.13,735.1 1343.25,735.1 1344.37,735.1 1345.48,735.1 1346.6,735.1 1347.72,735.1 1348.83,735.1 1349.95,735.1 1351.07,735.1 1352.18,735.1 1353.3,735.1 1354.42,735.1 1355.53,735.1 1356.65,735.1 1357.77,735.1 1358.88,735.1 1360,735.1 1361.12,735.1 1362.23,735.1 1363.35,735.1 1364.46,735.1 1365.58,735.1 1366.7,735.1 1367.81,735.1 1368.93,735.1 1370.05,735.1 1371.16,735.1 1372.28,735.1 1373.4,735.1 1374.51,735.1 1375.63,735.1 1376.75,735.1 1377.86,735.1 1378.98,735.1 1380.1,735.1 1381.21,735.1 1382.33,735.1 1383.44,735.1 1384.56,735.1 1385.68,735.1 1386.79,735.1 1387.91,735.1 1389.03,735.1 1390.14,735.1 1391.26,735.1 1392.38,735.1 1393.49,735.1 1394.61,735.1 1395.73,735.1 1396.84,735.1 1397.96,735.1 1399.08,735.1 1400.19,735.1 1401.31,735.1 1402.43,735.1 1403.54,735.1 1404.66,735.1 1405.78,735.1" fill="none" stroke="none" marker-start="url(#mc)" marker-mid="url(#mc)" marker-end="url(#mc)"/>
<path d="M1015,732.5V994.6M1008.5,993.3H1405.3" fill="none" stroke="#000" stroke-width="2.6"/>
<line x1="1008.5" y1="993.3" x2="1015" y2="993.3" stroke="#000" stroke-width="2.6"/>
<text x="1005.5" y="999.7" font-size="19" font-weight="bold" text-anchor="end" textLength="25" lengthAdjust="spacingAndGlyphs">0.0</text>
<line x1="1008.5" y1="941.4" x2="1015" y2="941.4" stroke="#000" stroke-width="2.6"/>
<text x="1005.5" y="947.8" font-size="19" font-weight="bold" text-anchor="end" textLength="25" lengthAdjust="spacingAndGlyphs">0.2</text>
<line x1="1008.5" y1="889.5" x2="1015" y2="889.5" stroke="#000" stroke-width="2.6"/>
<text x="1005.5" y="895.9" font-size="19" font-weight="bold" text-anchor="end" textLength="25" lengthAdjust="spacingAndGlyphs">0.4</text>
<line x1="1008.5" y1="837.6" x2="1015" y2="837.6" stroke="#000" stroke-width="2.6"/>
<text x="1005.5" y="844" font-size="19" font-weight="bold" text-anchor="end" textLength="25" lengthAdjust="spacingAndGlyphs">0.6</text>
<line x1="1008.5" y1="785.7" x2="1015" y2="785.7" stroke="#000" stroke-width="2.6"/>
<text x="1005.5" y="792.1" font-size="19" font-weight="bold" text-anchor="end" textLength="25" lengthAdjust="spacingAndGlyphs">0.8</text>
<line x1="1008.5" y1="733.8" x2="1015" y2="733.8" stroke="#000" stroke-width="2.6"/>
<text x="1005.5" y="740.2" font-size="19" font-weight="bold" text-anchor="end" textLength="25" lengthAdjust="spacingAndGlyphs">1.0</text>
<line x1="1015" y1="993.3" x2="1015" y2="1000.3" stroke="#000" stroke-width="2.6"/>
<text x="1015" y="1021.3" font-size="19" font-weight="bold" text-anchor="middle">0</text>
<line x1="1126.65" y1="993.3" x2="1126.65" y2="1000.3" stroke="#000" stroke-width="2.6"/>
<text x="1126.65" y="1021.3" font-size="19" font-weight="bold" text-anchor="middle">100</text>
<line x1="1238.3" y1="993.3" x2="1238.3" y2="1000.3" stroke="#000" stroke-width="2.6"/>
<text x="1238.3" y="1021.3" font-size="19" font-weight="bold" text-anchor="middle">200</text>
<line x1="1349.95" y1="993.3" x2="1349.95" y2="1000.3" stroke="#000" stroke-width="2.6"/>
<text x="1349.95" y="1021.3" font-size="19" font-weight="bold" text-anchor="middle">300</text>
<text x="958.8" y="865.5" font-size="21" font-weight="bold" text-anchor="middle" textLength="226.5" lengthAdjust="spacing" transform="rotate(-90 958.8 865.5)">Cumulative Probability</text>
<text x="1135.5" y="1050" font-size="18.5" font-weight="bold" textLength="147.5" lengthAdjust="spacingAndGlyphs">Amplitude (pA)</text>
<rect x="1013.7" y="991.6" width="393.8" height="3.4" fill="#000"/>
<rect x="1167" y="869.5" width="61.8" height="120.5" fill="#626262"/>
<rect x="1260" y="868.3" width="61.8" height="121.7" fill="#fe0000"/>
<path d="M1198,870V862.5M1183,862.5H1212.5" fill="none" stroke="#626262" stroke-width="1.6"/>
<path d="M1291.8,868.8V857M1277.5,857H1306.3" fill="none" stroke="#fe0000" stroke-width="1.6"/>
<rect x="1128.8" y="989" width="225.7" height="4.5" fill="#000"/>
<path d="M1135.5,772V990" fill="none" stroke="#000" stroke-width="1.4"/>
<line x1="1130.7" y1="772.5" x2="1135.5" y2="772.5" stroke="#000" stroke-width="1.4"/>
<text x="1129.2" y="777.62" font-size="15.5" font-weight="bold" text-anchor="end" textLength="17.05" lengthAdjust="spacingAndGlyphs">50</text>
<line x1="1130.7" y1="816.3" x2="1135.5" y2="816.3" stroke="#000" stroke-width="1.4"/>
<text x="1129.2" y="821.41" font-size="15.5" font-weight="bold" text-anchor="end" textLength="17.05" lengthAdjust="spacingAndGlyphs">40</text>
<line x1="1130.7" y1="859.5" x2="1135.5" y2="859.5" stroke="#000" stroke-width="1.4"/>
<text x="1129.2" y="864.62" font-size="15.5" font-weight="bold" text-anchor="end" textLength="17.05" lengthAdjust="spacingAndGlyphs">30</text>
<line x1="1130.7" y1="903" x2="1135.5" y2="903" stroke="#000" stroke-width="1.4"/>
<text x="1129.2" y="908.12" font-size="15.5" font-weight="bold" text-anchor="end" textLength="17.05" lengthAdjust="spacingAndGlyphs">20</text>
<line x1="1130.7" y1="946.5" x2="1135.5" y2="946.5" stroke="#000" stroke-width="1.4"/>
<text x="1129.2" y="951.62" font-size="15.5" font-weight="bold" text-anchor="end" textLength="17.05" lengthAdjust="spacingAndGlyphs">10</text>
<line x1="1130.7" y1="990" x2="1135.5" y2="990" stroke="#000" stroke-width="1.4"/>
<text x="1129.2" y="995.12" font-size="15.5" font-weight="bold" text-anchor="end" textLength="8.53" lengthAdjust="spacingAndGlyphs">0</text>
<text x="1101.5" y="881" font-size="15.5" font-weight="bold" text-anchor="middle" textLength="122.5" lengthAdjust="spacingAndGlyphs" transform="rotate(-90 1101.5 881)">Amplitude (pA)</text>
<circle cx="1198.27" cy="836.37" r="4.4" fill="#000"/>
<circle cx="1217.79" cy="850.14" r="4.4" fill="#000"/>
<circle cx="1178.5" cy="854.64" r="4.4" fill="#000"/>
<circle cx="1204.77" cy="854.64" r="4.4" fill="#000"/>
<circle cx="1191.51" cy="858.14" r="4.4" fill="#000"/>
<circle cx="1185.26" cy="879.66" r="4.4" fill="#000"/>
<circle cx="1211.53" cy="878.41" r="4.4" fill="#000"/>
<circle cx="1198.27" cy="886.42" r="4.4" fill="#000"/>
<circle cx="1204.77" cy="893.18" r="4.4" fill="#000"/>
<circle cx="1191.51" cy="902.19" r="4.4" fill="#000"/>
<rect x="1287.61" y="793.58" width="9" height="9" fill="#000"/>
<rect x="1293.87" y="807.6" width="9" height="9" fill="#000"/>
<rect x="1280.35" y="818.86" width="9" height="9" fill="#000"/>
<rect x="1287.61" y="833.12" width="9" height="9" fill="#000"/>
<rect x="1273.85" y="851.89" width="9" height="9" fill="#000"/>
<rect x="1287.61" y="860.65" width="9" height="9" fill="#000"/>
<rect x="1300.12" y="860.65" width="9" height="9" fill="#000"/>
<rect x="1267.09" y="894.43" width="9" height="9" fill="#000"/>
<rect x="1300.12" y="893.93" width="9" height="9" fill="#000"/>
<rect x="1287.61" y="898.69" width="9" height="9" fill="#000"/>
<rect x="1273.85" y="904.44" width="9" height="9" fill="#000"/>
<rect x="1300.12" y="908.2" width="9" height="9" fill="#000"/>
<rect x="1287.61" y="913.95" width="9" height="9" fill="#000"/>
<text x="1187" y="978.8" font-size="26" fill="#0a0a0a" textLength="34.3" lengthAdjust="spacingAndGlyphs" stroke="#0a0a0a" stroke-width="0.5">+/+</text>
<text x="1274.5" y="978.8" font-size="26" fill="#0a0a0a" textLength="29.8" lengthAdjust="spacingAndGlyphs" stroke="#0a0a0a" stroke-width="0.5">+/-</text>
<path d="M1196.8,789.3V770.8H1291.8V789.3" fill="none" stroke="#000" stroke-width="1.4"/>
<text x="1231.3" y="758.8" font-size="16" font-weight="bold" textLength="24.5" lengthAdjust="spacingAndGlyphs">n.s.</text>
<polyline points="1491.3,991.8 1493.24,987.86 1495.18,983.02 1497.13,977.06 1499.07,970.18 1501.01,962.41 1502.95,954.45 1504.89,946.31 1506.84,938.8 1508.78,931.97 1510.72,925.51 1512.66,919.31 1514.6,913.22 1516.55,907.17 1518.49,901.24 1520.43,895.54 1522.37,890.17 1524.31,885.16 1526.26,880.35 1528.2,875.74 1530.14,871.35 1532.08,867.17 1534.02,863.23 1535.97,859.52 1537.91,855.99 1539.85,852.62 1541.79,849.37 1543.73,846.22 1545.68,843.14 1547.62,840.09 1549.56,837.06 1551.5,834.02 1553.44,830.98 1555.39,827.97 1557.33,825 1559.27,822.09 1561.21,819.27 1563.15,816.55 1565.1,813.96 1567.04,811.51 1568.98,809.16 1570.92,806.86 1572.86,804.59 1574.81,802.38 1576.75,800.23 1578.69,798.13 1580.63,796.1 1582.57,794.14 1584.52,792.26 1586.46,790.47 1588.4,788.76 1590.34,787.14 1592.28,785.63 1594.23,784.18 1596.17,782.76 1598.11,781.36 1600.05,779.98 1601.99,778.63 1603.94,777.31 1605.88,776.01 1607.82,774.75 1609.76,773.51 1611.7,772.31 1613.65,771.14 1615.59,770 1617.53,768.9 1619.47,767.83 1621.41,766.8 1623.36,765.81 1625.3,764.86 1627.24,763.96 1629.18,763.09 1631.12,762.27 1633.07,761.49 1635.01,760.76 1636.95,760.08 1638.89,759.44 1640.83,758.82 1642.78,758.22 1644.72,757.64 1646.66,757.07 1648.6,756.51 1650.54,755.97 1652.49,755.44 1654.43,754.93 1656.37,754.43 1658.31,753.94 1660.25,753.47 1662.2,753.01 1664.14,752.56 1666.08,752.13 1668.02,751.7 1669.96,751.29 1671.91,750.89 1673.85,750.51 1675.79,750.13 1677.73,749.76 1679.67,749.41 1681.62,749.07 1683.56,748.73 1685.5,748.41 1687.44,748.09 1689.38,747.79 1691.33,747.49 1693.27,747.21 1695.21,746.93 1697.15,746.66 1699.09,746.4 1701.04,746.14 1702.98,745.89 1704.92,745.64 1706.86,745.4 1708.8,745.17 1710.75,744.94 1712.69,744.72 1714.63,744.5 1716.57,744.29 1718.51,744.08 1720.46,743.88 1722.4,743.68 1724.34,743.49 1726.28,743.3 1728.22,743.12 1730.17,742.95 1732.11,742.78 1734.05,742.61 1735.99,742.45 1737.93,742.29 1739.88,742.14 1741.82,742 1743.76,741.85 1745.7,741.72 1747.64,741.58 1749.59,741.46 1751.53,741.33 1753.47,741.21 1755.41,741.09 1757.35,740.97 1759.3,740.86 1761.24,740.74 1763.18,740.64 1765.12,740.53 1767.06,740.43 1769.01,740.33 1770.95,740.23 1772.89,740.13 1774.83,740.04 1776.77,739.94 1778.72,739.85 1780.66,739.76 1782.6,739.68 1784.54,739.59 1786.48,739.51 1788.43,739.42 1790.37,739.34 1792.31,739.26 1794.25,739.18 1796.19,739.1 1798.14,739.03 1800.08,738.95 1802.02,738.87 1803.96,738.8 1805.9,738.72 1807.85,738.65 1809.79,738.58 1811.73,738.5 1813.67,738.43 1815.61,738.36 1817.56,738.28 1819.5,738.21 1821.44,738.14 1823.38,738.07 1825.32,738 1827.27,737.94 1829.21,737.87 1831.15,737.8 1833.09,737.74 1835.03,737.67 1836.98,737.61 1838.92,737.54 1840.86,737.48 1842.8,737.42 1844.74,737.36 1846.69,737.3 1848.63,737.24 1850.57,737.19 1852.51,737.13 1854.45,737.08 1856.4,737.02 1858.34,736.97 1860.28,736.92 1862.22,736.87 1864.16,736.82 1866.11,736.77 1868.05,736.73 1869.99,736.68 1871.93,736.64 1873.87,736.6 1875.82,736.56 1877.76,736.52 1879.7,736.48" fill="none" stroke="none" marker-start="url(#ms)" marker-mid="url(#ms)" marker-end="url(#ms)"/>
<polyline points="1491.3,991.8 1493.24,984.06 1495.18,973.75 1497.13,960.85 1499.07,948.03 1501.01,934.75 1502.95,920.7 1504.89,908.94 1506.84,899.11 1508.78,889.63 1510.72,879.48 1512.66,869.37 1514.6,860.23 1516.55,851.85 1518.49,844.07 1520.43,837.06 1522.37,830.66 1524.31,824.66 1526.26,819.12 1528.2,814.05 1530.14,809.49 1532.08,805.16 1534.02,801.02 1535.97,797.13 1537.91,793.51 1539.85,790.22 1541.79,787.29 1543.73,784.75 1545.68,782.39 1547.62,780.12 1549.56,777.94 1551.5,775.86 1553.44,773.87 1555.39,771.98 1557.33,770.19 1559.27,768.49 1561.21,766.89 1563.15,765.39 1565.1,763.99 1567.04,762.69 1568.98,761.49 1570.92,760.4 1572.86,759.4 1574.81,758.45 1576.75,757.54 1578.69,756.66 1580.63,755.82 1582.57,755 1584.52,754.22 1586.46,753.48 1588.4,752.76 1590.34,752.08 1592.28,751.42 1594.23,750.8 1596.17,750.21 1598.11,749.64 1600.05,749.11 1601.99,748.61 1603.94,748.13 1605.88,747.68 1607.82,747.26 1609.76,746.87 1611.7,746.5 1613.65,746.14 1615.59,745.79 1617.53,745.45 1619.47,745.12 1621.41,744.79 1623.36,744.48 1625.3,744.18 1627.24,743.88 1629.18,743.59 1631.12,743.31 1633.07,743.04 1635.01,742.78 1636.95,742.52 1638.89,742.27 1640.83,742.03 1642.78,741.8 1644.72,741.57 1646.66,741.35 1648.6,741.13 1650.54,740.92 1652.49,740.72 1654.43,740.53 1656.37,740.33 1658.31,740.15 1660.25,739.97 1662.2,739.79 1664.14,739.62 1666.08,739.45 1668.02,739.29 1669.96,739.14 1671.91,738.98 1673.85,738.83 1675.79,738.68 1677.73,738.54 1679.67,738.4 1681.62,738.26 1683.56,738.13 1685.5,738 1687.44,737.87 1689.38,737.75 1691.33,737.63 1693.27,737.51 1695.21,737.4 1697.15,737.29 1699.09,737.19 1701.04,737.09 1702.98,736.99 1704.92,736.89 1706.86,736.8 1708.8,736.72 1710.75,736.63 1712.69,736.55 1714.63,736.48 1716.57,736.41 1718.51,736.33 1720.46,736.26 1722.4,736.18 1724.34,736.11 1726.28,736.04 1728.22,735.96 1730.17,735.89 1732.11,735.82 1734.05,735.75 1735.99,735.68 1737.93,735.61 1739.88,735.54 1741.82,735.47 1743.76,735.41 1745.7,735.35 1747.64,735.29 1749.59,735.23 1751.53,735.17 1753.47,735.12 1755.41,735.06 1757.35,735.01 1759.3,734.97 1761.24,734.92 1763.18,734.88 1765.12,734.84 1767.06,734.81 1769.01,734.78 1770.95,734.75 1772.89,734.73 1774.83,734.71 1776.77,734.69 1778.72,734.68 1780.66,734.68 1782.6,734.67 1784.54,734.67 1786.48,734.67 1788.43,734.67 1790.37,734.67 1792.31,734.67 1794.25,734.67 1796.19,734.67 1798.14,734.67 1800.08,734.67 1802.02,734.67 1803.96,734.67 1805.9,734.67 1807.85,734.67 1809.79,734.67 1811.73,734.67 1813.67,734.67 1815.61,734.67 1817.56,734.67 1819.5,734.67 1821.44,734.67 1823.38,734.67 1825.32,734.67 1827.27,734.67 1829.21,734.67 1831.15,734.67 1833.09,734.67 1835.03,734.67 1836.98,734.67 1838.92,734.67 1840.86,734.67 1842.8,734.67 1844.74,734.67 1846.69,734.67 1848.63,734.67 1850.57,734.67 1852.51,734.67 1854.45,734.67 1856.4,734.67 1858.34,734.67 1860.28,734.67 1862.22,734.67 1864.16,734.67 1866.11,734.67 1868.05,734.67 1869.99,734.67 1871.93,734.67 1873.87,734.67 1875.82,734.67 1877.76,734.67 1879.7,734.67" fill="none" stroke="none" marker-start="url(#mc)" marker-mid="url(#mc)" marker-end="url(#mc)"/>
<path d="M1491.3,732.8V992.9M1484.8,991.8H1880.8" fill="none" stroke="#000" stroke-width="2.2"/>
<line x1="1484.8" y1="991.8" x2="1491.3" y2="991.8" stroke="#000" stroke-width="2.2"/>
<text x="1481.8" y="998.2" font-size="19" font-weight="bold" text-anchor="end" textLength="25.5" lengthAdjust="spacingAndGlyphs">0.0</text>
<line x1="1484.8" y1="940.22" x2="1491.3" y2="940.22" stroke="#000" stroke-width="2.2"/>
<text x="1481.8" y="946.62" font-size="19" font-weight="bold" text-anchor="end" textLength="25.5" lengthAdjust="spacingAndGlyphs">0.2</text>
<line x1="1484.8" y1="888.64" x2="1491.3" y2="888.64" stroke="#000" stroke-width="2.2"/>
<text x="1481.8" y="895.04" font-size="19" font-weight="bold" text-anchor="end" textLength="25.5" lengthAdjust="spacingAndGlyphs">0.4</text>
<line x1="1484.8" y1="837.06" x2="1491.3" y2="837.06" stroke="#000" stroke-width="2.2"/>
<text x="1481.8" y="843.46" font-size="19" font-weight="bold" text-anchor="end" textLength="25.5" lengthAdjust="spacingAndGlyphs">0.6</text>
<line x1="1484.8" y1="785.48" x2="1491.3" y2="785.48" stroke="#000" stroke-width="2.2"/>
<text x="1481.8" y="791.88" font-size="19" font-weight="bold" text-anchor="end" textLength="25.5" lengthAdjust="spacingAndGlyphs">0.8</text>
<line x1="1484.8" y1="733.9" x2="1491.3" y2="733.9" stroke="#000" stroke-width="2.2"/>
<text x="1481.8" y="740.3" font-size="19" font-weight="bold" text-anchor="end" textLength="25.5" lengthAdjust="spacingAndGlyphs">1.0</text>
<line x1="1491.3" y1="991.8" x2="1491.3" y2="998.8" stroke="#000" stroke-width="2.2"/>
<text x="1491.3" y="1020.7" font-size="19" font-weight="bold" text-anchor="middle">0</text>
<line x1="1588.4" y1="991.8" x2="1588.4" y2="998.8" stroke="#000" stroke-width="2.2"/>
<text x="1588.4" y="1020.7" font-size="19" font-weight="bold" text-anchor="middle">500</text>
<line x1="1685.5" y1="991.8" x2="1685.5" y2="998.8" stroke="#000" stroke-width="2.2"/>
<text x="1685.5" y="1020.7" font-size="19" font-weight="bold" text-anchor="middle">1000</text>
<line x1="1782.6" y1="991.8" x2="1782.6" y2="998.8" stroke="#000" stroke-width="2.2"/>
<text x="1782.6" y="1020.7" font-size="19" font-weight="bold" text-anchor="middle">1500</text>
<line x1="1879.7" y1="991.8" x2="1879.7" y2="998.8" stroke="#000" stroke-width="2.2"/>
<text x="1879.7" y="1020.7" font-size="19" font-weight="bold" text-anchor="middle">2000</text>
<text x="1445.5" y="862.5" font-size="21" font-weight="bold" text-anchor="middle" textLength="227" lengthAdjust="spacing" transform="rotate(-90 1445.5 862.5)">Cumulative Probability</text>
<text x="1565.3" y="1053.5" font-size="18.5" font-weight="bold" textLength="243.3" lengthAdjust="spacingAndGlyphs">Inter-event Intervals (ms)</text>
<rect x="1668.2" y="873.2" width="55.8" height="104.2" fill="#626262"/>
<rect x="1751.6" y="911" width="55.9" height="66.4" fill="#fe0000"/>
<path d="M1696.5,873.7V860.6M1682.9,860.6H1710.2" fill="none" stroke="#626262" stroke-width="1.6"/>
<path d="M1779.7,911.5V901.6M1766,901.6H1793.6" fill="none" stroke="#fe0000" stroke-width="1.6"/>
<path d="M1639.3,782.4V978.1M1634.5,977.4H1836.9" fill="none" stroke="#000" stroke-width="1.4"/>
<line x1="1634.5" y1="782.7" x2="1639.3" y2="782.7" stroke="#000" stroke-width="1.4"/>
<text x="1633" y="787.65" font-size="15" font-weight="bold" text-anchor="end" textLength="16.5" lengthAdjust="spacingAndGlyphs">10</text>
<line x1="1634.5" y1="821.8" x2="1639.3" y2="821.8" stroke="#000" stroke-width="1.4"/>
<text x="1633" y="826.75" font-size="15" font-weight="bold" text-anchor="end" textLength="8.25" lengthAdjust="spacingAndGlyphs">8</text>
<line x1="1634.5" y1="860.6" x2="1639.3" y2="860.6" stroke="#000" stroke-width="1.4"/>
<text x="1633" y="865.55" font-size="15" font-weight="bold" text-anchor="end" textLength="8.25" lengthAdjust="spacingAndGlyphs">6</text>
<line x1="1634.5" y1="899.7" x2="1639.3" y2="899.7" stroke="#000" stroke-width="1.4"/>
<text x="1633" y="904.65" font-size="15" font-weight="bold" text-anchor="end" textLength="8.25" lengthAdjust="spacingAndGlyphs">4</text>
<line x1="1634.5" y1="938.6" x2="1639.3" y2="938.6" stroke="#000" stroke-width="1.4"/>
<text x="1633" y="943.55" font-size="15" font-weight="bold" text-anchor="end" textLength="8.25" lengthAdjust="spacingAndGlyphs">2</text>
<line x1="1634.5" y1="977.4" x2="1639.3" y2="977.4" stroke="#000" stroke-width="1.4"/>
<text x="1633" y="982.35" font-size="15" font-weight="bold" text-anchor="end" textLength="8.25" lengthAdjust="spacingAndGlyphs">0</text>
<text x="1610.5" y="879.6" font-size="14.5" font-weight="bold" text-anchor="middle" textLength="109" lengthAdjust="spacingAndGlyphs" transform="rotate(-90 1610.5 879.6)">Frequency (Hz)</text>
<circle cx="1696.51" cy="813.4" r="4.4" fill="#000"/>
<circle cx="1702.28" cy="831.77" r="4.4" fill="#000"/>
<circle cx="1689.95" cy="841.74" r="4.4" fill="#000"/>
<circle cx="1689.95" cy="853.28" r="4.4" fill="#000"/>
<circle cx="1701.76" cy="856.7" r="4.4" fill="#000"/>
<circle cx="1696.51" cy="882.15" r="4.4" fill="#000"/>
<circle cx="1689.95" cy="905.24" r="4.4" fill="#000"/>
<circle cx="1707.53" cy="906.55" r="4.4" fill="#000"/>
<circle cx="1701.76" cy="916.26" r="4.4" fill="#000"/>
<circle cx="1689.95" cy="923.08" r="4.4" fill="#000"/>
<rect x="1775.19" y="822.54" width="9" height="9" fill="#000"/>
<rect x="1775.19" y="873.71" width="9" height="9" fill="#000"/>
<rect x="1781.23" y="884.99" width="9" height="9" fill="#000"/>
<rect x="1768.89" y="892.08" width="9" height="9" fill="#000"/>
<rect x="1762.86" y="905.99" width="9" height="9" fill="#000"/>
<rect x="1775.19" y="907.82" width="9" height="9" fill="#000"/>
<rect x="1787.26" y="904.67" width="9" height="9" fill="#000"/>
<rect x="1751.57" y="930.13" width="9" height="9" fill="#000"/>
<rect x="1761.02" y="932.23" width="9" height="9" fill="#000"/>
<rect x="1770.2" y="936.16" width="9" height="9" fill="#000"/>
<rect x="1779.39" y="933.54" width="9" height="9" fill="#000"/>
<rect x="1789.1" y="931.44" width="9" height="9" fill="#000"/>
<rect x="1798.81" y="926.98" width="9" height="9" fill="#000"/>
<text x="1678.1" y="969.5" font-size="26" fill="#0a0a0a" textLength="35.5" lengthAdjust="spacingAndGlyphs" stroke="#0a0a0a" stroke-width="0.5">+/+</text>
<text x="1766.8" y="969.5" font-size="26" fill="#0a0a0a" textLength="28.9" lengthAdjust="spacingAndGlyphs" stroke="#0a0a0a" stroke-width="0.5">+/-</text>
<path d="M1697.3,793V776.7H1783.1V793" fill="none" stroke="#000" stroke-width="1.4"/>
<text x="1740.2" y="779.2" font-size="22" font-weight="bold" text-anchor="middle">*</text>
<text x="17" y="1164.6" font-size="33" font-weight="bold">E</text>
<rect x="82.1" y="1217.9" width="233" height="326.3" fill="url(#gE1)"/>
<rect x="82.1" y="1217.9" width="233" height="326.3" fill="url(#gEv)"/>
<path d="M82.1,1350 L83,1360 L84.5,1400 L87,1440 L89,1470 L92.5,1500 L93.5,1520 L92,1544.2 L82.1,1544.2Z" fill="#060000" clip-path="url(#cE1)" filter="url(#bl05)"/>
<rect x="82.1" y="1217.9" width="233" height="326.3" filter="url(#eD)"/>
<path d="M121.4,1217.9V1544.2M155.5,1217.9V1521.5" fill="none" stroke="#fff" stroke-width="1.4" stroke-dasharray="5.8 2.6"/>
<path d="M82,1229.9L203.8,1301.8" fill="none" stroke="#fff" stroke-width="3.4" stroke-dasharray="15.3 10" stroke-dashoffset="2.3"/>
<path d="M88.5,1450.2H206" fill="none" stroke="#fff" stroke-width="3.6" stroke-dasharray="15 10.6"/>
<text x="123.7" y="1237" font-size="14.5" fill="#fff" textLength="28.8" lengthAdjust="spacingAndGlyphs" stroke="#fff" stroke-width="0.35">II/III</text>
<text x="195" y="1235.6" font-size="14.5" fill="#fff">V</text>
<text x="215" y="1259.2" font-size="29.5" font-weight="bold" font-style="italic" fill="#fff" textLength="51.5" lengthAdjust="spacingAndGlyphs">Oga</text>
<text x="268.27" y="1251.24" font-size="21.83" font-weight="bold" font-style="italic" fill="#fff" textLength="27.5" lengthAdjust="spacingAndGlyphs">+/+</text>
<text x="172.9" y="1383" font-size="27.5" font-weight="bold" fill="#fff" textLength="45.5" lengthAdjust="spacingAndGlyphs">PrL</text>
<text x="180.1" y="1497.2" font-size="27.5" font-weight="bold" fill="#fff" textLength="27.7" lengthAdjust="spacingAndGlyphs">IL</text>
<rect x="262.2" y="1507.4" width="43" height="4.6" fill="#fff"/>
<rect x="82.1" y="1548.2" width="234" height="323.6" fill="url(#gE2)"/>
<rect x="88.1" y="1548.2" width="228" height="323.6" fill="url(#gEv2)"/>
<rect x="82.1" y="1548.2" width="234" height="323.6" filter="url(#eD2)"/>
<path d="M87.9,1671.5Q143.2,1700 218.3,1666.9" fill="none" stroke="#160000" stroke-width="3.6" opacity="0.6" filter="url(#bl1)"/>
<path d="M127.4,1548.2V1871.8M163.2,1532V1871.8" fill="none" stroke="#fff" stroke-width="1.4" stroke-dasharray="5.8 2.6"/>
<path d="M93.2,1591.1L217.7,1663.6" fill="none" stroke="#fff" stroke-width="3.4" stroke-dasharray="16 9.4"/>
<path d="M86.4,1790.1H224" fill="none" stroke="#fff" stroke-width="3.6" stroke-dasharray="15 10.6"/>
<text x="130.6" y="1568.4" font-size="14.5" fill="#fff" textLength="28.3" lengthAdjust="spacingAndGlyphs" stroke="#fff" stroke-width="0.35">II/III</text>
<text x="202.7" y="1568.9" font-size="14.5" fill="#fff">V</text>
<text x="230.8" y="1583.8" font-size="29.5" font-weight="bold" font-style="italic" fill="#fff" textLength="50.4" lengthAdjust="spacingAndGlyphs">Oga</text>
<text x="282.97" y="1575.84" font-size="21.83" font-weight="bold" font-style="italic" fill="#fff" textLength="23.7" lengthAdjust="spacingAndGlyphs">+/-</text>
<text x="188.9" y="1726.9" font-size="27.5" font-weight="bold" fill="#fff" textLength="45.5" lengthAdjust="spacingAndGlyphs">PrL</text>
<text x="192.2" y="1837.9" font-size="27.5" font-weight="bold" fill="#fff" textLength="27.7" lengthAdjust="spacingAndGlyphs">IL</text>
<text x="415.5" y="1159.6" font-size="33" font-weight="bold">F</text>
<g clip-path="url(#cG1)"><rect x="357.62" y="1137.08" width="488.85" height="487.95" filter="url(#gA)" transform="rotate(23 602.05 1381.05)"/></g>
<g clip-path="url(#cG1)" fill="none" stroke="#2fae3a" stroke-width="2.6" opacity="0.55" stroke-linecap="round" filter="url(#bl1)">
<path d="M579.2,1225.6 602.67,1224.53 624,1226.67"/>
<path d="M647.47,1254.4 677.33,1248 709.33,1245.87 762.67,1239.47"/>
<path d="M547.2,1297.07 570.67,1286.4 602.67,1277.87 621.87,1265.07"/>
<path d="M602.67,1341.87 634.67,1342.93 666.67,1344 677.33,1350.4"/>
<path d="M683.73,1345.07 709.33,1344 726.4,1341.87"/>
<path d="M528,1369.6 560,1363.2 581.33,1344"/>
<path d="M532.27,1408 566.4,1408 592,1403.73"/>
<path d="M683.73,1386.67 720,1371.73 762.67,1354.67"/>
<path d="M566.4,1452.8 602.67,1444.27 645.33,1442.13 683.73,1444.27"/>
<path d="M643.2,1504 656,1497.6 668.8,1499.73"/>
<path d="M728.53,1397.33 762.67,1399.47"/>
<path d="M440.53,1239.47 474.67,1235.2 528,1230.93"/>
<path d="M634.67,1393.07 641.07,1418.67 634.67,1440"/>
</g>
<g clip-path="url(#cG1)" fill="#000" opacity="0.75" filter="url(#bl6)">
<ellipse cx="598.4" cy="1376" rx="23.47" ry="29.87"/>
<ellipse cx="613.33" cy="1248" rx="38.4" ry="17.07"/>
<ellipse cx="459.73" cy="1397.33" rx="12.8" ry="12.8"/>
<ellipse cx="519.47" cy="1435.73" rx="32" ry="19.2"/>
<ellipse cx="688" cy="1469.87" rx="19.2" ry="19.2"/>
<ellipse cx="694.4" cy="1324.8" rx="19.2" ry="17.07"/>
<ellipse cx="502.4" cy="1486.93" rx="17.07" ry="14.93"/>
<ellipse cx="677.33" cy="1365.33" rx="21.33" ry="14.93"/>
<ellipse cx="570.67" cy="1386.67" rx="12.8" ry="12.8"/>
<ellipse cx="724.27" cy="1493.33" rx="14.93" ry="12.8"/>
<ellipse cx="451.2" cy="1448.53" rx="8.53" ry="10.67"/>
</g>
<text x="458.5" y="1262.2" font-size="29" font-weight="bold" font-style="italic" fill="#fff" textLength="51" lengthAdjust="spacingAndGlyphs">Oga</text>
<text x="511.24" y="1254.37" font-size="21.46" font-weight="bold" font-style="italic" fill="#fff" textLength="27.7" lengthAdjust="spacingAndGlyphs">+/+</text>
<text x="458" y="1522.4" font-size="30" fill="#fff" textLength="79.6" lengthAdjust="spacingAndGlyphs">MAP2</text>
<g clip-path="url(#cG2)"><rect x="358.65" y="1465.75" width="488.7" height="488.7" filter="url(#gA2)" transform="rotate(-31 603 1710.1)"/></g>
<g clip-path="url(#cG2)" fill="none" stroke="#2aa636" stroke-width="3" opacity="0.5" stroke-linecap="round" filter="url(#bl1)">
<path d="M562.13,1581.67 613.33,1579.53 666.67,1581.67 709.33,1590.2 730.67,1600.87"/>
<path d="M442.67,1637.13 485.33,1635 519.47,1639.27"/>
<path d="M442.67,1705.4 464,1703.27"/>
<path d="M688,1603 702.93,1615.8 709.33,1624.33"/>
<path d="M442.67,1713.93 459.73,1716.07"/>
</g>
<g clip-path="url(#cG2)" fill="#000" opacity="0.7" filter="url(#bl6)">
<ellipse cx="470.4" cy="1763" rx="21.33" ry="19.2"/>
<ellipse cx="568.53" cy="1784.33" rx="17.07" ry="14.93"/>
<ellipse cx="645.33" cy="1660.6" rx="23.47" ry="10.67"/>
<ellipse cx="624" cy="1844.07" rx="27.73" ry="23.47"/>
<ellipse cx="609.07" cy="1807.8" rx="14.93" ry="10.67"/>
<ellipse cx="592" cy="1758.73" rx="8.53" ry="8.53"/>
<ellipse cx="688" cy="1756.6" rx="10.67" ry="10.67"/>
</g>
<text x="458" y="1596.6" font-size="28.5" font-weight="bold" font-style="italic" fill="#fff" textLength="49.7" lengthAdjust="spacingAndGlyphs">Oga</text>
<text x="509.41" y="1588.9" font-size="21.09" font-weight="bold" font-style="italic" fill="#fff" textLength="22.5" lengthAdjust="spacingAndGlyphs">+/-</text>
<g clip-path="url(#cR1)"><rect x="687.52" y="1134.35" width="488.85" height="488.7" filter="url(#rA)" transform="rotate(37 931.95 1378.7)"/></g>
<g clip-path="url(#cR1)" fill="#000" opacity="0.92" filter="url(#bl3)">
<ellipse cx="927.06" cy="1374.43" rx="20.29" ry="22.13"/>
<ellipse cx="967.63" cy="1254.55" rx="25.82" ry="16.6"/>
<ellipse cx="1021.12" cy="1348.61" rx="14.75" ry="12.91"/>
<ellipse cx="794.26" cy="1396.57" rx="12.91" ry="12.91"/>
<ellipse cx="844.06" cy="1415.01" rx="14.75" ry="14.75"/>
<ellipse cx="827.46" cy="1481.41" rx="14.75" ry="14.75"/>
<ellipse cx="1013.74" cy="1459.27" rx="11.07" ry="11.07"/>
<ellipse cx="927.06" cy="1252.71" rx="18.44" ry="14.75"/>
<ellipse cx="864.35" cy="1496.16" rx="11.07" ry="11.07"/>
</g>
<text x="785.9" y="1527.6" font-size="30" fill="#fff" textLength="80" lengthAdjust="spacingAndGlyphs">VGAT</text>
<g clip-path="url(#cR2)"><rect x="687.27" y="1466.08" width="490.35" height="487.95" filter="url(#rA2)" transform="rotate(-19 932.45 1710.05)"/></g>
<g clip-path="url(#cR2)" fill="#000" opacity="0.92" filter="url(#bl3)">
<ellipse cx="797.95" cy="1765.43" rx="25.82" ry="18.44"/>
<ellipse cx="893.86" cy="1787.57" rx="18.44" ry="16.6"/>
<ellipse cx="949.19" cy="1853.96" rx="25.82" ry="18.44"/>
<ellipse cx="971.32" cy="1658.46" rx="14.75" ry="11.07"/>
<ellipse cx="853.28" cy="1687.97" rx="14.75" ry="11.07"/>
<ellipse cx="1063.54" cy="1632.64" rx="14.75" ry="14.75"/>
</g>
<g clip-path="url(#cM1)"><rect x="1018.32" y="1134.2" width="485.85" height="489.6" filter="url(#mA)" transform="rotate(29 1261.25 1379)"/></g>
<g clip-path="url(#cM1)" fill="none" stroke="#4ce834" stroke-width="2" opacity="0.6" stroke-linecap="round" filter="url(#bl1)">
<path d="M1118.87,1237.95 1174.2,1234.26 1247.97,1226.89 1284.86,1223.2"/>
<path d="M1310.68,1254.55 1358.63,1249.02 1421.34,1239.8"/>
<path d="M1207.4,1300.66 1240.59,1285.91 1273.79,1271.15 1284.86,1263.77"/>
<path d="M1266.41,1341.24 1303.3,1343.08 1329.12,1344.92 1340.19,1352.3"/>
<path d="M1343.88,1346.77 1377.07,1341.24"/>
<path d="M1155.75,1370.75 1211.08,1359.68 1266.41,1352.3"/>
<path d="M1196.33,1409.48 1240.59,1407.63"/>
<path d="M1225.84,1453.74 1266.41,1444.52 1325.43,1440.83"/>
<path d="M1303.3,1507.23 1318.06,1498"/>
<path d="M1104.11,1538.58 1155.75,1534.89 1211.08,1536.74"/>
<path d="M1340.19,1385.5 1377.07,1374.43"/>
<path d="M1402.9,1411.32 1423.18,1400.25"/>
</g>
<g clip-path="url(#cM1)" fill="#000" opacity="0.85" filter="url(#bl3)">
<ellipse cx="1259.04" cy="1370.75" rx="22.13" ry="23.98"/>
<ellipse cx="1292.24" cy="1260.08" rx="25.82" ry="16.6"/>
<ellipse cx="1118.87" cy="1400.25" rx="14.75" ry="14.75"/>
<ellipse cx="1177.89" cy="1415.01" rx="14.75" ry="14.75"/>
<ellipse cx="1159.44" cy="1485.09" rx="16.6" ry="16.6"/>
<ellipse cx="1351.25" cy="1462.96" rx="14.75" ry="14.75"/>
<ellipse cx="1354.94" cy="1352.3" rx="16.6" ry="12.91"/>
<ellipse cx="1255.35" cy="1252.71" rx="22.13" ry="14.75"/>
<ellipse cx="1118.87" cy="1448.21" rx="11.07" ry="14.75"/>
<ellipse cx="1155.75" cy="1433.45" rx="14.75" ry="11.07"/>
</g>
<text x="1107" y="1523" font-size="30" fill="#fff" textLength="78.3" lengthAdjust="spacingAndGlyphs">Merge</text>
<g clip-path="url(#cM2)"><rect x="1016.3" y="1465.38" width="490.2" height="490.35" filter="url(#mA2)" transform="rotate(-41 1261.4 1710.55)"/></g>
<g clip-path="url(#cM2)" fill="none" stroke="#4ce834" stroke-width="2.2" opacity="0.6" stroke-linecap="round" filter="url(#bl1)">
<path d="M1240.59,1577.31 1284.86,1579.16 1329.12,1581 1369.7,1592.07"/>
<path d="M1332.81,1584.69 1347.57,1603.13 1358.63,1614.2"/>
<path d="M1104.11,1630.8 1133.62,1632.64 1155.75,1638.17 1174.2,1640.02"/>
<path d="M1100.42,1702.73 1118.87,1702.73"/>
<path d="M1295.92,1684.28 1310.68,1680.59"/>
</g>
<g clip-path="url(#cM2)" fill="#000" opacity="0.85" filter="url(#bl3)">
<ellipse cx="1126.24" cy="1765.43" rx="25.82" ry="18.44"/>
<ellipse cx="1218.46" cy="1783.88" rx="18.44" ry="16.6"/>
<ellipse cx="1266.41" cy="1850.27" rx="22.13" ry="18.44"/>
<ellipse cx="1295.92" cy="1658.46" rx="18.44" ry="11.07"/>
<ellipse cx="1303.3" cy="1848.43" rx="9.22" ry="9.22"/>
<ellipse cx="1343.88" cy="1754.37" rx="11.07" ry="14.75"/>
</g>
<rect x="1324.3" y="1839" width="77.9" height="4" fill="#fff"/>
<rect x="1601.9" y="1357.5" width="95.4" height="302.5" fill="#626262"/>
<rect x="1744.8" y="1435.9" width="94.4" height="224.1" fill="#fe0000"/>
<path d="M1649.9,1358V1344.2M1626.1,1344.2H1673.3" fill="none" stroke="#626262" stroke-width="3"/>
<path d="M1792.5,1437V1410.6M1768.5,1410.6H1816" fill="none" stroke="#fe0000" stroke-width="3"/>
<path d="M1554.7,1295.3V1661.4M1544.5,1659.9H1889.3" fill="none" stroke="#000" stroke-width="3.1"/>
<line x1="1544.5" y1="1358.5" x2="1554" y2="1358.5" stroke="#000" stroke-width="3"/>
<text x="1540.8" y="1366.8" font-size="24.5" font-weight="bold" text-anchor="end" textLength="35.5" lengthAdjust="spacingAndGlyphs">1.0</text>
<line x1="1544.5" y1="1509.2" x2="1554" y2="1509.2" stroke="#000" stroke-width="3"/>
<text x="1540.8" y="1517.5" font-size="24.5" font-weight="bold" text-anchor="end" textLength="35.5" lengthAdjust="spacingAndGlyphs">0.5</text>
<text x="1540.8" y="1668.2" font-size="24.5" font-weight="bold" text-anchor="end" textLength="35.5" lengthAdjust="spacingAndGlyphs">0.0</text>
<circle cx="1649.9" cy="1317.5" r="7.7" fill="#000"/>
<circle cx="1628" cy="1368.1" r="7.7" fill="#000"/>
<circle cx="1649.9" cy="1375.3" r="7.7" fill="#000"/>
<circle cx="1670.7" cy="1370" r="7.7" fill="#000"/>
<rect x="1774.6" y="1387" width="15" height="15" fill="#000"/>
<rect x="1796" y="1382" width="15" height="15" fill="#000"/>
<rect x="1774.6" y="1421.2" width="15" height="15" fill="#000"/>
<rect x="1796" y="1428.4" width="15" height="15" fill="#000"/>
<rect x="1785" y="1529.2" width="15" height="15" fill="#000"/>
<path d="M1651.5,1302.5V1278.8H1794.7V1302.5" fill="none" stroke="#000" stroke-width="3.1"/>
<text x="1721.9" y="1274.8" font-size="30" font-weight="bold" text-anchor="middle">*</text>
<text x="1483.8" y="1478" font-size="29.5" font-weight="bold" text-anchor="middle" textLength="314.6" lengthAdjust="spacingAndGlyphs" transform="rotate(-90 1483.8 1478)">Relative VGAT (+) area</text>
<text x="1610.3" y="1706.8" font-size="29.5" font-weight="bold" font-style="italic" textLength="50.7" lengthAdjust="spacingAndGlyphs">Oga</text>
<text x="1662.77" y="1698.84" font-size="21.83" font-weight="bold" font-style="italic" textLength="26.5" lengthAdjust="spacingAndGlyphs">+/+</text>
<text x="1754" y="1706.8" font-size="29.5" font-weight="bold" font-style="italic" textLength="49.7" lengthAdjust="spacingAndGlyphs">Oga</text>
<text x="1805.47" y="1698.84" font-size="21.83" font-weight="bold" font-style="italic" textLength="21.7" lengthAdjust="spacingAndGlyphs">+/-</text>
</svg>
</body></html>
